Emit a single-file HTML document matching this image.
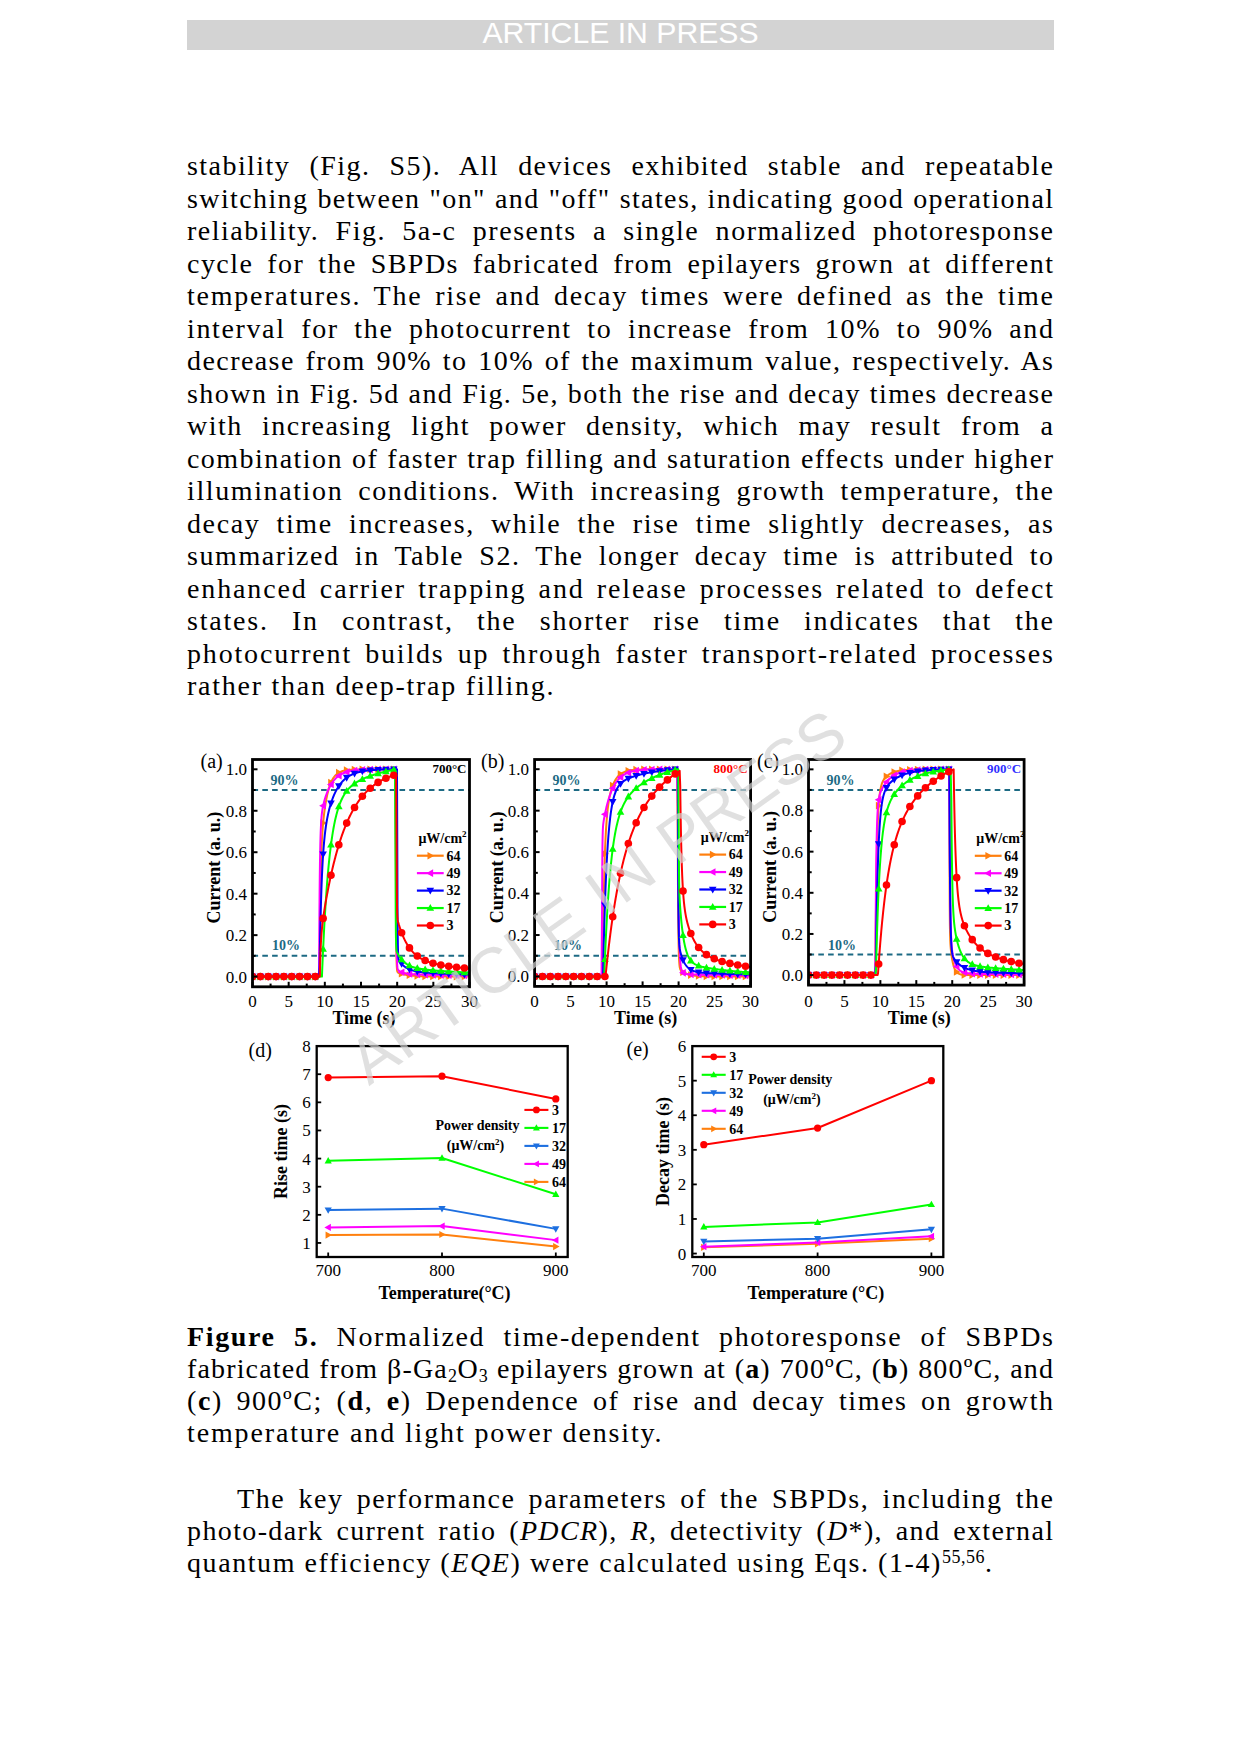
<!DOCTYPE html>
<html><head><meta charset="utf-8"><title>Figure 5</title>
<style>
html,body{margin:0;padding:0;background:#fff;}
body{width:1241px;height:1754px;position:relative;overflow:hidden;}
.hdr{position:absolute;left:187px;top:20px;width:867px;height:30px;background:#d3d3d3;}
.hdr span{position:absolute;left:0;right:0;text-align:center;top:-1.8px;line-height:30px;font-family:"Liberation Sans",sans-serif;font-size:30.2px;color:#fff;white-space:nowrap}
.ln{position:absolute;height:40px;line-height:40px;font-family:"Liberation Serif",serif;font-size:28px;letter-spacing:1.6px;color:#000;white-space:nowrap;text-align:justify;}
.ln sub,.ln sup{font-size:18px;line-height:0;letter-spacing:0.5px}
.ln sub{vertical-align:-4px}
.ln sup{vertical-align:9px}
.fig{position:absolute;left:0;top:0;}
</style></head><body>
<div class="hdr"><span>ARTICLE IN PRESS</span></div>
<div class="ln" style="top:146.15px;left:187px;width:867.45px;letter-spacing:1.446px;text-align-last:justify">stability (Fig. S5). All devices exhibited stable and repeatable</div>
<div class="ln" style="top:178.65px;left:187px;width:867.39px;letter-spacing:1.388px;text-align-last:justify">switching between &quot;on&quot; and &quot;off&quot; states, indicating good operational</div>
<div class="ln" style="top:211.15px;left:187px;width:867.52px;letter-spacing:1.516px;text-align-last:justify">reliability. Fig. 5a-c presents a single normalized photoresponse</div>
<div class="ln" style="top:243.65px;left:187px;width:867.47px;letter-spacing:1.469px;text-align-last:justify">cycle for the SBPDs fabricated from epilayers grown at different</div>
<div class="ln" style="top:276.15px;left:187px;width:867.75px;letter-spacing:1.749px;text-align-last:justify">temperatures. The rise and decay times were defined as the time</div>
<div class="ln" style="top:308.65px;left:187px;width:867.63px;letter-spacing:1.627px;text-align-last:justify">interval for the photocurrent to increase from 10% to 90% and</div>
<div class="ln" style="top:341.15px;left:187px;width:867.43px;letter-spacing:1.430px;text-align-last:justify">decrease from 90% to 10% of the maximum value, respectively. As</div>
<div class="ln" style="top:373.65px;left:187px;width:867.45px;letter-spacing:1.447px;text-align-last:justify">shown in Fig. 5d and Fig. 5e, both the rise and decay times decrease</div>
<div class="ln" style="top:406.15px;left:187px;width:867.49px;letter-spacing:1.493px;text-align-last:justify">with increasing light power density, which may result from a</div>
<div class="ln" style="top:438.65px;left:187px;width:867.45px;letter-spacing:1.447px;text-align-last:justify">combination of faster trap filling and saturation effects under higher</div>
<div class="ln" style="top:471.15px;left:187px;width:867.61px;letter-spacing:1.613px;text-align-last:justify">illumination conditions. With increasing growth temperature, the</div>
<div class="ln" style="top:503.65px;left:187px;width:867.61px;letter-spacing:1.613px;text-align-last:justify">decay time increases, while the rise time slightly decreases, as</div>
<div class="ln" style="top:536.15px;left:187px;width:867.58px;letter-spacing:1.580px;text-align-last:justify">summarized in Table S2. The longer decay time is attributed to</div>
<div class="ln" style="top:568.65px;left:187px;width:867.87px;letter-spacing:1.873px;text-align-last:justify">enhanced carrier trapping and release processes related to defect</div>
<div class="ln" style="top:601.15px;left:187px;width:867.79px;letter-spacing:1.791px;text-align-last:justify">states. In contrast, the shorter rise time indicates that the</div>
<div class="ln" style="top:633.65px;left:187px;width:867.83px;letter-spacing:1.828px;text-align-last:justify">photocurrent builds up through faster transport-related processes</div>
<div class="ln" style="top:666.15px;left:187px;width:867.75px;letter-spacing:1.755px;text-align-last:left">rather than deep-trap filling.</div>
<div class="ln" style="top:1316.75px;left:187px;width:867.65px;letter-spacing:1.648px;text-align-last:justify"><b>Figure 5.</b> Normalized time-dependent photoresponse of SBPDs</div>
<div class="ln" style="top:1348.95px;left:187px;width:867.15px;letter-spacing:1.152px;text-align-last:justify">fabricated from β-Ga<sub>2</sub>O<sub>3</sub> epilayers grown at (<b>a</b>) 700ºC, (<b>b</b>) 800ºC, and</div>
<div class="ln" style="top:1381.15px;left:187px;width:867.56px;letter-spacing:1.558px;text-align-last:justify">(<b>c</b>) 900ºC; (<b>d</b>, <b>e</b>) Dependence of rise and decay times on growth</div>
<div class="ln" style="top:1413.35px;left:187px;width:867.86px;letter-spacing:1.860px;text-align-last:left">temperature and light power density.</div>
<div class="ln" style="top:1478.55px;left:237px;width:817.58px;letter-spacing:1.579px;text-align-last:justify">The key performance parameters of the SBPDs, including the</div>
<div class="ln" style="top:1511.00px;left:187px;width:867.38px;letter-spacing:1.378px;text-align-last:justify">photo-dark current ratio (<i>PDCR</i>), <i>R</i>, detectivity (<i>D</i>*), and external</div>
<div class="ln" style="top:1543.45px;left:187px;width:867.58px;letter-spacing:1.577px;text-align-last:left">quantum efficiency (<i>EQE</i>) were calculated using Eqs. (1-4)<sup>55,56</sup>.</div>

<svg class="fig" width="1241" height="1754" viewBox="0 0 1241 1754" font-family="Liberation Serif">
<line x1="252.50" y1="790.03" x2="469.50" y2="790.03" stroke="#1c6a84" stroke-width="2" stroke-dasharray="5.6,4.2"/>
<line x1="252.50" y1="955.87" x2="469.50" y2="955.87" stroke="#1c6a84" stroke-width="2" stroke-dasharray="5.6,4.2"/>
<clipPath id="clip252"><rect x="252.50" y="759.50" width="217.00" height="227.30"/></clipPath>
<g clip-path="url(#clip252)">
<path d="M252.50,976.60 L253.22,976.60 L253.95,976.60 L254.67,976.60 L255.39,976.60 L256.12,976.60 L256.84,976.60 L257.56,976.60 L258.29,976.60 L259.01,976.60 L259.73,976.60 L260.46,976.60 L261.18,976.60 L261.90,976.60 L262.63,976.60 L263.35,976.60 L264.07,976.60 L264.80,976.60 L265.52,976.60 L266.24,976.60 L266.97,976.60 L267.69,976.60 L268.41,976.60 L269.14,976.60 L269.86,976.60 L270.58,976.60 L271.31,976.60 L272.03,976.60 L272.75,976.60 L273.48,976.60 L274.20,976.60 L274.92,976.60 L275.65,976.60 L276.37,976.60 L277.09,976.60 L277.82,976.60 L278.54,976.60 L279.26,976.60 L279.99,976.60 L280.71,976.60 L281.43,976.60 L282.16,976.60 L282.88,976.60 L283.60,976.60 L284.33,976.60 L285.05,976.60 L285.77,976.60 L286.50,976.60 L287.22,976.60 L287.94,976.60 L288.67,976.60 L289.39,976.60 L290.11,976.60 L290.84,976.60 L291.56,976.60 L292.28,976.60 L293.01,976.60 L293.73,976.60 L294.45,976.60 L295.18,976.60 L295.90,976.60 L296.62,976.60 L297.35,976.60 L298.07,976.60 L298.79,976.60 L299.52,976.60 L300.24,976.60 L300.96,976.60 L301.69,976.60 L302.41,976.60 L303.13,976.60 L303.86,976.60 L304.58,976.60 L305.30,976.60 L306.03,976.60 L306.75,976.60 L307.47,976.60 L308.20,976.60 L308.92,976.60 L309.64,976.60 L310.37,976.60 L311.09,976.60 L311.81,976.60 L312.54,976.60 L313.26,976.60 L313.98,976.60 L314.71,976.60 L315.43,976.60 L316.15,976.60 L316.88,976.60 L317.60,976.60 L318.32,976.60 L319.05,976.60 L319.77,976.60 L319.95,948.85 L320.13,926.65 L320.31,908.81 L320.49,894.37 L320.67,882.61 L320.86,872.95 L321.04,864.94 L321.22,858.23 L321.40,852.56 L321.58,847.69 L321.76,843.48 L321.94,839.79 L322.12,836.52 L322.30,833.59 L322.48,830.93 L322.66,828.50 L322.84,826.25 L323.02,824.17 L323.21,822.21 L323.39,820.37 L323.57,818.63 L323.75,816.98 L323.93,815.40 L324.11,813.89 L324.29,812.44 L324.47,811.05 L324.65,809.72 L324.83,808.43 L325.01,807.19 L325.19,805.99 L325.38,804.83 L325.56,803.71 L325.74,802.63 L325.92,801.58 L326.10,800.57 L326.28,799.59 L326.46,798.64 L326.64,797.72 L326.82,796.83 L327.00,795.97 L327.18,795.14 L327.37,794.33 L327.55,793.55 L327.73,792.79 L327.91,792.06 L328.09,791.34 L328.27,790.66 L328.45,789.99 L328.63,789.34 L328.81,788.72 L328.99,788.11 L329.17,787.52 L329.35,786.95 L329.53,786.40 L329.72,785.87 L329.90,785.35 L330.08,784.85 L330.26,784.36 L330.44,783.89 L330.62,783.44 L330.80,782.99 L330.98,782.57 L331.34,781.75 L331.70,780.99 L332.07,780.27 L332.43,779.59 L332.79,778.96 L333.15,778.37 L333.51,777.81 L333.88,777.28 L334.24,776.79 L334.60,776.33 L334.96,775.90 L335.32,775.49 L335.68,775.11 L336.05,774.76 L336.41,774.42 L336.77,774.11 L337.13,773.81 L337.49,773.53 L337.85,773.27 L338.22,773.03 L338.76,772.69 L339.30,772.38 L339.84,772.10 L340.38,771.85 L340.93,771.62 L341.47,771.41 L342.01,771.21 L342.56,771.04 L343.10,770.88 L343.64,770.74 L344.18,770.61 L344.73,770.49 L345.27,770.38 L345.81,770.28 L346.35,770.19 L346.89,770.11 L347.44,770.04 L347.98,769.97 L348.52,769.91 L349.25,769.84 L349.97,769.77 L350.69,769.72 L351.42,769.67 L352.14,769.62 L352.86,769.59 L353.59,769.55 L354.31,769.52 L355.03,769.49 L355.76,769.47 L356.48,769.45 L357.20,769.43 L357.93,769.42 L358.65,769.40 L359.37,769.39 L360.10,769.38 L360.82,769.37 L361.54,769.36 L362.27,769.35 L362.99,769.35 L363.71,769.34 L364.44,769.34 L365.16,769.33 L365.88,769.33 L366.61,769.33 L367.33,769.32 L368.05,769.32 L368.78,769.32 L369.50,769.32 L370.22,769.31 L370.95,769.31 L371.67,769.31 L372.39,769.31 L373.12,769.31 L373.84,769.31 L374.56,769.31 L375.29,769.31 L376.01,769.30 L376.73,769.30 L377.46,769.30 L378.18,769.30 L378.90,769.30 L379.63,769.30 L380.35,769.30 L381.07,769.30 L381.80,769.30 L382.52,769.30 L383.24,769.30 L383.97,769.30 L384.69,769.30 L385.41,769.30 L386.14,769.30 L386.86,769.30 L387.58,769.30 L388.31,769.30 L389.03,769.30 L389.75,769.30 L390.48,769.30 L391.20,769.30 L391.92,769.30 L392.65,769.30 L393.37,769.30 L394.09,769.30 L394.82,769.30 L395.54,769.30 L395.90,861.78 L396.08,912.07 L396.26,939.43 L396.44,954.34 L396.62,962.47 L396.81,966.93 L396.99,969.39 L397.17,970.75 L397.35,971.53 L397.53,971.99 L397.89,972.45 L398.43,972.78 L398.98,972.99 L399.52,973.18 L400.06,973.36 L400.60,973.53 L401.14,973.69 L401.69,973.84 L402.23,973.98 L402.77,974.12 L403.31,974.25 L403.86,974.37 L404.40,974.49 L404.94,974.60 L405.49,974.70 L406.03,974.80 L406.57,974.89 L407.11,974.98 L407.65,975.07 L408.20,975.15 L408.74,975.22 L409.28,975.29 L409.82,975.36 L410.37,975.43 L410.91,975.49 L411.45,975.54 L412.18,975.62 L412.90,975.69 L413.62,975.75 L414.35,975.81 L415.07,975.86 L415.79,975.91 L416.52,975.96 L417.24,976.00 L417.96,976.04 L418.69,976.08 L419.41,976.12 L420.13,976.15 L420.86,976.18 L421.58,976.21 L422.30,976.24 L423.03,976.26 L423.75,976.29 L424.47,976.31 L425.20,976.33 L425.92,976.35 L426.64,976.36 L427.37,976.38 L428.09,976.40 L428.81,976.41 L429.54,976.42 L430.26,976.43 L430.98,976.45 L431.71,976.46 L432.43,976.47 L433.15,976.48 L433.88,976.48 L434.60,976.49 L435.32,976.50 L436.05,976.51 L436.77,976.51 L437.49,976.52 L438.22,976.52 L438.94,976.53 L439.66,976.53 L440.39,976.54 L441.11,976.54 L441.83,976.55 L442.56,976.55 L443.28,976.55 L444.00,976.56 L444.73,976.56 L445.45,976.56 L446.17,976.57 L446.90,976.57 L447.62,976.57 L448.34,976.57 L449.07,976.57 L449.79,976.58 L450.51,976.58 L451.24,976.58 L451.96,976.58 L452.68,976.58 L453.41,976.58 L454.13,976.58 L454.85,976.59 L455.58,976.59 L456.30,976.59 L457.02,976.59 L457.75,976.59 L458.47,976.59 L459.19,976.59 L459.92,976.59 L460.64,976.59 L461.36,976.59 L462.09,976.59 L462.81,976.59 L463.53,976.59 L464.26,976.59 L464.98,976.59 L465.70,976.59 L466.43,976.60 L467.15,976.60 L467.87,976.60 L468.60,976.60 L469.32,976.60 L469.50,976.60" fill="none" stroke="#ff7f0e" stroke-width="2" stroke-linejoin="round"/>
<polygon points="256.50,976.60 249.70,972.80 249.70,980.40" fill="#ff7f0e"/>
<polygon points="264.35,976.60 257.55,972.80 257.55,980.40" fill="#ff7f0e"/>
<polygon points="272.20,976.60 265.40,972.80 265.40,980.40" fill="#ff7f0e"/>
<polygon points="280.04,976.60 273.24,972.80 273.24,980.40" fill="#ff7f0e"/>
<polygon points="287.89,976.60 281.09,972.80 281.09,980.40" fill="#ff7f0e"/>
<polygon points="295.74,976.60 288.94,972.80 288.94,980.40" fill="#ff7f0e"/>
<polygon points="303.59,976.60 296.79,972.80 296.79,980.40" fill="#ff7f0e"/>
<polygon points="311.44,976.60 304.64,972.80 304.64,980.40" fill="#ff7f0e"/>
<polygon points="319.29,976.60 312.49,972.80 312.49,980.40" fill="#ff7f0e"/>
<polygon points="327.13,822.98 320.33,819.18 320.33,826.78" fill="#ff7f0e"/>
<polygon points="334.98,782.57 328.18,778.77 328.18,786.37" fill="#ff7f0e"/>
<polygon points="342.83,772.65 336.03,768.85 336.03,776.45" fill="#ff7f0e"/>
<polygon points="350.68,770.14 343.88,766.34 343.88,773.94" fill="#ff7f0e"/>
<polygon points="358.53,769.51 351.73,765.71 351.73,773.31" fill="#ff7f0e"/>
<polygon points="366.37,769.35 359.57,765.55 359.57,773.15" fill="#ff7f0e"/>
<polygon points="374.22,769.31 367.42,765.51 367.42,773.11" fill="#ff7f0e"/>
<polygon points="382.07,769.30 375.27,765.50 375.27,773.10" fill="#ff7f0e"/>
<polygon points="389.92,769.30 383.12,765.50 383.12,773.10" fill="#ff7f0e"/>
<polygon points="397.77,769.30 390.97,765.50 390.97,773.10" fill="#ff7f0e"/>
<polygon points="405.62,973.82 398.82,970.02 398.82,977.62" fill="#ff7f0e"/>
<polygon points="413.46,975.32 406.66,971.52 406.66,979.12" fill="#ff7f0e"/>
<polygon points="421.31,976.01 414.51,972.21 414.51,979.81" fill="#ff7f0e"/>
<polygon points="429.16,976.33 422.36,972.53 422.36,980.13" fill="#ff7f0e"/>
<polygon points="437.01,976.47 430.21,972.67 430.21,980.27" fill="#ff7f0e"/>
<polygon points="444.86,976.54 438.06,972.74 438.06,980.34" fill="#ff7f0e"/>
<polygon points="452.70,976.57 445.90,972.77 445.90,980.37" fill="#ff7f0e"/>
<polygon points="460.55,976.59 453.75,972.79 453.75,980.39" fill="#ff7f0e"/>
<polygon points="468.40,976.59 461.60,972.79 461.60,980.39" fill="#ff7f0e"/>
<path d="M252.50,976.60 L253.22,976.60 L253.95,976.60 L254.67,976.60 L255.39,976.60 L256.12,976.60 L256.84,976.60 L257.56,976.60 L258.29,976.60 L259.01,976.60 L259.73,976.60 L260.46,976.60 L261.18,976.60 L261.90,976.60 L262.63,976.60 L263.35,976.60 L264.07,976.60 L264.80,976.60 L265.52,976.60 L266.24,976.60 L266.97,976.60 L267.69,976.60 L268.41,976.60 L269.14,976.60 L269.86,976.60 L270.58,976.60 L271.31,976.60 L272.03,976.60 L272.75,976.60 L273.48,976.60 L274.20,976.60 L274.92,976.60 L275.65,976.60 L276.37,976.60 L277.09,976.60 L277.82,976.60 L278.54,976.60 L279.26,976.60 L279.99,976.60 L280.71,976.60 L281.43,976.60 L282.16,976.60 L282.88,976.60 L283.60,976.60 L284.33,976.60 L285.05,976.60 L285.77,976.60 L286.50,976.60 L287.22,976.60 L287.94,976.60 L288.67,976.60 L289.39,976.60 L290.11,976.60 L290.84,976.60 L291.56,976.60 L292.28,976.60 L293.01,976.60 L293.73,976.60 L294.45,976.60 L295.18,976.60 L295.90,976.60 L296.62,976.60 L297.35,976.60 L298.07,976.60 L298.79,976.60 L299.52,976.60 L300.24,976.60 L300.96,976.60 L301.69,976.60 L302.41,976.60 L303.13,976.60 L303.86,976.60 L304.58,976.60 L305.30,976.60 L306.03,976.60 L306.75,976.60 L307.47,976.60 L308.20,976.60 L308.92,976.60 L309.64,976.60 L310.37,976.60 L311.09,976.60 L311.81,976.60 L312.54,976.60 L313.26,976.60 L313.98,976.60 L314.71,976.60 L315.43,976.60 L316.15,976.60 L316.88,976.60 L317.60,976.60 L318.32,976.60 L319.05,976.60 L319.23,942.22 L319.41,915.19 L319.59,893.90 L319.77,877.08 L319.95,863.76 L320.13,853.17 L320.31,844.71 L320.49,837.92 L320.67,832.43 L320.86,827.96 L321.04,824.29 L321.22,821.25 L321.40,818.70 L321.58,816.53 L321.76,814.68 L321.94,813.06 L322.12,811.64 L322.30,810.36 L322.48,809.22 L322.66,808.16 L322.84,807.19 L323.02,806.29 L323.21,805.44 L323.39,804.63 L323.57,803.86 L323.75,803.12 L323.93,802.41 L324.11,801.73 L324.29,801.06 L324.47,800.42 L324.65,799.79 L324.83,799.18 L325.01,798.58 L325.19,798.00 L325.38,797.43 L325.56,796.88 L325.74,796.33 L325.92,795.80 L326.10,795.28 L326.28,794.77 L326.46,794.27 L326.64,793.78 L326.82,793.29 L327.00,792.82 L327.18,792.36 L327.37,791.91 L327.55,791.47 L327.73,791.03 L327.91,790.61 L328.27,789.78 L328.63,788.98 L328.99,788.22 L329.35,787.49 L329.72,786.78 L330.08,786.10 L330.44,785.45 L330.80,784.82 L331.16,784.22 L331.52,783.64 L331.89,783.08 L332.25,782.55 L332.61,782.03 L332.97,781.54 L333.33,781.06 L333.69,780.61 L334.06,780.17 L334.42,779.75 L334.78,779.34 L335.14,778.95 L335.50,778.58 L335.86,778.22 L336.23,777.87 L336.59,777.54 L336.95,777.22 L337.31,776.91 L337.67,776.61 L338.03,776.33 L338.40,776.06 L338.76,775.79 L339.12,775.54 L339.48,775.30 L340.02,774.95 L340.57,774.63 L341.11,774.32 L341.65,774.03 L342.19,773.76 L342.74,773.50 L343.28,773.26 L343.82,773.03 L344.36,772.81 L344.91,772.61 L345.45,772.42 L345.99,772.24 L346.53,772.07 L347.08,771.91 L347.62,771.76 L348.16,771.61 L348.70,771.48 L349.25,771.35 L349.79,771.23 L350.33,771.12 L350.87,771.02 L351.42,770.92 L351.96,770.82 L352.50,770.73 L353.04,770.65 L353.59,770.57 L354.13,770.50 L354.67,770.43 L355.21,770.36 L355.76,770.30 L356.30,770.24 L357.02,770.17 L357.75,770.10 L358.47,770.04 L359.19,769.98 L359.91,769.93 L360.64,769.88 L361.36,769.84 L362.09,769.79 L362.81,769.76 L363.53,769.72 L364.25,769.69 L364.98,769.66 L365.70,769.63 L366.43,769.60 L367.15,769.58 L367.87,769.56 L368.60,769.54 L369.32,769.52 L370.04,769.50 L370.76,769.48 L371.49,769.47 L372.21,769.45 L372.94,769.44 L373.66,769.43 L374.38,769.42 L375.11,769.41 L375.83,769.40 L376.55,769.39 L377.27,769.38 L378.00,769.38 L378.72,769.37 L379.44,769.36 L380.17,769.36 L380.89,769.35 L381.62,769.35 L382.34,769.34 L383.06,769.34 L383.78,769.33 L384.51,769.33 L385.23,769.33 L385.95,769.32 L386.68,769.32 L387.40,769.32 L388.12,769.32 L388.85,769.31 L389.57,769.31 L390.30,769.31 L391.02,769.31 L391.74,769.31 L392.47,769.31 L393.19,769.30 L393.91,769.30 L394.63,769.30 L395.36,769.30 L395.90,843.06 L396.08,889.59 L396.26,918.97 L396.44,937.54 L396.62,949.31 L396.81,956.78 L396.99,961.54 L397.17,964.60 L397.35,966.58 L397.53,967.88 L397.71,968.75 L397.89,969.34 L398.07,969.77 L398.43,970.32 L398.79,970.68 L399.16,970.96 L399.70,971.29 L400.24,971.58 L400.78,971.84 L401.33,972.08 L401.87,972.29 L402.41,972.49 L402.95,972.67 L403.50,972.83 L404.04,972.97 L404.58,973.11 L405.12,973.23 L405.67,973.34 L406.21,973.45 L406.75,973.54 L407.29,973.63 L407.84,973.71 L408.38,973.78 L408.92,973.85 L409.46,973.91 L410.01,973.97 L410.73,974.04 L411.45,974.10 L412.18,974.16 L412.90,974.21 L413.62,974.26 L414.35,974.31 L415.07,974.35 L415.79,974.39 L416.52,974.42 L417.24,974.46 L417.96,974.49 L418.69,974.52 L419.41,974.55 L420.13,974.57 L420.86,974.60 L421.58,974.62 L422.30,974.65 L423.03,974.67 L423.75,974.69 L424.47,974.71 L425.20,974.73 L425.92,974.75 L426.64,974.77 L427.37,974.79 L428.09,974.81 L428.81,974.83 L429.54,974.84 L430.26,974.86 L430.98,974.88 L431.71,974.90 L432.43,974.91 L433.15,974.93 L433.88,974.94 L434.60,974.96 L435.32,974.98 L436.05,974.99 L436.77,975.01 L437.49,975.02 L438.22,975.04 L438.94,975.05 L439.66,975.06 L440.39,975.08 L441.11,975.09 L441.83,975.11 L442.56,975.12 L443.28,975.13 L444.00,975.15 L444.73,975.16 L445.45,975.18 L446.17,975.19 L446.90,975.20 L447.62,975.21 L448.34,975.23 L449.07,975.24 L449.79,975.25 L450.51,975.27 L451.24,975.28 L451.96,975.29 L452.68,975.30 L453.41,975.31 L454.13,975.33 L454.85,975.34 L455.58,975.35 L456.30,975.36 L457.02,975.37 L457.75,975.38 L458.47,975.39 L459.19,975.41 L459.92,975.42 L460.64,975.43 L461.36,975.44 L462.09,975.45 L462.81,975.46 L463.53,975.47 L464.26,975.48 L464.98,975.49 L465.70,975.50 L466.43,975.51 L467.15,975.52 L467.87,975.53 L468.60,975.54 L469.32,975.55 L469.50,975.55" fill="none" stroke="#ff00ff" stroke-width="2" stroke-linejoin="round"/>
<polygon points="248.50,976.60 255.30,972.80 255.30,980.40" fill="#ff00ff"/>
<polygon points="256.35,976.60 263.15,972.80 263.15,980.40" fill="#ff00ff"/>
<polygon points="264.20,976.60 271.00,972.80 271.00,980.40" fill="#ff00ff"/>
<polygon points="272.04,976.60 278.84,972.80 278.84,980.40" fill="#ff00ff"/>
<polygon points="279.89,976.60 286.69,972.80 286.69,980.40" fill="#ff00ff"/>
<polygon points="287.74,976.60 294.54,972.80 294.54,980.40" fill="#ff00ff"/>
<polygon points="295.59,976.60 302.39,972.80 302.39,980.40" fill="#ff00ff"/>
<polygon points="303.44,976.60 310.24,972.80 310.24,980.40" fill="#ff00ff"/>
<polygon points="311.29,976.60 318.09,972.80 318.09,980.40" fill="#ff00ff"/>
<polygon points="319.13,805.77 325.93,801.97 325.93,809.57" fill="#ff00ff"/>
<polygon points="326.98,784.52 333.78,780.72 333.78,788.32" fill="#ff00ff"/>
<polygon points="334.83,775.74 341.63,771.94 341.63,779.54" fill="#ff00ff"/>
<polygon points="342.68,772.02 349.48,768.22 349.48,775.82" fill="#ff00ff"/>
<polygon points="350.53,770.45 357.33,766.65 357.33,774.25" fill="#ff00ff"/>
<polygon points="358.37,769.78 365.17,765.98 365.17,773.58" fill="#ff00ff"/>
<polygon points="366.22,769.50 373.02,765.70 373.02,773.30" fill="#ff00ff"/>
<polygon points="374.07,769.38 380.87,765.58 380.87,773.18" fill="#ff00ff"/>
<polygon points="381.92,769.32 388.72,765.52 388.72,773.12" fill="#ff00ff"/>
<polygon points="389.77,769.30 396.57,765.50 396.57,773.10" fill="#ff00ff"/>
<polygon points="397.62,972.20 404.42,968.40 404.42,976.00" fill="#ff00ff"/>
<polygon points="405.46,973.91 412.26,970.11 412.26,977.71" fill="#ff00ff"/>
<polygon points="413.31,974.46 420.11,970.66 420.11,978.26" fill="#ff00ff"/>
<polygon points="421.16,974.73 427.96,970.93 427.96,978.53" fill="#ff00ff"/>
<polygon points="429.01,974.92 435.81,971.12 435.81,978.72" fill="#ff00ff"/>
<polygon points="436.86,975.09 443.66,971.29 443.66,978.89" fill="#ff00ff"/>
<polygon points="444.70,975.23 451.50,971.43 451.50,979.03" fill="#ff00ff"/>
<polygon points="452.55,975.36 459.35,971.56 459.35,979.16" fill="#ff00ff"/>
<polygon points="460.40,975.48 467.20,971.68 467.20,979.28" fill="#ff00ff"/>
<path d="M252.50,976.60 L253.22,976.60 L253.95,976.60 L254.67,976.60 L255.39,976.60 L256.12,976.60 L256.84,976.60 L257.56,976.60 L258.29,976.60 L259.01,976.60 L259.73,976.60 L260.46,976.60 L261.18,976.60 L261.90,976.60 L262.63,976.60 L263.35,976.60 L264.07,976.60 L264.80,976.60 L265.52,976.60 L266.24,976.60 L266.97,976.60 L267.69,976.60 L268.41,976.60 L269.14,976.60 L269.86,976.60 L270.58,976.60 L271.31,976.60 L272.03,976.60 L272.75,976.60 L273.48,976.60 L274.20,976.60 L274.92,976.60 L275.65,976.60 L276.37,976.60 L277.09,976.60 L277.82,976.60 L278.54,976.60 L279.26,976.60 L279.99,976.60 L280.71,976.60 L281.43,976.60 L282.16,976.60 L282.88,976.60 L283.60,976.60 L284.33,976.60 L285.05,976.60 L285.77,976.60 L286.50,976.60 L287.22,976.60 L287.94,976.60 L288.67,976.60 L289.39,976.60 L290.11,976.60 L290.84,976.60 L291.56,976.60 L292.28,976.60 L293.01,976.60 L293.73,976.60 L294.45,976.60 L295.18,976.60 L295.90,976.60 L296.62,976.60 L297.35,976.60 L298.07,976.60 L298.79,976.60 L299.52,976.60 L300.24,976.60 L300.96,976.60 L301.69,976.60 L302.41,976.60 L303.13,976.60 L303.86,976.60 L304.58,976.60 L305.30,976.60 L306.03,976.60 L306.75,976.60 L307.47,976.60 L308.20,976.60 L308.92,976.60 L309.64,976.60 L310.37,976.60 L311.09,976.60 L311.81,976.60 L312.54,976.60 L313.26,976.60 L313.98,976.60 L314.71,976.60 L315.43,976.60 L316.15,976.60 L316.88,976.60 L317.60,976.60 L318.32,976.60 L319.05,976.60 L319.59,965.30 L319.77,954.87 L319.95,945.23 L320.13,936.32 L320.31,928.09 L320.49,920.46 L320.67,913.39 L320.86,906.84 L321.04,900.76 L321.22,895.12 L321.40,889.86 L321.58,884.98 L321.76,880.42 L321.94,876.18 L322.12,872.21 L322.30,868.51 L322.48,865.04 L322.66,861.79 L322.84,858.74 L323.02,855.87 L323.21,853.18 L323.39,850.64 L323.57,848.24 L323.75,845.98 L323.93,843.85 L324.11,841.82 L324.29,839.90 L324.47,838.08 L324.65,836.35 L324.83,834.70 L325.01,833.12 L325.19,831.62 L325.38,830.19 L325.56,828.81 L325.74,827.50 L325.92,826.23 L326.10,825.02 L326.28,823.85 L326.46,822.72 L326.64,821.64 L326.82,820.59 L327.00,819.58 L327.18,818.60 L327.37,817.66 L327.55,816.74 L327.73,815.85 L327.91,814.98 L328.09,814.14 L328.27,813.33 L328.45,812.53 L328.63,811.76 L328.81,811.01 L328.99,810.27 L329.17,809.56 L329.35,808.86 L329.53,808.17 L329.72,807.51 L329.90,806.86 L330.08,806.22 L330.26,805.59 L330.44,804.98 L330.62,804.39 L330.80,803.80 L330.98,803.23 L331.16,802.66 L331.34,802.11 L331.52,801.57 L331.70,801.04 L331.89,800.52 L332.07,800.01 L332.25,799.51 L332.43,799.02 L332.61,798.53 L332.79,798.06 L332.97,797.59 L333.15,797.14 L333.33,796.69 L333.51,796.25 L333.69,795.81 L333.88,795.39 L334.06,794.97 L334.42,794.15 L334.78,793.36 L335.14,792.59 L335.50,791.86 L335.86,791.14 L336.23,790.45 L336.59,789.78 L336.95,789.13 L337.31,788.51 L337.67,787.90 L338.03,787.31 L338.40,786.74 L338.76,786.19 L339.12,785.66 L339.48,785.14 L339.84,784.64 L340.20,784.16 L340.57,783.69 L340.93,783.24 L341.29,782.80 L341.65,782.37 L342.01,781.96 L342.37,781.56 L342.74,781.17 L343.10,780.80 L343.46,780.43 L343.82,780.08 L344.18,779.74 L344.54,779.41 L344.91,779.09 L345.27,778.78 L345.63,778.48 L345.99,778.19 L346.35,777.91 L346.71,777.64 L347.08,777.37 L347.44,777.11 L347.80,776.87 L348.16,776.63 L348.70,776.28 L349.25,775.95 L349.79,775.64 L350.33,775.34 L350.87,775.05 L351.42,774.78 L351.96,774.52 L352.50,774.27 L353.04,774.03 L353.59,773.81 L354.13,773.59 L354.67,773.39 L355.21,773.19 L355.76,773.01 L356.30,772.83 L356.84,772.66 L357.38,772.50 L357.93,772.35 L358.47,772.20 L359.01,772.06 L359.55,771.93 L360.10,771.80 L360.64,771.68 L361.18,771.56 L361.72,771.45 L362.27,771.35 L362.81,771.25 L363.35,771.15 L363.89,771.06 L364.44,770.97 L364.98,770.89 L365.52,770.81 L366.06,770.74 L366.61,770.67 L367.15,770.60 L367.69,770.53 L368.23,770.47 L368.78,770.41 L369.50,770.34 L370.22,770.27 L370.95,770.20 L371.67,770.14 L372.39,770.08 L373.12,770.03 L373.84,769.98 L374.56,769.93 L375.29,769.88 L376.01,769.84 L376.73,769.80 L377.46,769.76 L378.18,769.73 L378.90,769.70 L379.63,769.67 L380.35,769.64 L381.07,769.61 L381.80,769.59 L382.52,769.56 L383.24,769.54 L383.97,769.52 L384.69,769.50 L385.41,769.48 L386.14,769.46 L386.86,769.45 L387.58,769.43 L388.31,769.42 L389.03,769.40 L389.75,769.39 L390.48,769.38 L391.20,769.37 L391.92,769.36 L392.65,769.35 L393.37,769.34 L394.09,769.33 L394.82,769.32 L395.54,769.32 L396.26,769.31 L396.99,769.30 L397.35,861.54 L397.53,908.85 L397.71,933.20 L397.89,945.80 L398.07,952.39 L398.25,955.91 L398.43,957.85 L398.61,958.98 L398.79,959.70 L398.98,960.20 L399.34,960.91 L399.70,961.48 L400.06,961.98 L400.42,962.46 L400.78,962.91 L401.14,963.34 L401.51,963.75 L401.87,964.14 L402.23,964.51 L402.59,964.87 L402.95,965.21 L403.31,965.53 L403.68,965.84 L404.04,966.14 L404.40,966.42 L404.76,966.70 L405.12,966.95 L405.49,967.20 L406.03,967.55 L406.57,967.88 L407.11,968.19 L407.65,968.48 L408.20,968.75 L408.74,969.00 L409.28,969.23 L409.82,969.46 L410.37,969.67 L410.91,969.86 L411.45,970.05 L412.00,970.22 L412.54,970.38 L413.08,970.54 L413.62,970.68 L414.17,970.82 L414.71,970.95 L415.25,971.07 L415.79,971.19 L416.33,971.30 L416.88,971.40 L417.42,971.50 L417.96,971.59 L418.50,971.68 L419.05,971.77 L419.59,971.85 L420.13,971.93 L420.68,972.00 L421.22,972.07 L421.76,972.14 L422.30,972.20 L422.85,972.27 L423.39,972.33 L424.11,972.40 L424.83,972.47 L425.56,972.54 L426.28,972.61 L427.00,972.67 L427.73,972.73 L428.45,972.79 L429.17,972.85 L429.90,972.90 L430.62,972.95 L431.34,973.00 L432.07,973.05 L432.79,973.10 L433.51,973.14 L434.24,973.19 L434.96,973.23 L435.68,973.27 L436.41,973.31 L437.13,973.35 L437.85,973.39 L438.58,973.43 L439.30,973.47 L440.02,973.50 L440.75,973.54 L441.47,973.57 L442.19,973.61 L442.92,973.64 L443.64,973.67 L444.36,973.71 L445.09,973.74 L445.81,973.77 L446.53,973.80 L447.26,973.83 L447.98,973.86 L448.70,973.89 L449.43,973.92 L450.15,973.95 L450.87,973.98 L451.60,974.01 L452.32,974.04 L453.04,974.07 L453.77,974.09 L454.49,974.12 L455.21,974.15 L455.94,974.17 L456.66,974.20 L457.38,974.22 L458.11,974.25 L458.83,974.27 L459.55,974.30 L460.28,974.32 L461.00,974.35 L461.72,974.37 L462.45,974.40 L463.17,974.42 L463.89,974.44 L464.62,974.47 L465.34,974.49 L466.06,974.51 L466.79,974.53 L467.51,974.55 L468.23,974.58 L468.96,974.60 L469.50,974.61" fill="none" stroke="#0000ff" stroke-width="2" stroke-linejoin="round"/>
<polygon points="252.50,980.60 248.70,973.80 256.30,973.80" fill="#0000ff"/>
<polygon points="260.35,980.60 256.55,973.80 264.15,973.80" fill="#0000ff"/>
<polygon points="268.20,980.60 264.40,973.80 272.00,973.80" fill="#0000ff"/>
<polygon points="276.04,980.60 272.24,973.80 279.84,973.80" fill="#0000ff"/>
<polygon points="283.89,980.60 280.09,973.80 287.69,973.80" fill="#0000ff"/>
<polygon points="291.74,980.60 287.94,973.80 295.54,973.80" fill="#0000ff"/>
<polygon points="299.59,980.60 295.79,973.80 303.39,973.80" fill="#0000ff"/>
<polygon points="307.44,980.60 303.64,973.80 311.24,973.80" fill="#0000ff"/>
<polygon points="315.29,980.60 311.49,973.80 319.09,973.80" fill="#0000ff"/>
<polygon points="323.13,858.23 319.33,851.43 326.93,851.43" fill="#0000ff"/>
<polygon points="330.98,807.23 327.18,800.43 334.78,800.43" fill="#0000ff"/>
<polygon points="338.83,790.09 335.03,783.29 342.63,783.29" fill="#0000ff"/>
<polygon points="346.68,781.66 342.88,774.86 350.48,774.86" fill="#0000ff"/>
<polygon points="354.53,777.44 350.73,770.64 358.33,770.64" fill="#0000ff"/>
<polygon points="362.37,775.33 358.57,768.53 366.17,768.53" fill="#0000ff"/>
<polygon points="370.22,774.27 366.42,767.47 374.02,767.47" fill="#0000ff"/>
<polygon points="378.07,773.73 374.27,766.93 381.87,766.93" fill="#0000ff"/>
<polygon points="385.92,773.47 382.12,766.67 389.72,766.67" fill="#0000ff"/>
<polygon points="393.77,773.33 389.97,766.53 397.57,766.53" fill="#0000ff"/>
<polygon points="401.62,967.87 397.82,961.07 405.42,961.07" fill="#0000ff"/>
<polygon points="409.46,973.31 405.66,966.51 413.26,966.51" fill="#0000ff"/>
<polygon points="417.31,975.48 413.51,968.68 421.11,968.68" fill="#0000ff"/>
<polygon points="425.16,976.51 421.36,969.71 428.96,969.71" fill="#0000ff"/>
<polygon points="433.01,977.11 429.21,970.31 436.81,970.31" fill="#0000ff"/>
<polygon points="440.86,977.54 437.06,970.74 444.66,970.74" fill="#0000ff"/>
<polygon points="448.70,977.89 444.90,971.09 452.50,971.09" fill="#0000ff"/>
<polygon points="456.55,978.19 452.75,971.39 460.35,971.39" fill="#0000ff"/>
<polygon points="464.40,978.46 460.60,971.66 468.20,971.66" fill="#0000ff"/>
<path d="M252.50,976.60 L253.22,976.60 L253.95,976.60 L254.67,976.60 L255.39,976.60 L256.12,976.60 L256.84,976.60 L257.56,976.60 L258.29,976.60 L259.01,976.60 L259.73,976.60 L260.46,976.60 L261.18,976.60 L261.90,976.60 L262.63,976.60 L263.35,976.60 L264.07,976.60 L264.80,976.60 L265.52,976.60 L266.24,976.60 L266.97,976.60 L267.69,976.60 L268.41,976.60 L269.14,976.60 L269.86,976.60 L270.58,976.60 L271.31,976.60 L272.03,976.60 L272.75,976.60 L273.48,976.60 L274.20,976.60 L274.92,976.60 L275.65,976.60 L276.37,976.60 L277.09,976.60 L277.82,976.60 L278.54,976.60 L279.26,976.60 L279.99,976.60 L280.71,976.60 L281.43,976.60 L282.16,976.60 L282.88,976.60 L283.60,976.60 L284.33,976.60 L285.05,976.60 L285.77,976.60 L286.50,976.60 L287.22,976.60 L287.94,976.60 L288.67,976.60 L289.39,976.60 L290.11,976.60 L290.84,976.60 L291.56,976.60 L292.28,976.60 L293.01,976.60 L293.73,976.60 L294.45,976.60 L295.18,976.60 L295.90,976.60 L296.62,976.60 L297.35,976.60 L298.07,976.60 L298.79,976.60 L299.52,976.60 L300.24,976.60 L300.96,976.60 L301.69,976.60 L302.41,976.60 L303.13,976.60 L303.86,976.60 L304.58,976.60 L305.30,976.60 L306.03,976.60 L306.75,976.60 L307.47,976.60 L308.20,976.60 L308.92,976.60 L309.64,976.60 L310.37,976.60 L311.09,976.60 L311.81,976.60 L312.54,976.60 L313.26,976.60 L313.98,976.60 L314.71,976.60 L315.43,976.60 L316.15,976.60 L316.88,976.60 L317.60,976.60 L318.32,976.60 L319.05,976.60 L319.77,976.60 L320.49,976.60 L321.22,976.60 L321.94,976.60 L322.12,972.12 L322.30,967.75 L322.48,963.49 L322.66,959.33 L322.84,955.26 L323.02,951.30 L323.21,947.43 L323.39,943.65 L323.57,939.96 L323.75,936.36 L323.93,932.85 L324.11,929.42 L324.29,926.07 L324.47,922.80 L324.65,919.61 L324.83,916.50 L325.01,913.46 L325.19,910.49 L325.38,907.59 L325.56,904.76 L325.74,902.00 L325.92,899.30 L326.10,896.67 L326.28,894.10 L326.46,891.59 L326.64,889.14 L326.82,886.74 L327.00,884.41 L327.18,882.12 L327.37,879.89 L327.55,877.72 L327.73,875.59 L327.91,873.52 L328.09,871.49 L328.27,869.51 L328.45,867.58 L328.63,865.69 L328.81,863.84 L328.99,862.04 L329.17,860.28 L329.35,858.56 L329.53,856.88 L329.72,855.24 L329.90,853.64 L330.08,852.07 L330.26,850.54 L330.44,849.04 L330.62,847.58 L330.80,846.16 L330.98,844.76 L331.16,843.40 L331.34,842.07 L331.52,840.77 L331.70,839.49 L331.89,838.25 L332.07,837.04 L332.25,835.85 L332.43,834.69 L332.61,833.55 L332.79,832.44 L332.97,831.36 L333.15,830.30 L333.33,829.26 L333.51,828.25 L333.69,827.26 L333.88,826.29 L334.06,825.34 L334.24,824.42 L334.42,823.51 L334.60,822.63 L334.78,821.76 L334.96,820.91 L335.14,820.08 L335.32,819.27 L335.50,818.48 L335.68,817.70 L335.86,816.94 L336.05,816.20 L336.23,815.47 L336.41,814.76 L336.59,814.07 L336.77,813.39 L336.95,812.72 L337.13,812.07 L337.31,811.43 L337.49,810.80 L337.67,810.19 L337.85,809.59 L338.03,809.00 L338.22,808.43 L338.40,807.87 L338.58,807.31 L338.76,806.77 L338.94,806.25 L339.12,805.73 L339.30,805.22 L339.48,804.72 L339.66,804.24 L339.84,803.76 L340.02,803.29 L340.20,802.83 L340.38,802.38 L340.57,801.94 L340.75,801.51 L340.93,801.09 L341.29,800.27 L341.65,799.48 L342.01,798.72 L342.37,797.99 L342.74,797.28 L343.10,796.61 L343.46,795.95 L343.82,795.32 L344.18,794.72 L344.54,794.13 L344.91,793.57 L345.27,793.02 L345.63,792.50 L345.99,791.99 L346.35,791.50 L346.71,791.02 L347.08,790.57 L347.44,790.12 L347.80,789.69 L348.16,789.27 L348.52,788.87 L348.88,788.48 L349.25,788.10 L349.61,787.73 L349.97,787.37 L350.33,787.02 L350.69,786.68 L351.05,786.36 L351.42,786.04 L351.78,785.73 L352.14,785.42 L352.50,785.13 L352.86,784.84 L353.22,784.56 L353.59,784.29 L353.95,784.02 L354.31,783.76 L354.67,783.51 L355.03,783.26 L355.39,783.01 L355.94,782.66 L356.48,782.32 L357.02,781.98 L357.56,781.66 L358.11,781.35 L358.65,781.04 L359.19,780.75 L359.73,780.46 L360.28,780.18 L360.82,779.91 L361.36,779.64 L361.90,779.38 L362.45,779.12 L362.99,778.88 L363.53,778.63 L364.07,778.39 L364.62,778.16 L365.16,777.93 L365.70,777.71 L366.24,777.49 L366.79,777.27 L367.33,777.06 L367.87,776.85 L368.41,776.65 L368.96,776.45 L369.50,776.25 L370.04,776.06 L370.58,775.87 L371.13,775.68 L371.67,775.49 L372.21,775.31 L372.75,775.13 L373.30,774.95 L373.84,774.78 L374.38,774.60 L374.92,774.43 L375.47,774.26 L376.01,774.10 L376.55,773.93 L377.09,773.77 L377.64,773.61 L378.18,773.46 L378.72,773.30 L379.26,773.15 L379.81,773.00 L380.35,772.85 L380.89,772.70 L381.43,772.55 L381.98,772.41 L382.52,772.26 L383.06,772.12 L383.60,771.98 L384.15,771.84 L384.69,771.71 L385.23,771.57 L385.77,771.44 L386.32,771.31 L386.86,771.17 L387.40,771.05 L387.94,770.92 L388.49,770.79 L389.03,770.67 L389.57,770.54 L390.11,770.42 L390.66,770.30 L391.20,770.18 L391.74,770.06 L392.28,769.94 L392.83,769.83 L393.37,769.71 L393.91,769.60 L394.45,769.48 L395.00,769.37 L395.54,870.21 L395.72,914.80 L395.90,934.64 L396.08,943.59 L396.26,947.75 L396.44,949.80 L396.62,950.92 L396.81,951.62 L396.99,952.14 L397.17,952.57 L397.53,953.32 L397.89,954.01 L398.25,954.67 L398.61,955.29 L398.98,955.89 L399.34,956.46 L399.70,957.00 L400.06,957.53 L400.42,958.03 L400.78,958.51 L401.14,958.97 L401.51,959.40 L401.87,959.82 L402.23,960.23 L402.59,960.61 L402.95,960.98 L403.31,961.34 L403.68,961.68 L404.04,962.00 L404.40,962.31 L404.76,962.61 L405.12,962.90 L405.49,963.17 L405.85,963.44 L406.21,963.69 L406.57,963.93 L407.11,964.28 L407.65,964.61 L408.20,964.91 L408.74,965.20 L409.28,965.48 L409.82,965.73 L410.37,965.98 L410.91,966.21 L411.45,966.42 L412.00,966.63 L412.54,966.82 L413.08,967.01 L413.62,967.18 L414.17,967.35 L414.71,967.50 L415.25,967.65 L415.79,967.80 L416.33,967.93 L416.88,968.06 L417.42,968.19 L417.96,968.30 L418.50,968.42 L419.05,968.52 L419.59,968.63 L420.13,968.73 L420.68,968.82 L421.22,968.91 L421.76,969.00 L422.30,969.09 L422.85,969.17 L423.39,969.25 L423.93,969.32 L424.47,969.40 L425.01,969.47 L425.56,969.54 L426.10,969.60 L426.64,969.67 L427.19,969.73 L427.73,969.79 L428.27,969.85 L428.81,969.91 L429.54,969.99 L430.26,970.06 L430.98,970.13 L431.71,970.20 L432.43,970.27 L433.15,970.33 L433.88,970.39 L434.60,970.46 L435.32,970.52 L436.05,970.58 L436.77,970.63 L437.49,970.69 L438.22,970.75 L438.94,970.80 L439.66,970.85 L440.39,970.91 L441.11,970.96 L441.83,971.01 L442.56,971.06 L443.28,971.11 L444.00,971.16 L444.73,971.21 L445.45,971.26 L446.17,971.30 L446.90,971.35 L447.62,971.39 L448.34,971.44 L449.07,971.48 L449.79,971.53 L450.51,971.57 L451.24,971.62 L451.96,971.66 L452.68,971.70 L453.41,971.74 L454.13,971.78 L454.85,971.82 L455.58,971.87 L456.30,971.91 L457.02,971.95 L457.75,971.98 L458.47,972.02 L459.19,972.06 L459.92,972.10 L460.64,972.14 L461.36,972.18 L462.09,972.21 L462.81,972.25 L463.53,972.29 L464.26,972.32 L464.98,972.36 L465.70,972.40 L466.43,972.43 L467.15,972.47 L467.87,972.50 L468.60,972.53 L469.32,972.57 L469.50,972.58" fill="none" stroke="#00ff00" stroke-width="2" stroke-linejoin="round"/>
<polygon points="252.50,972.60 248.70,979.40 256.30,979.40" fill="#00ff00"/>
<polygon points="260.35,972.60 256.55,979.40 264.15,979.40" fill="#00ff00"/>
<polygon points="268.20,972.60 264.40,979.40 272.00,979.40" fill="#00ff00"/>
<polygon points="276.04,972.60 272.24,979.40 279.84,979.40" fill="#00ff00"/>
<polygon points="283.89,972.60 280.09,979.40 287.69,979.40" fill="#00ff00"/>
<polygon points="291.74,972.60 287.94,979.40 295.54,979.40" fill="#00ff00"/>
<polygon points="299.59,972.60 295.79,979.40 303.39,979.40" fill="#00ff00"/>
<polygon points="307.44,972.60 303.64,979.40 311.24,979.40" fill="#00ff00"/>
<polygon points="315.29,972.60 311.49,979.40 319.09,979.40" fill="#00ff00"/>
<polygon points="323.13,944.97 319.33,951.77 326.93,951.77" fill="#00ff00"/>
<polygon points="330.98,840.76 327.18,847.56 334.78,847.56" fill="#00ff00"/>
<polygon points="338.83,802.56 335.03,809.36 342.63,809.36" fill="#00ff00"/>
<polygon points="346.68,787.07 342.88,793.87 350.48,793.87" fill="#00ff00"/>
<polygon points="354.53,779.61 350.73,786.41 358.33,786.41" fill="#00ff00"/>
<polygon points="362.37,775.16 358.57,781.96 366.17,781.96" fill="#00ff00"/>
<polygon points="370.22,771.99 366.42,778.79 374.02,778.79" fill="#00ff00"/>
<polygon points="378.07,769.49 374.27,776.29 381.87,776.29" fill="#00ff00"/>
<polygon points="385.92,767.40 382.12,774.20 389.72,774.20" fill="#00ff00"/>
<polygon points="393.77,765.63 389.97,772.43 397.57,772.43" fill="#00ff00"/>
<polygon points="401.62,955.53 397.82,962.33 405.42,962.33" fill="#00ff00"/>
<polygon points="409.46,961.56 405.66,968.36 413.26,968.36" fill="#00ff00"/>
<polygon points="417.31,964.16 413.51,970.96 421.11,970.96" fill="#00ff00"/>
<polygon points="425.16,965.49 421.36,972.29 428.96,972.29" fill="#00ff00"/>
<polygon points="433.01,966.32 429.21,973.12 436.81,973.12" fill="#00ff00"/>
<polygon points="440.86,966.94 437.06,973.74 444.66,973.74" fill="#00ff00"/>
<polygon points="448.70,967.46 444.90,974.26 452.50,974.26" fill="#00ff00"/>
<polygon points="456.55,967.92 452.75,974.72 460.35,974.72" fill="#00ff00"/>
<polygon points="464.40,968.33 460.60,975.13 468.20,975.13" fill="#00ff00"/>
<path d="M252.50,976.60 L253.22,976.60 L253.95,976.60 L254.67,976.60 L255.39,976.60 L256.12,976.60 L256.84,976.60 L257.56,976.60 L258.29,976.60 L259.01,976.60 L259.73,976.60 L260.46,976.60 L261.18,976.60 L261.90,976.60 L262.63,976.60 L263.35,976.60 L264.07,976.60 L264.80,976.60 L265.52,976.60 L266.24,976.60 L266.97,976.60 L267.69,976.60 L268.41,976.60 L269.14,976.60 L269.86,976.60 L270.58,976.60 L271.31,976.60 L272.03,976.60 L272.75,976.60 L273.48,976.60 L274.20,976.60 L274.92,976.60 L275.65,976.60 L276.37,976.60 L277.09,976.60 L277.82,976.60 L278.54,976.60 L279.26,976.60 L279.99,976.60 L280.71,976.60 L281.43,976.60 L282.16,976.60 L282.88,976.60 L283.60,976.60 L284.33,976.60 L285.05,976.60 L285.77,976.60 L286.50,976.60 L287.22,976.60 L287.94,976.60 L288.67,976.60 L289.39,976.60 L290.11,976.60 L290.84,976.60 L291.56,976.60 L292.28,976.60 L293.01,976.60 L293.73,976.60 L294.45,976.60 L295.18,976.60 L295.90,976.60 L296.62,976.60 L297.35,976.60 L298.07,976.60 L298.79,976.60 L299.52,976.60 L300.24,976.60 L300.96,976.60 L301.69,976.60 L302.41,976.60 L303.13,976.60 L303.86,976.60 L304.58,976.60 L305.30,976.60 L306.03,976.60 L306.75,976.60 L307.47,976.60 L308.20,976.60 L308.92,976.60 L309.64,976.60 L310.37,976.60 L311.09,976.60 L311.81,976.60 L312.54,976.60 L313.26,976.60 L313.98,976.60 L314.71,976.60 L315.43,976.60 L316.15,976.60 L316.88,976.60 L317.60,976.60 L318.32,976.60 L319.05,976.60 L319.77,976.60 L319.95,968.80 L320.13,962.18 L320.31,956.51 L320.49,951.63 L320.67,947.41 L320.86,943.72 L321.04,940.48 L321.22,937.60 L321.40,935.02 L321.58,932.69 L321.76,930.57 L321.94,928.62 L322.12,926.81 L322.30,925.12 L322.48,923.52 L322.66,922.01 L322.84,920.57 L323.02,919.19 L323.21,917.86 L323.39,916.57 L323.57,915.31 L323.75,914.09 L323.93,912.90 L324.11,911.72 L324.29,910.57 L324.47,909.44 L324.65,908.33 L324.83,907.22 L325.01,906.14 L325.19,905.06 L325.38,904.00 L325.56,902.95 L325.74,901.91 L325.92,900.88 L326.10,899.86 L326.28,898.85 L326.46,897.84 L326.64,896.85 L326.82,895.86 L327.00,894.89 L327.18,893.91 L327.37,892.95 L327.55,892.00 L327.73,891.05 L327.91,890.11 L328.09,889.18 L328.27,888.25 L328.45,887.34 L328.63,886.43 L328.81,885.52 L328.99,884.62 L329.17,883.73 L329.35,882.85 L329.53,881.98 L329.72,881.11 L329.90,880.24 L330.08,879.39 L330.26,878.54 L330.44,877.69 L330.62,876.86 L330.80,876.03 L330.98,875.20 L331.16,874.38 L331.34,873.57 L331.52,872.77 L331.70,871.97 L331.89,871.17 L332.07,870.39 L332.25,869.60 L332.43,868.83 L332.61,868.06 L332.79,867.30 L332.97,866.54 L333.15,865.79 L333.33,865.04 L333.51,864.30 L333.69,863.56 L333.88,862.84 L334.06,862.11 L334.24,861.39 L334.42,860.68 L334.60,859.97 L334.78,859.27 L334.96,858.57 L335.14,857.88 L335.32,857.20 L335.50,856.52 L335.68,855.84 L335.86,855.17 L336.05,854.50 L336.23,853.84 L336.41,853.19 L336.59,852.54 L336.77,851.89 L336.95,851.25 L337.13,850.62 L337.31,849.99 L337.49,849.36 L337.67,848.74 L337.85,848.12 L338.03,847.51 L338.22,846.90 L338.40,846.30 L338.58,845.70 L338.76,845.11 L338.94,844.52 L339.12,843.93 L339.30,843.35 L339.48,842.78 L339.66,842.21 L339.84,841.64 L340.02,841.08 L340.20,840.52 L340.38,839.97 L340.57,839.42 L340.75,838.87 L340.93,838.33 L341.11,837.79 L341.29,837.26 L341.47,836.73 L341.65,836.20 L341.83,835.68 L342.01,835.17 L342.19,834.65 L342.37,834.14 L342.56,833.64 L342.74,833.14 L342.92,832.64 L343.10,832.14 L343.28,831.65 L343.46,831.17 L343.64,830.68 L343.82,830.21 L344.00,829.73 L344.18,829.26 L344.36,828.79 L344.54,828.32 L344.73,827.86 L344.91,827.41 L345.09,826.95 L345.27,826.50 L345.45,826.05 L345.63,825.61 L345.81,825.17 L345.99,824.73 L346.17,824.30 L346.35,823.87 L346.53,823.44 L346.71,823.02 L346.89,822.60 L347.26,821.76 L347.62,820.94 L347.98,820.14 L348.34,819.34 L348.70,818.56 L349.06,817.79 L349.43,817.03 L349.79,816.28 L350.15,815.55 L350.51,814.82 L350.87,814.11 L351.24,813.40 L351.60,812.71 L351.96,812.03 L352.32,811.36 L352.68,810.69 L353.04,810.04 L353.40,809.40 L353.77,808.77 L354.13,808.15 L354.49,807.53 L354.85,806.93 L355.21,806.34 L355.57,805.75 L355.94,805.17 L356.30,804.60 L356.66,804.05 L357.02,803.49 L357.38,802.95 L357.75,802.42 L358.11,801.89 L358.47,801.37 L358.83,800.86 L359.19,800.36 L359.55,799.87 L359.91,799.38 L360.28,798.90 L360.64,798.43 L361.00,797.96 L361.36,797.50 L361.72,797.05 L362.09,796.61 L362.45,796.17 L362.81,795.74 L363.17,795.31 L363.53,794.89 L363.89,794.48 L364.25,794.07 L364.62,793.67 L364.98,793.28 L365.34,792.89 L365.70,792.51 L366.06,792.14 L366.43,791.77 L366.79,791.40 L367.15,791.04 L367.51,790.69 L367.87,790.34 L368.23,790.00 L368.60,789.66 L368.96,789.33 L369.32,789.00 L369.68,788.68 L370.04,788.36 L370.40,788.05 L370.76,787.74 L371.13,787.43 L371.49,787.13 L371.85,786.84 L372.21,786.55 L372.57,786.26 L372.94,785.98 L373.30,785.71 L373.66,785.43 L374.02,785.17 L374.38,784.90 L374.74,784.64 L375.11,784.38 L375.47,784.13 L375.83,783.88 L376.19,783.64 L376.55,783.40 L377.09,783.04 L377.64,782.69 L378.18,782.35 L378.72,782.02 L379.26,781.70 L379.81,781.38 L380.35,781.07 L380.89,780.77 L381.43,780.47 L381.98,780.18 L382.52,779.90 L383.06,779.63 L383.60,779.36 L384.15,779.09 L384.69,778.83 L385.23,778.58 L385.77,778.34 L386.32,778.10 L386.86,777.86 L387.40,777.63 L387.94,777.41 L388.49,777.19 L389.03,776.97 L389.57,776.76 L390.11,776.56 L390.66,776.36 L391.20,776.16 L391.74,775.97 L392.28,775.78 L392.83,775.60 L393.37,775.42 L393.91,775.25 L394.45,775.08 L395.00,774.91 L395.54,774.75 L396.08,774.59 L396.62,851.91 L396.81,887.64 L396.99,904.34 L397.17,912.34 L397.35,916.36 L397.53,918.56 L397.71,919.92 L397.89,920.89 L398.07,921.69 L398.25,922.39 L398.43,923.05 L398.61,923.68 L398.79,924.30 L398.98,924.90 L399.16,925.49 L399.34,926.07 L399.52,926.65 L399.70,927.21 L399.88,927.77 L400.06,928.31 L400.24,928.85 L400.42,929.38 L400.60,929.91 L400.78,930.42 L400.96,930.93 L401.14,931.43 L401.33,931.92 L401.51,932.40 L401.69,932.88 L401.87,933.35 L402.05,933.82 L402.23,934.27 L402.41,934.72 L402.59,935.16 L402.77,935.60 L402.95,936.03 L403.13,936.45 L403.50,937.28 L403.86,938.08 L404.22,938.86 L404.58,939.62 L404.94,940.35 L405.30,941.06 L405.67,941.75 L406.03,942.43 L406.39,943.08 L406.75,943.71 L407.11,944.32 L407.47,944.92 L407.84,945.50 L408.20,946.06 L408.56,946.61 L408.92,947.14 L409.28,947.66 L409.64,948.16 L410.01,948.64 L410.37,949.11 L410.73,949.57 L411.09,950.02 L411.45,950.45 L411.81,950.88 L412.18,951.29 L412.54,951.68 L412.90,952.07 L413.26,952.45 L413.62,952.81 L413.98,953.17 L414.35,953.51 L414.71,953.85 L415.07,954.18 L415.43,954.50 L415.79,954.81 L416.15,955.11 L416.52,955.40 L416.88,955.69 L417.24,955.97 L417.60,956.24 L417.96,956.50 L418.32,956.76 L418.69,957.01 L419.05,957.25 L419.59,957.60 L420.13,957.94 L420.68,958.27 L421.22,958.58 L421.76,958.89 L422.30,959.18 L422.85,959.46 L423.39,959.73 L423.93,959.99 L424.47,960.24 L425.01,960.49 L425.56,960.72 L426.10,960.95 L426.64,961.16 L427.19,961.38 L427.73,961.58 L428.27,961.78 L428.81,961.97 L429.36,962.15 L429.90,962.33 L430.44,962.50 L430.98,962.67 L431.52,962.83 L432.07,962.99 L432.61,963.14 L433.15,963.29 L433.69,963.43 L434.24,963.57 L434.78,963.71 L435.32,963.84 L435.87,963.97 L436.41,964.10 L436.95,964.22 L437.49,964.34 L438.03,964.45 L438.58,964.56 L439.12,964.67 L439.66,964.78 L440.20,964.89 L440.75,964.99 L441.29,965.09 L441.83,965.19 L442.38,965.28 L442.92,965.38 L443.46,965.47 L444.00,965.56 L444.55,965.64 L445.09,965.73 L445.63,965.81 L446.17,965.90 L446.72,965.98 L447.26,966.06 L447.80,966.14 L448.34,966.21 L448.88,966.29 L449.43,966.36 L449.97,966.44 L450.51,966.51 L451.06,966.58 L451.60,966.65 L452.14,966.72 L452.68,966.78 L453.23,966.85 L453.77,966.91 L454.31,966.98 L454.85,967.04 L455.39,967.11 L455.94,967.17 L456.48,967.23 L457.02,967.29 L457.57,967.35 L458.11,967.41 L458.65,967.47 L459.19,967.52 L459.92,967.60 L460.64,967.67 L461.36,967.75 L462.09,967.82 L462.81,967.89 L463.53,967.96 L464.26,968.03 L464.98,968.10 L465.70,968.17 L466.43,968.23 L467.15,968.30 L467.87,968.37 L468.60,968.43 L469.32,968.49 L469.50,968.51" fill="none" stroke="#ff0000" stroke-width="2" stroke-linejoin="round"/>
<circle cx="252.50" cy="976.60" r="3.80" fill="#ff0000"/>
<circle cx="260.35" cy="976.60" r="3.80" fill="#ff0000"/>
<circle cx="268.20" cy="976.60" r="3.80" fill="#ff0000"/>
<circle cx="276.04" cy="976.60" r="3.80" fill="#ff0000"/>
<circle cx="283.89" cy="976.60" r="3.80" fill="#ff0000"/>
<circle cx="291.74" cy="976.60" r="3.80" fill="#ff0000"/>
<circle cx="299.59" cy="976.60" r="3.80" fill="#ff0000"/>
<circle cx="307.44" cy="976.60" r="3.80" fill="#ff0000"/>
<circle cx="315.29" cy="976.60" r="3.80" fill="#ff0000"/>
<circle cx="323.13" cy="918.39" r="3.80" fill="#ff0000"/>
<circle cx="330.98" cy="875.20" r="3.80" fill="#ff0000"/>
<circle cx="338.83" cy="844.87" r="3.80" fill="#ff0000"/>
<circle cx="346.68" cy="823.10" r="3.80" fill="#ff0000"/>
<circle cx="354.53" cy="807.47" r="3.80" fill="#ff0000"/>
<circle cx="362.37" cy="796.25" r="3.80" fill="#ff0000"/>
<circle cx="370.22" cy="788.20" r="3.80" fill="#ff0000"/>
<circle cx="378.07" cy="782.42" r="3.80" fill="#ff0000"/>
<circle cx="385.92" cy="778.27" r="3.80" fill="#ff0000"/>
<circle cx="393.77" cy="775.29" r="3.80" fill="#ff0000"/>
<circle cx="401.62" cy="932.69" r="3.80" fill="#ff0000"/>
<circle cx="409.46" cy="947.91" r="3.80" fill="#ff0000"/>
<circle cx="417.31" cy="956.02" r="3.80" fill="#ff0000"/>
<circle cx="425.16" cy="960.55" r="3.80" fill="#ff0000"/>
<circle cx="433.01" cy="963.25" r="3.80" fill="#ff0000"/>
<circle cx="440.86" cy="965.01" r="3.80" fill="#ff0000"/>
<circle cx="448.70" cy="966.26" r="3.80" fill="#ff0000"/>
<circle cx="456.55" cy="967.24" r="3.80" fill="#ff0000"/>
<circle cx="464.40" cy="968.04" r="3.80" fill="#ff0000"/>
</g>
<rect x="252.50" y="759.50" width="217.00" height="227.30" fill="none" stroke="#000" stroke-width="2.8"/>
<line x1="252.50" y1="986.80" x2="252.50" y2="981.80" stroke="#000" stroke-width="2"/>
<line x1="270.58" y1="986.80" x2="270.58" y2="983.60" stroke="#000" stroke-width="2"/>
<line x1="288.67" y1="986.80" x2="288.67" y2="981.80" stroke="#000" stroke-width="2"/>
<line x1="306.75" y1="986.80" x2="306.75" y2="983.60" stroke="#000" stroke-width="2"/>
<line x1="324.83" y1="986.80" x2="324.83" y2="981.80" stroke="#000" stroke-width="2"/>
<line x1="342.92" y1="986.80" x2="342.92" y2="983.60" stroke="#000" stroke-width="2"/>
<line x1="361.00" y1="986.80" x2="361.00" y2="981.80" stroke="#000" stroke-width="2"/>
<line x1="379.08" y1="986.80" x2="379.08" y2="983.60" stroke="#000" stroke-width="2"/>
<line x1="397.17" y1="986.80" x2="397.17" y2="981.80" stroke="#000" stroke-width="2"/>
<line x1="415.25" y1="986.80" x2="415.25" y2="983.60" stroke="#000" stroke-width="2"/>
<line x1="433.33" y1="986.80" x2="433.33" y2="981.80" stroke="#000" stroke-width="2"/>
<line x1="451.42" y1="986.80" x2="451.42" y2="983.60" stroke="#000" stroke-width="2"/>
<line x1="469.50" y1="986.80" x2="469.50" y2="981.80" stroke="#000" stroke-width="2"/>
<line x1="252.50" y1="976.60" x2="257.50" y2="976.60" stroke="#000" stroke-width="2"/>
<line x1="252.50" y1="955.87" x2="255.70" y2="955.87" stroke="#000" stroke-width="2"/>
<line x1="252.50" y1="935.14" x2="257.50" y2="935.14" stroke="#000" stroke-width="2"/>
<line x1="252.50" y1="914.41" x2="255.70" y2="914.41" stroke="#000" stroke-width="2"/>
<line x1="252.50" y1="893.68" x2="257.50" y2="893.68" stroke="#000" stroke-width="2"/>
<line x1="252.50" y1="872.95" x2="255.70" y2="872.95" stroke="#000" stroke-width="2"/>
<line x1="252.50" y1="852.22" x2="257.50" y2="852.22" stroke="#000" stroke-width="2"/>
<line x1="252.50" y1="831.49" x2="255.70" y2="831.49" stroke="#000" stroke-width="2"/>
<line x1="252.50" y1="810.76" x2="257.50" y2="810.76" stroke="#000" stroke-width="2"/>
<line x1="252.50" y1="790.03" x2="255.70" y2="790.03" stroke="#000" stroke-width="2"/>
<line x1="252.50" y1="769.30" x2="257.50" y2="769.30" stroke="#000" stroke-width="2"/>
<text x="247.00" y="982.50" font-size="17" text-anchor="end" font-weight="normal" fill="#000" >0.0</text>
<text x="247.00" y="941.04" font-size="17" text-anchor="end" font-weight="normal" fill="#000" >0.2</text>
<text x="247.00" y="899.58" font-size="17" text-anchor="end" font-weight="normal" fill="#000" >0.4</text>
<text x="247.00" y="858.12" font-size="17" text-anchor="end" font-weight="normal" fill="#000" >0.6</text>
<text x="247.00" y="816.66" font-size="17" text-anchor="end" font-weight="normal" fill="#000" >0.8</text>
<text x="247.00" y="775.20" font-size="17" text-anchor="end" font-weight="normal" fill="#000" >1.0</text>
<text x="252.50" y="1006.60" font-size="17" text-anchor="middle" font-weight="normal" fill="#000" >0</text>
<text x="288.67" y="1006.60" font-size="17" text-anchor="middle" font-weight="normal" fill="#000" >5</text>
<text x="324.83" y="1006.60" font-size="17" text-anchor="middle" font-weight="normal" fill="#000" >10</text>
<text x="361.00" y="1006.60" font-size="17" text-anchor="middle" font-weight="normal" fill="#000" >15</text>
<text x="397.17" y="1006.60" font-size="17" text-anchor="middle" font-weight="normal" fill="#000" >20</text>
<text x="433.33" y="1006.60" font-size="17" text-anchor="middle" font-weight="normal" fill="#000" >25</text>
<text x="469.50" y="1006.60" font-size="17" text-anchor="middle" font-weight="normal" fill="#000" >30</text>
<text x="364.00" y="1023.80" font-size="18" text-anchor="middle" font-weight="bold" fill="#000" >Time (s)</text>
<text x="220.50" y="867.65" font-size="18" text-anchor="middle" font-weight="bold" fill="#000" transform="rotate(-90 220.50 867.65)">Current (a. u.)</text>
<text x="200.50" y="767.50" font-size="20" text-anchor="start" font-weight="normal" fill="#000" >(a)</text>
<text x="466.50" y="772.70" font-size="13" text-anchor="end" font-weight="bold" fill="#000" >700°C</text>
<text x="270.50" y="784.70" font-size="14" text-anchor="start" font-weight="bold" fill="#1c6a84" >90%</text>
<text x="272.00" y="950.00" font-size="14" text-anchor="start" font-weight="bold" fill="#1c6a84" >10%</text>
<text x="418.40" y="842.60" font-size="14" text-anchor="start" font-weight="bold" fill="#000" >μW/cm<tspan dy="-6" font-size="9">2</tspan></text>
<line x1="416.90" y1="855.70" x2="443.70" y2="855.70" stroke="#ff7f0e" stroke-width="2.2"/>
<polygon points="434.30,855.70 427.50,851.90 427.50,859.50" fill="#ff7f0e"/>
<text x="446.40" y="860.50" font-size="14" text-anchor="start" font-weight="bold" fill="#000" >64</text>
<line x1="416.90" y1="873.15" x2="443.70" y2="873.15" stroke="#ff00ff" stroke-width="2.2"/>
<polygon points="426.30,873.15 433.10,869.35 433.10,876.95" fill="#ff00ff"/>
<text x="446.40" y="877.95" font-size="14" text-anchor="start" font-weight="bold" fill="#000" >49</text>
<line x1="416.90" y1="890.60" x2="443.70" y2="890.60" stroke="#0000ff" stroke-width="2.2"/>
<polygon points="430.30,894.60 426.50,887.80 434.10,887.80" fill="#0000ff"/>
<text x="446.40" y="895.40" font-size="14" text-anchor="start" font-weight="bold" fill="#000" >32</text>
<line x1="416.90" y1="908.05" x2="443.70" y2="908.05" stroke="#00ff00" stroke-width="2.2"/>
<polygon points="430.30,904.05 426.50,910.85 434.10,910.85" fill="#00ff00"/>
<text x="446.40" y="912.85" font-size="14" text-anchor="start" font-weight="bold" fill="#000" >17</text>
<line x1="416.90" y1="925.50" x2="443.70" y2="925.50" stroke="#ff0000" stroke-width="2.2"/>
<circle cx="430.30" cy="925.50" r="3.80" fill="#ff0000"/>
<text x="446.40" y="930.30" font-size="14" text-anchor="start" font-weight="bold" fill="#000" >3</text>
<line x1="534.60" y1="789.93" x2="750.60" y2="789.93" stroke="#1c6a84" stroke-width="2" stroke-dasharray="5.6,4.2"/>
<line x1="534.60" y1="955.77" x2="750.60" y2="955.77" stroke="#1c6a84" stroke-width="2" stroke-dasharray="5.6,4.2"/>
<clipPath id="clip534"><rect x="534.60" y="759.50" width="216.00" height="226.90"/></clipPath>
<g clip-path="url(#clip534)">
<path d="M534.60,976.50 L535.32,976.50 L536.04,976.50 L536.76,976.50 L537.48,976.50 L538.20,976.50 L538.92,976.50 L539.64,976.50 L540.36,976.50 L541.08,976.50 L541.80,976.50 L542.52,976.50 L543.24,976.50 L543.96,976.50 L544.68,976.50 L545.40,976.50 L546.12,976.50 L546.84,976.50 L547.56,976.50 L548.28,976.50 L549.00,976.50 L549.72,976.50 L550.44,976.50 L551.16,976.50 L551.88,976.50 L552.60,976.50 L553.32,976.50 L554.04,976.50 L554.76,976.50 L555.48,976.50 L556.20,976.50 L556.92,976.50 L557.64,976.50 L558.36,976.50 L559.08,976.50 L559.80,976.50 L560.52,976.50 L561.24,976.50 L561.96,976.50 L562.68,976.50 L563.40,976.50 L564.12,976.50 L564.84,976.50 L565.56,976.50 L566.28,976.50 L567.00,976.50 L567.72,976.50 L568.44,976.50 L569.16,976.50 L569.88,976.50 L570.60,976.50 L571.32,976.50 L572.04,976.50 L572.76,976.50 L573.48,976.50 L574.20,976.50 L574.92,976.50 L575.64,976.50 L576.36,976.50 L577.08,976.50 L577.80,976.50 L578.52,976.50 L579.24,976.50 L579.96,976.50 L580.68,976.50 L581.40,976.50 L582.12,976.50 L582.84,976.50 L583.56,976.50 L584.28,976.50 L585.00,976.50 L585.72,976.50 L586.44,976.50 L587.16,976.50 L587.88,976.50 L588.60,976.50 L589.32,976.50 L590.04,976.50 L590.76,976.50 L591.48,976.50 L592.20,976.50 L592.92,976.50 L593.64,976.50 L594.36,976.50 L595.08,976.50 L595.80,976.50 L596.52,976.50 L597.24,976.50 L597.96,976.50 L598.68,976.50 L599.40,976.50 L600.12,976.50 L600.84,976.50 L601.56,976.50 L602.28,976.50 L602.82,960.19 L603.00,945.48 L603.18,932.20 L603.36,920.20 L603.54,909.35 L603.72,899.52 L603.90,890.61 L604.08,882.52 L604.26,875.17 L604.44,868.48 L604.62,862.39 L604.80,856.83 L604.98,851.75 L605.16,847.09 L605.34,842.83 L605.52,838.91 L605.70,835.31 L605.88,831.99 L606.06,828.93 L606.24,826.09 L606.42,823.47 L606.60,821.03 L606.78,818.76 L606.96,816.65 L607.14,814.68 L607.32,812.83 L607.50,811.10 L607.68,809.48 L607.86,807.95 L608.04,806.51 L608.22,805.16 L608.40,803.87 L608.58,802.66 L608.76,801.50 L608.94,800.41 L609.12,799.37 L609.30,798.38 L609.48,797.43 L609.66,796.52 L609.84,795.66 L610.02,794.83 L610.20,794.04 L610.38,793.28 L610.56,792.54 L610.74,791.84 L610.92,791.16 L611.10,790.51 L611.28,789.88 L611.46,789.28 L611.64,788.69 L611.82,788.13 L612.00,787.58 L612.18,787.06 L612.36,786.55 L612.54,786.05 L612.72,785.58 L612.90,785.11 L613.08,784.67 L613.26,784.23 L613.44,783.81 L613.80,783.01 L614.16,782.25 L614.52,781.54 L614.88,780.87 L615.24,780.23 L615.60,779.63 L615.96,779.07 L616.32,778.54 L616.68,778.03 L617.04,777.56 L617.40,777.11 L617.76,776.68 L618.12,776.28 L618.48,775.90 L618.84,775.54 L619.20,775.20 L619.56,774.88 L619.92,774.57 L620.28,774.28 L620.64,774.01 L621.00,773.75 L621.36,773.51 L621.90,773.17 L622.44,772.85 L622.98,772.56 L623.52,772.30 L624.06,772.05 L624.60,771.82 L625.14,771.62 L625.68,771.42 L626.22,771.25 L626.76,771.08 L627.30,770.94 L627.84,770.80 L628.38,770.67 L628.92,770.55 L629.46,770.45 L630.00,770.35 L630.54,770.26 L631.08,770.17 L631.62,770.10 L632.16,770.02 L632.70,769.96 L633.24,769.90 L633.96,769.83 L634.68,769.76 L635.40,769.70 L636.12,769.65 L636.84,769.60 L637.56,769.56 L638.28,769.52 L639.00,769.49 L639.72,769.46 L640.44,769.43 L641.16,769.41 L641.88,769.39 L642.60,769.37 L643.32,769.35 L644.04,769.33 L644.76,769.32 L645.48,769.31 L646.20,769.30 L646.92,769.29 L647.64,769.28 L648.36,769.27 L649.08,769.26 L649.80,769.25 L650.52,769.25 L651.24,769.24 L651.96,769.24 L652.68,769.23 L653.40,769.23 L654.12,769.23 L654.84,769.22 L655.56,769.22 L656.28,769.22 L657.00,769.22 L657.72,769.22 L658.44,769.21 L659.16,769.21 L659.88,769.21 L660.60,769.21 L661.32,769.21 L662.04,769.21 L662.76,769.21 L663.48,769.21 L664.20,769.21 L664.92,769.20 L665.64,769.20 L666.36,769.20 L667.08,769.20 L667.80,769.20 L668.52,769.20 L669.24,769.20 L669.96,769.20 L670.68,769.20 L671.40,769.20 L672.12,769.20 L672.84,769.20 L673.56,769.20 L674.28,769.20 L675.00,769.20 L675.72,769.20 L676.44,769.20 L677.16,769.20 L677.70,828.35 L677.88,869.97 L678.06,899.26 L678.24,919.90 L678.42,934.45 L678.60,944.73 L678.78,952.01 L678.96,957.18 L679.14,960.86 L679.32,963.50 L679.50,965.41 L679.68,966.79 L679.86,967.82 L680.04,968.58 L680.22,969.17 L680.40,969.62 L680.76,970.28 L681.12,970.75 L681.48,971.11 L681.84,971.42 L682.20,971.69 L682.56,971.94 L683.10,972.28 L683.64,972.59 L684.18,972.88 L684.72,973.15 L685.26,973.40 L685.80,973.62 L686.34,973.84 L686.88,974.03 L687.42,974.21 L687.96,974.38 L688.50,974.54 L689.04,974.68 L689.58,974.82 L690.12,974.94 L690.66,975.06 L691.20,975.16 L691.74,975.26 L692.28,975.35 L692.82,975.44 L693.36,975.52 L693.90,975.59 L694.44,975.65 L694.98,975.72 L695.70,975.79 L696.42,975.86 L697.14,975.92 L697.86,975.98 L698.58,976.03 L699.30,976.08 L700.02,976.12 L700.74,976.15 L701.46,976.19 L702.18,976.22 L702.90,976.25 L703.62,976.27 L704.34,976.29 L705.06,976.31 L705.78,976.33 L706.50,976.35 L707.22,976.36 L707.94,976.38 L708.66,976.39 L709.38,976.40 L710.10,976.41 L710.82,976.42 L711.54,976.42 L712.26,976.43 L712.98,976.44 L713.70,976.44 L714.42,976.45 L715.14,976.45 L715.86,976.46 L716.58,976.46 L717.30,976.47 L718.02,976.47 L718.74,976.47 L719.46,976.48 L720.18,976.48 L720.90,976.48 L721.62,976.48 L722.34,976.48 L723.06,976.49 L723.78,976.49 L724.50,976.49 L725.22,976.49 L725.94,976.49 L726.66,976.49 L727.38,976.49 L728.10,976.49 L728.82,976.49 L729.54,976.49 L730.26,976.49 L730.98,976.50 L731.70,976.50 L732.42,976.50 L733.14,976.50 L733.86,976.50 L734.58,976.50 L735.30,976.50 L736.02,976.50 L736.74,976.50 L737.46,976.50 L738.18,976.50 L738.90,976.50 L739.62,976.50 L740.34,976.50 L741.06,976.50 L741.78,976.50 L742.50,976.50 L743.22,976.50 L743.94,976.50 L744.66,976.50 L745.38,976.50 L746.10,976.50 L746.82,976.50 L747.54,976.50 L748.26,976.50 L748.98,976.50 L749.70,976.50 L750.42,976.50 L750.60,976.50" fill="none" stroke="#ff7f0e" stroke-width="2" stroke-linejoin="round"/>
<polygon points="538.60,976.50 531.80,972.70 531.80,980.30" fill="#ff7f0e"/>
<polygon points="546.41,976.50 539.61,972.70 539.61,980.30" fill="#ff7f0e"/>
<polygon points="554.22,976.50 547.42,972.70 547.42,980.30" fill="#ff7f0e"/>
<polygon points="562.04,976.50 555.24,972.70 555.24,980.30" fill="#ff7f0e"/>
<polygon points="569.85,976.50 563.05,972.70 563.05,980.30" fill="#ff7f0e"/>
<polygon points="577.66,976.50 570.86,972.70 570.86,980.30" fill="#ff7f0e"/>
<polygon points="585.47,976.50 578.67,972.70 578.67,980.30" fill="#ff7f0e"/>
<polygon points="593.28,976.50 586.48,972.70 586.48,980.30" fill="#ff7f0e"/>
<polygon points="601.10,976.50 594.30,972.70 594.30,980.30" fill="#ff7f0e"/>
<polygon points="608.91,853.73 602.11,849.93 602.11,857.53" fill="#ff7f0e"/>
<polygon points="616.72,785.58 609.92,781.78 609.92,789.38" fill="#ff7f0e"/>
<polygon points="624.53,774.09 617.73,770.29 617.73,777.89" fill="#ff7f0e"/>
<polygon points="632.34,770.68 625.54,766.88 625.54,774.48" fill="#ff7f0e"/>
<polygon points="640.16,769.65 633.36,765.85 633.36,773.45" fill="#ff7f0e"/>
<polygon points="647.97,769.33 641.17,765.53 641.17,773.13" fill="#ff7f0e"/>
<polygon points="655.78,769.24 648.98,765.44 648.98,773.04" fill="#ff7f0e"/>
<polygon points="663.59,769.21 656.79,765.41 656.79,773.01" fill="#ff7f0e"/>
<polygon points="671.40,769.20 664.60,765.40 664.60,773.00" fill="#ff7f0e"/>
<polygon points="679.22,769.20 672.42,765.40 672.42,773.00" fill="#ff7f0e"/>
<polygon points="687.03,972.24 680.23,968.44 680.23,976.04" fill="#ff7f0e"/>
<polygon points="694.84,975.09 688.04,971.29 688.04,978.89" fill="#ff7f0e"/>
<polygon points="702.65,976.03 695.85,972.23 695.85,979.83" fill="#ff7f0e"/>
<polygon points="710.46,976.35 703.66,972.55 703.66,980.15" fill="#ff7f0e"/>
<polygon points="718.28,976.45 711.48,972.65 711.48,980.25" fill="#ff7f0e"/>
<polygon points="726.09,976.48 719.29,972.68 719.29,980.28" fill="#ff7f0e"/>
<polygon points="733.90,976.49 727.10,972.69 727.10,980.29" fill="#ff7f0e"/>
<polygon points="741.71,976.50 734.91,972.70 734.91,980.30" fill="#ff7f0e"/>
<polygon points="749.52,976.50 742.72,972.70 742.72,980.30" fill="#ff7f0e"/>
<path d="M534.60,976.50 L535.32,976.50 L536.04,976.50 L536.76,976.50 L537.48,976.50 L538.20,976.50 L538.92,976.50 L539.64,976.50 L540.36,976.50 L541.08,976.50 L541.80,976.50 L542.52,976.50 L543.24,976.50 L543.96,976.50 L544.68,976.50 L545.40,976.50 L546.12,976.50 L546.84,976.50 L547.56,976.50 L548.28,976.50 L549.00,976.50 L549.72,976.50 L550.44,976.50 L551.16,976.50 L551.88,976.50 L552.60,976.50 L553.32,976.50 L554.04,976.50 L554.76,976.50 L555.48,976.50 L556.20,976.50 L556.92,976.50 L557.64,976.50 L558.36,976.50 L559.08,976.50 L559.80,976.50 L560.52,976.50 L561.24,976.50 L561.96,976.50 L562.68,976.50 L563.40,976.50 L564.12,976.50 L564.84,976.50 L565.56,976.50 L566.28,976.50 L567.00,976.50 L567.72,976.50 L568.44,976.50 L569.16,976.50 L569.88,976.50 L570.60,976.50 L571.32,976.50 L572.04,976.50 L572.76,976.50 L573.48,976.50 L574.20,976.50 L574.92,976.50 L575.64,976.50 L576.36,976.50 L577.08,976.50 L577.80,976.50 L578.52,976.50 L579.24,976.50 L579.96,976.50 L580.68,976.50 L581.40,976.50 L582.12,976.50 L582.84,976.50 L583.56,976.50 L584.28,976.50 L585.00,976.50 L585.72,976.50 L586.44,976.50 L587.16,976.50 L587.88,976.50 L588.60,976.50 L589.32,976.50 L590.04,976.50 L590.76,976.50 L591.48,976.50 L592.20,976.50 L592.92,976.50 L593.64,976.50 L594.36,976.50 L595.08,976.50 L595.80,976.50 L596.52,976.50 L597.24,976.50 L597.96,976.50 L598.68,976.50 L599.40,976.50 L600.12,976.50 L600.84,976.50 L601.56,976.50 L602.10,902.18 L602.28,864.79 L602.46,845.69 L602.64,835.66 L602.82,830.13 L603.00,826.85 L603.18,824.69 L603.36,823.09 L603.54,821.78 L603.72,820.62 L603.90,819.56 L604.08,818.54 L604.26,817.56 L604.44,816.61 L604.62,815.68 L604.80,814.76 L604.98,813.87 L605.16,813.00 L605.34,812.14 L605.52,811.30 L605.70,810.48 L605.88,809.67 L606.06,808.88 L606.24,808.10 L606.42,807.34 L606.60,806.59 L606.78,805.86 L606.96,805.15 L607.14,804.44 L607.32,803.75 L607.50,803.08 L607.68,802.41 L607.86,801.76 L608.04,801.13 L608.22,800.50 L608.40,799.89 L608.58,799.29 L608.76,798.70 L608.94,798.12 L609.12,797.56 L609.30,797.00 L609.48,796.46 L609.66,795.93 L609.84,795.40 L610.02,794.89 L610.20,794.39 L610.38,793.89 L610.56,793.41 L610.74,792.94 L610.92,792.47 L611.10,792.02 L611.28,791.57 L611.46,791.13 L611.64,790.70 L611.82,790.28 L612.18,789.47 L612.54,788.68 L612.90,787.93 L613.26,787.20 L613.62,786.50 L613.98,785.83 L614.34,785.19 L614.70,784.57 L615.06,783.97 L615.42,783.40 L615.78,782.85 L616.14,782.32 L616.50,781.81 L616.86,781.32 L617.22,780.85 L617.58,780.40 L617.94,779.96 L618.30,779.55 L618.66,779.15 L619.02,778.76 L619.38,778.39 L619.74,778.03 L620.10,777.69 L620.46,777.36 L620.82,777.04 L621.18,776.74 L621.54,776.45 L621.90,776.17 L622.26,775.90 L622.62,775.64 L622.98,775.39 L623.34,775.15 L623.88,774.80 L624.42,774.48 L624.96,774.17 L625.50,773.89 L626.04,773.62 L626.58,773.36 L627.12,773.12 L627.66,772.90 L628.20,772.68 L628.74,772.48 L629.28,772.29 L629.82,772.11 L630.36,771.94 L630.90,771.79 L631.44,771.64 L631.98,771.49 L632.52,771.36 L633.06,771.24 L633.60,771.12 L634.14,771.01 L634.68,770.90 L635.22,770.80 L635.76,770.71 L636.30,770.62 L636.84,770.54 L637.38,770.46 L637.92,770.39 L638.46,770.32 L639.00,770.25 L639.54,770.19 L640.26,770.12 L640.98,770.04 L641.70,769.98 L642.42,769.92 L643.14,769.86 L643.86,769.81 L644.58,769.76 L645.30,769.72 L646.02,769.68 L646.74,769.64 L647.46,769.61 L648.18,769.57 L648.90,769.55 L649.62,769.52 L650.34,769.49 L651.06,769.47 L651.78,769.45 L652.50,769.43 L653.22,769.41 L653.94,769.39 L654.66,769.38 L655.38,769.36 L656.10,769.35 L656.82,769.34 L657.54,769.32 L658.26,769.31 L658.98,769.30 L659.70,769.29 L660.42,769.29 L661.14,769.28 L661.86,769.27 L662.58,769.26 L663.30,769.26 L664.02,769.25 L664.74,769.25 L665.46,769.24 L666.18,769.24 L666.90,769.23 L667.62,769.23 L668.34,769.23 L669.06,769.22 L669.78,769.22 L670.50,769.22 L671.22,769.22 L671.94,769.21 L672.66,769.21 L673.38,769.21 L674.10,769.21 L674.82,769.21 L675.54,769.20 L676.26,769.20 L676.98,769.20 L677.70,804.51 L677.88,833.65 L678.06,857.72 L678.24,877.61 L678.42,894.03 L678.60,907.60 L678.78,918.83 L678.96,928.11 L679.14,935.79 L679.32,942.14 L679.50,947.41 L679.68,951.77 L679.86,955.39 L680.04,958.40 L680.22,960.89 L680.40,962.97 L680.58,964.69 L680.76,966.14 L680.94,967.34 L681.12,968.34 L681.30,969.18 L681.48,969.89 L681.66,970.49 L681.84,970.99 L682.02,971.41 L682.38,972.07 L682.74,972.56 L683.10,972.91 L683.46,973.18 L684.00,973.47 L684.54,973.67 L685.08,973.81 L685.62,973.92 L686.16,974.00 L686.70,974.07 L687.42,974.14 L688.14,974.20 L688.86,974.25 L689.58,974.29 L690.30,974.33 L691.02,974.36 L691.74,974.38 L692.46,974.41 L693.18,974.43 L693.90,974.45 L694.62,974.48 L695.34,974.49 L696.06,974.51 L696.78,974.53 L697.50,974.55 L698.22,974.57 L698.94,974.58 L699.66,974.60 L700.38,974.62 L701.10,974.63 L701.82,974.65 L702.54,974.67 L703.26,974.68 L703.98,974.70 L704.70,974.71 L705.42,974.73 L706.14,974.74 L706.86,974.76 L707.58,974.77 L708.30,974.79 L709.02,974.80 L709.74,974.82 L710.46,974.83 L711.18,974.85 L711.90,974.86 L712.62,974.87 L713.34,974.89 L714.06,974.90 L714.78,974.91 L715.50,974.93 L716.22,974.94 L716.94,974.95 L717.66,974.97 L718.38,974.98 L719.10,974.99 L719.82,975.01 L720.54,975.02 L721.26,975.03 L721.98,975.04 L722.70,975.06 L723.42,975.07 L724.14,975.08 L724.86,975.09 L725.58,975.11 L726.30,975.12 L727.02,975.13 L727.74,975.14 L728.46,975.15 L729.18,975.16 L729.90,975.17 L730.62,975.19 L731.34,975.20 L732.06,975.21 L732.78,975.22 L733.50,975.23 L734.22,975.24 L734.94,975.25 L735.66,975.26 L736.38,975.27 L737.10,975.28 L737.82,975.29 L738.54,975.30 L739.26,975.31 L739.98,975.32 L740.70,975.33 L741.42,975.34 L742.14,975.35 L742.86,975.36 L743.58,975.37 L744.30,975.38 L745.02,975.39 L745.74,975.40 L746.46,975.41 L747.18,975.42 L747.90,975.43 L748.62,975.44 L749.34,975.45 L750.06,975.46 L750.60,975.46" fill="none" stroke="#ff00ff" stroke-width="2" stroke-linejoin="round"/>
<polygon points="530.60,976.50 537.40,972.70 537.40,980.30" fill="#ff00ff"/>
<polygon points="538.41,976.50 545.21,972.70 545.21,980.30" fill="#ff00ff"/>
<polygon points="546.22,976.50 553.02,972.70 553.02,980.30" fill="#ff00ff"/>
<polygon points="554.04,976.50 560.84,972.70 560.84,980.30" fill="#ff00ff"/>
<polygon points="561.85,976.50 568.65,972.70 568.65,980.30" fill="#ff00ff"/>
<polygon points="569.66,976.50 576.46,972.70 576.46,980.30" fill="#ff00ff"/>
<polygon points="577.47,976.50 584.27,972.70 584.27,980.30" fill="#ff00ff"/>
<polygon points="585.28,976.50 592.08,972.70 592.08,980.30" fill="#ff00ff"/>
<polygon points="593.10,976.50 599.90,972.70 599.90,980.30" fill="#ff00ff"/>
<polygon points="600.91,814.23 607.71,810.43 607.71,818.03" fill="#ff00ff"/>
<polygon points="608.72,788.30 615.52,784.50 615.52,792.10" fill="#ff00ff"/>
<polygon points="616.53,777.30 623.33,773.50 623.33,781.10" fill="#ff00ff"/>
<polygon points="624.34,772.63 631.14,768.83 631.14,776.43" fill="#ff00ff"/>
<polygon points="632.16,770.65 638.96,766.85 638.96,774.45" fill="#ff00ff"/>
<polygon points="639.97,769.80 646.77,766.00 646.77,773.60" fill="#ff00ff"/>
<polygon points="647.78,769.45 654.58,765.65 654.58,773.25" fill="#ff00ff"/>
<polygon points="655.59,769.30 662.39,765.50 662.39,773.10" fill="#ff00ff"/>
<polygon points="663.40,769.23 670.20,765.43 670.20,773.03" fill="#ff00ff"/>
<polygon points="671.22,769.20 678.02,765.40 678.02,773.00" fill="#ff00ff"/>
<polygon points="679.03,972.85 685.83,969.05 685.83,976.65" fill="#ff00ff"/>
<polygon points="686.84,974.35 693.64,970.55 693.64,978.15" fill="#ff00ff"/>
<polygon points="694.65,974.58 701.45,970.78 701.45,978.38" fill="#ff00ff"/>
<polygon points="702.46,974.75 709.26,970.95 709.26,978.55" fill="#ff00ff"/>
<polygon points="710.28,974.91 717.08,971.11 717.08,978.71" fill="#ff00ff"/>
<polygon points="718.09,975.05 724.89,971.25 724.89,978.85" fill="#ff00ff"/>
<polygon points="725.90,975.17 732.70,971.37 732.70,978.97" fill="#ff00ff"/>
<polygon points="733.71,975.29 740.51,971.49 740.51,979.09" fill="#ff00ff"/>
<polygon points="741.52,975.40 748.32,971.60 748.32,979.20" fill="#ff00ff"/>
<path d="M534.60,976.50 L535.32,976.50 L536.04,976.50 L536.76,976.50 L537.48,976.50 L538.20,976.50 L538.92,976.50 L539.64,976.50 L540.36,976.50 L541.08,976.50 L541.80,976.50 L542.52,976.50 L543.24,976.50 L543.96,976.50 L544.68,976.50 L545.40,976.50 L546.12,976.50 L546.84,976.50 L547.56,976.50 L548.28,976.50 L549.00,976.50 L549.72,976.50 L550.44,976.50 L551.16,976.50 L551.88,976.50 L552.60,976.50 L553.32,976.50 L554.04,976.50 L554.76,976.50 L555.48,976.50 L556.20,976.50 L556.92,976.50 L557.64,976.50 L558.36,976.50 L559.08,976.50 L559.80,976.50 L560.52,976.50 L561.24,976.50 L561.96,976.50 L562.68,976.50 L563.40,976.50 L564.12,976.50 L564.84,976.50 L565.56,976.50 L566.28,976.50 L567.00,976.50 L567.72,976.50 L568.44,976.50 L569.16,976.50 L569.88,976.50 L570.60,976.50 L571.32,976.50 L572.04,976.50 L572.76,976.50 L573.48,976.50 L574.20,976.50 L574.92,976.50 L575.64,976.50 L576.36,976.50 L577.08,976.50 L577.80,976.50 L578.52,976.50 L579.24,976.50 L579.96,976.50 L580.68,976.50 L581.40,976.50 L582.12,976.50 L582.84,976.50 L583.56,976.50 L584.28,976.50 L585.00,976.50 L585.72,976.50 L586.44,976.50 L587.16,976.50 L587.88,976.50 L588.60,976.50 L589.32,976.50 L590.04,976.50 L590.76,976.50 L591.48,976.50 L592.20,976.50 L592.92,976.50 L593.64,976.50 L594.36,976.50 L595.08,976.50 L595.80,976.50 L596.52,976.50 L597.24,976.50 L597.96,976.50 L598.68,976.50 L599.40,976.50 L600.12,976.50 L600.84,976.50 L601.56,976.50 L602.28,976.50 L603.00,976.50 L603.18,968.27 L603.36,960.39 L603.54,952.85 L603.72,945.64 L603.90,938.74 L604.08,932.13 L604.26,925.81 L604.44,919.77 L604.62,913.98 L604.80,908.45 L604.98,903.15 L605.16,898.08 L605.34,893.22 L605.52,888.58 L605.70,884.13 L605.88,879.87 L606.06,875.80 L606.24,871.90 L606.42,868.16 L606.60,864.59 L606.78,861.17 L606.96,857.89 L607.14,854.75 L607.32,851.74 L607.50,848.86 L607.68,846.11 L607.86,843.47 L608.04,840.94 L608.22,838.51 L608.40,836.19 L608.58,833.97 L608.76,831.84 L608.94,829.79 L609.12,827.84 L609.30,825.96 L609.48,824.16 L609.66,822.44 L609.84,820.79 L610.02,819.20 L610.20,817.68 L610.38,816.22 L610.56,814.83 L610.74,813.49 L610.92,812.20 L611.10,810.96 L611.28,809.78 L611.46,808.64 L611.64,807.55 L611.82,806.51 L612.00,805.50 L612.18,804.53 L612.36,803.61 L612.54,802.72 L612.72,801.86 L612.90,801.04 L613.08,800.25 L613.26,799.49 L613.44,798.76 L613.62,798.05 L613.80,797.38 L613.98,796.73 L614.16,796.10 L614.34,795.50 L614.52,794.92 L614.70,794.36 L614.88,793.83 L615.06,793.31 L615.24,792.81 L615.42,792.33 L615.60,791.87 L615.78,791.42 L615.96,790.99 L616.32,790.17 L616.68,789.41 L617.04,788.70 L617.40,788.04 L617.76,787.42 L618.12,786.84 L618.48,786.29 L618.84,785.78 L619.20,785.30 L619.56,784.85 L619.92,784.42 L620.28,784.02 L620.64,783.64 L621.00,783.27 L621.36,782.93 L621.72,782.61 L622.08,782.30 L622.44,782.00 L622.80,781.72 L623.16,781.45 L623.52,781.19 L623.88,780.95 L624.42,780.60 L624.96,780.26 L625.50,779.95 L626.04,779.65 L626.58,779.37 L627.12,779.09 L627.66,778.84 L628.20,778.59 L628.74,778.35 L629.28,778.12 L629.82,777.89 L630.36,777.68 L630.90,777.47 L631.44,777.27 L631.98,777.07 L632.52,776.88 L633.06,776.70 L633.60,776.52 L634.14,776.34 L634.68,776.17 L635.22,776.00 L635.76,775.84 L636.30,775.68 L636.84,775.52 L637.38,775.37 L637.92,775.22 L638.46,775.07 L639.00,774.93 L639.54,774.79 L640.08,774.65 L640.62,774.51 L641.16,774.38 L641.70,774.25 L642.24,774.12 L642.78,774.00 L643.32,773.87 L643.86,773.75 L644.40,773.63 L644.94,773.51 L645.48,773.40 L646.02,773.29 L646.56,773.18 L647.10,773.07 L647.64,772.96 L648.18,772.86 L648.72,772.75 L649.26,772.65 L649.80,772.55 L650.34,772.46 L650.88,772.36 L651.42,772.27 L651.96,772.17 L652.50,772.08 L653.04,771.99 L653.58,771.91 L654.12,771.82 L654.66,771.73 L655.20,771.65 L655.74,771.57 L656.28,771.49 L656.82,771.41 L657.36,771.33 L657.90,771.26 L658.44,771.18 L658.98,771.11 L659.52,771.04 L660.06,770.96 L660.60,770.89 L661.14,770.83 L661.68,770.76 L662.22,770.69 L662.76,770.63 L663.30,770.56 L663.84,770.50 L664.38,770.44 L664.92,770.38 L665.64,770.30 L666.36,770.22 L667.08,770.15 L667.80,770.07 L668.52,770.00 L669.24,769.93 L669.96,769.86 L670.68,769.79 L671.40,769.73 L672.12,769.66 L672.84,769.60 L673.56,769.54 L674.28,769.48 L675.00,769.42 L675.72,769.36 L676.44,769.31 L677.16,769.25 L677.88,769.20 L678.06,839.54 L678.24,881.74 L678.42,907.20 L678.60,922.70 L678.78,932.27 L678.96,938.31 L679.14,942.23 L679.32,944.89 L679.50,946.79 L679.68,948.22 L679.86,949.36 L680.04,950.33 L680.22,951.18 L680.40,951.96 L680.58,952.67 L680.76,953.35 L680.94,954.00 L681.12,954.61 L681.30,955.21 L681.48,955.78 L681.66,956.33 L681.84,956.86 L682.02,957.38 L682.20,957.87 L682.38,958.36 L682.56,958.82 L682.74,959.27 L682.92,959.71 L683.10,960.13 L683.46,960.93 L683.82,961.68 L684.18,962.39 L684.54,963.05 L684.90,963.66 L685.26,964.24 L685.62,964.78 L685.98,965.29 L686.34,965.77 L686.70,966.21 L687.06,966.63 L687.42,967.02 L687.78,967.39 L688.14,967.73 L688.50,968.05 L688.86,968.35 L689.22,968.64 L689.58,968.90 L689.94,969.15 L690.48,969.50 L691.02,969.82 L691.56,970.10 L692.10,970.37 L692.64,970.60 L693.18,970.82 L693.72,971.02 L694.26,971.20 L694.80,971.37 L695.34,971.52 L695.88,971.66 L696.42,971.79 L696.96,971.91 L697.50,972.02 L698.04,972.12 L698.58,972.21 L699.12,972.30 L699.66,972.38 L700.20,972.45 L700.74,972.52 L701.28,972.59 L701.82,972.65 L702.54,972.72 L703.26,972.79 L703.98,972.85 L704.70,972.91 L705.42,972.96 L706.14,973.02 L706.86,973.06 L707.58,973.11 L708.30,973.15 L709.02,973.19 L709.74,973.23 L710.46,973.26 L711.18,973.30 L711.90,973.33 L712.62,973.36 L713.34,973.40 L714.06,973.43 L714.78,973.46 L715.50,973.48 L716.22,973.51 L716.94,973.54 L717.66,973.57 L718.38,973.59 L719.10,973.62 L719.82,973.64 L720.54,973.67 L721.26,973.69 L721.98,973.72 L722.70,973.74 L723.42,973.76 L724.14,973.79 L724.86,973.81 L725.58,973.83 L726.30,973.85 L727.02,973.88 L727.74,973.90 L728.46,973.92 L729.18,973.94 L729.90,973.96 L730.62,973.98 L731.34,974.00 L732.06,974.02 L732.78,974.04 L733.50,974.06 L734.22,974.08 L734.94,974.10 L735.66,974.12 L736.38,974.14 L737.10,974.16 L737.82,974.18 L738.54,974.20 L739.26,974.22 L739.98,974.24 L740.70,974.25 L741.42,974.27 L742.14,974.29 L742.86,974.31 L743.58,974.33 L744.30,974.34 L745.02,974.36 L745.74,974.38 L746.46,974.40 L747.18,974.41 L747.90,974.43 L748.62,974.45 L749.34,974.46 L750.06,974.48 L750.60,974.49" fill="none" stroke="#0000ff" stroke-width="2" stroke-linejoin="round"/>
<polygon points="534.60,980.50 530.80,973.70 538.40,973.70" fill="#0000ff"/>
<polygon points="542.41,980.50 538.61,973.70 546.21,973.70" fill="#0000ff"/>
<polygon points="550.22,980.50 546.42,973.70 554.02,973.70" fill="#0000ff"/>
<polygon points="558.04,980.50 554.24,973.70 561.84,973.70" fill="#0000ff"/>
<polygon points="565.85,980.50 562.05,973.70 569.65,973.70" fill="#0000ff"/>
<polygon points="573.66,980.50 569.86,973.70 577.46,973.70" fill="#0000ff"/>
<polygon points="581.47,980.50 577.67,973.70 585.27,973.70" fill="#0000ff"/>
<polygon points="589.28,980.50 585.48,973.70 593.08,973.70" fill="#0000ff"/>
<polygon points="597.10,980.50 593.30,973.70 600.90,973.70" fill="#0000ff"/>
<polygon points="604.91,909.24 601.11,902.44 608.71,902.44" fill="#0000ff"/>
<polygon points="612.72,805.86 608.92,799.06 616.52,799.06" fill="#0000ff"/>
<polygon points="620.53,787.75 616.73,780.95 624.33,780.95" fill="#0000ff"/>
<polygon points="628.34,782.52 624.54,775.72 632.14,775.72" fill="#0000ff"/>
<polygon points="636.16,779.72 632.36,772.92 639.96,772.92" fill="#0000ff"/>
<polygon points="643.97,777.73 640.17,770.93 647.77,770.93" fill="#0000ff"/>
<polygon points="651.78,776.20 647.98,769.40 655.58,769.40" fill="#0000ff"/>
<polygon points="659.59,775.03 655.79,768.23 663.39,768.23" fill="#0000ff"/>
<polygon points="667.40,774.11 663.60,767.31 671.20,767.31" fill="#0000ff"/>
<polygon points="675.22,773.40 671.42,766.60 679.02,766.60" fill="#0000ff"/>
<polygon points="683.03,963.96 679.23,957.16 686.83,957.16" fill="#0000ff"/>
<polygon points="690.84,973.71 687.04,966.91 694.64,966.91" fill="#0000ff"/>
<polygon points="698.65,976.23 694.85,969.43 702.45,969.43" fill="#0000ff"/>
<polygon points="706.46,977.04 702.66,970.24 710.26,970.24" fill="#0000ff"/>
<polygon points="714.28,977.44 710.48,970.64 718.08,970.64" fill="#0000ff"/>
<polygon points="722.09,977.72 718.29,970.92 725.89,970.92" fill="#0000ff"/>
<polygon points="729.90,977.96 726.10,971.16 733.70,971.16" fill="#0000ff"/>
<polygon points="737.71,978.18 733.91,971.38 741.51,971.38" fill="#0000ff"/>
<polygon points="745.52,978.37 741.72,971.57 749.32,971.57" fill="#0000ff"/>
<path d="M534.60,976.50 L535.32,976.50 L536.04,976.50 L536.76,976.50 L537.48,976.50 L538.20,976.50 L538.92,976.50 L539.64,976.50 L540.36,976.50 L541.08,976.50 L541.80,976.50 L542.52,976.50 L543.24,976.50 L543.96,976.50 L544.68,976.50 L545.40,976.50 L546.12,976.50 L546.84,976.50 L547.56,976.50 L548.28,976.50 L549.00,976.50 L549.72,976.50 L550.44,976.50 L551.16,976.50 L551.88,976.50 L552.60,976.50 L553.32,976.50 L554.04,976.50 L554.76,976.50 L555.48,976.50 L556.20,976.50 L556.92,976.50 L557.64,976.50 L558.36,976.50 L559.08,976.50 L559.80,976.50 L560.52,976.50 L561.24,976.50 L561.96,976.50 L562.68,976.50 L563.40,976.50 L564.12,976.50 L564.84,976.50 L565.56,976.50 L566.28,976.50 L567.00,976.50 L567.72,976.50 L568.44,976.50 L569.16,976.50 L569.88,976.50 L570.60,976.50 L571.32,976.50 L572.04,976.50 L572.76,976.50 L573.48,976.50 L574.20,976.50 L574.92,976.50 L575.64,976.50 L576.36,976.50 L577.08,976.50 L577.80,976.50 L578.52,976.50 L579.24,976.50 L579.96,976.50 L580.68,976.50 L581.40,976.50 L582.12,976.50 L582.84,976.50 L583.56,976.50 L584.28,976.50 L585.00,976.50 L585.72,976.50 L586.44,976.50 L587.16,976.50 L587.88,976.50 L588.60,976.50 L589.32,976.50 L590.04,976.50 L590.76,976.50 L591.48,976.50 L592.20,976.50 L592.92,976.50 L593.64,976.50 L594.36,976.50 L595.08,976.50 L595.80,976.50 L596.52,976.50 L597.24,976.50 L597.96,976.50 L598.68,976.50 L599.40,976.50 L600.12,976.50 L600.84,976.50 L601.56,976.50 L602.28,976.50 L603.00,976.50 L603.72,976.50 L604.26,975.54 L604.44,970.82 L604.62,966.24 L604.80,961.78 L604.98,957.44 L605.16,953.22 L605.34,949.11 L605.52,945.12 L605.70,941.24 L605.88,937.46 L606.06,933.79 L606.24,930.22 L606.42,926.74 L606.60,923.36 L606.78,920.06 L606.96,916.86 L607.14,913.75 L607.32,910.71 L607.50,907.76 L607.68,904.89 L607.86,902.09 L608.04,899.37 L608.22,896.73 L608.40,894.15 L608.58,891.64 L608.76,889.20 L608.94,886.82 L609.12,884.50 L609.30,882.25 L609.48,880.05 L609.66,877.91 L609.84,875.83 L610.02,873.80 L610.20,871.82 L610.38,869.90 L610.56,868.02 L610.74,866.20 L610.92,864.42 L611.10,862.68 L611.28,860.99 L611.46,859.35 L611.64,857.74 L611.82,856.18 L612.00,854.65 L612.18,853.16 L612.36,851.71 L612.54,850.30 L612.72,848.92 L612.90,847.58 L613.08,846.26 L613.26,844.99 L613.44,843.74 L613.62,842.52 L613.80,841.33 L613.98,840.17 L614.16,839.04 L614.34,837.94 L614.52,836.86 L614.70,835.81 L614.88,834.78 L615.06,833.78 L615.24,832.80 L615.42,831.84 L615.60,830.91 L615.78,830.00 L615.96,829.11 L616.14,828.24 L616.32,827.39 L616.50,826.55 L616.68,825.74 L616.86,824.95 L617.04,824.17 L617.22,823.41 L617.40,822.67 L617.58,821.94 L617.76,821.23 L617.94,820.54 L618.12,819.86 L618.30,819.19 L618.48,818.54 L618.66,817.90 L618.84,817.28 L619.02,816.67 L619.20,816.07 L619.38,815.48 L619.56,814.91 L619.74,814.35 L619.92,813.80 L620.10,813.26 L620.28,812.73 L620.46,812.21 L620.64,811.70 L620.82,811.20 L621.00,810.71 L621.18,810.24 L621.36,809.77 L621.54,809.30 L621.72,808.85 L621.90,808.41 L622.08,807.97 L622.26,807.55 L622.62,806.71 L622.98,805.91 L623.34,805.14 L623.70,804.39 L624.06,803.67 L624.42,802.97 L624.78,802.29 L625.14,801.64 L625.50,801.01 L625.86,800.39 L626.22,799.80 L626.58,799.22 L626.94,798.66 L627.30,798.12 L627.66,797.59 L628.02,797.07 L628.38,796.57 L628.74,796.09 L629.10,795.61 L629.46,795.15 L629.82,794.70 L630.18,794.26 L630.54,793.83 L630.90,793.41 L631.26,793.00 L631.62,792.60 L631.98,792.21 L632.34,791.82 L632.70,791.45 L633.06,791.08 L633.42,790.72 L633.78,790.37 L634.14,790.02 L634.50,789.68 L634.86,789.35 L635.22,789.02 L635.58,788.70 L635.94,788.39 L636.30,788.08 L636.66,787.77 L637.02,787.48 L637.38,787.18 L637.74,786.89 L638.10,786.61 L638.46,786.33 L638.82,786.05 L639.18,785.78 L639.54,785.51 L639.90,785.25 L640.26,784.99 L640.62,784.73 L640.98,784.48 L641.34,784.23 L641.70,783.99 L642.06,783.74 L642.60,783.39 L643.14,783.04 L643.68,782.69 L644.22,782.36 L644.76,782.03 L645.30,781.70 L645.84,781.38 L646.38,781.07 L646.92,780.76 L647.46,780.46 L648.00,780.17 L648.54,779.88 L649.08,779.59 L649.62,779.31 L650.16,779.03 L650.70,778.76 L651.24,778.49 L651.78,778.23 L652.32,777.97 L652.86,777.72 L653.40,777.47 L653.94,777.22 L654.48,776.98 L655.02,776.74 L655.56,776.50 L656.10,776.27 L656.64,776.04 L657.18,775.82 L657.72,775.60 L658.26,775.38 L658.80,775.17 L659.34,774.96 L659.88,774.75 L660.42,774.55 L660.96,774.35 L661.50,774.15 L662.04,773.95 L662.58,773.76 L663.12,773.57 L663.66,773.38 L664.20,773.20 L664.74,773.02 L665.28,772.84 L665.82,772.67 L666.36,772.49 L666.90,772.32 L667.44,772.16 L667.98,771.99 L668.52,771.83 L669.06,771.67 L669.60,771.51 L670.14,771.36 L670.68,771.20 L671.22,771.05 L671.76,770.90 L672.30,770.76 L672.84,770.61 L673.38,770.47 L673.92,770.33 L674.46,770.19 L675.00,770.06 L675.54,769.92 L676.08,769.79 L676.62,769.66 L677.16,769.53 L677.70,769.41 L678.24,769.28 L678.78,836.56 L678.96,867.61 L679.14,882.81 L679.32,891.04 L679.50,896.17 L679.68,899.90 L679.86,902.95 L680.04,905.66 L680.22,908.15 L680.40,910.49 L680.58,912.73 L680.76,914.86 L680.94,916.90 L681.12,918.86 L681.30,920.73 L681.48,922.53 L681.66,924.26 L681.84,925.92 L682.02,927.50 L682.20,929.03 L682.38,930.49 L682.56,931.89 L682.74,933.24 L682.92,934.53 L683.10,935.77 L683.28,936.96 L683.46,938.10 L683.64,939.20 L683.82,940.25 L684.00,941.26 L684.18,942.23 L684.36,943.16 L684.54,944.05 L684.72,944.91 L684.90,945.73 L685.08,946.52 L685.26,947.28 L685.44,948.01 L685.62,948.71 L685.80,949.38 L685.98,950.03 L686.16,950.65 L686.34,951.24 L686.52,951.82 L686.70,952.37 L686.88,952.90 L687.06,953.41 L687.24,953.89 L687.42,954.36 L687.60,954.82 L687.78,955.25 L688.14,956.07 L688.50,956.83 L688.86,957.53 L689.22,958.19 L689.58,958.79 L689.94,959.35 L690.30,959.87 L690.66,960.35 L691.02,960.80 L691.38,961.22 L691.74,961.61 L692.10,961.98 L692.46,962.32 L692.82,962.63 L693.18,962.93 L693.54,963.21 L693.90,963.47 L694.26,963.71 L694.80,964.05 L695.34,964.36 L695.88,964.65 L696.42,964.91 L696.96,965.15 L697.50,965.37 L698.04,965.58 L698.58,965.77 L699.12,965.96 L699.66,966.13 L700.20,966.29 L700.74,966.44 L701.28,966.58 L701.82,966.72 L702.36,966.85 L702.90,966.97 L703.44,967.09 L703.98,967.21 L704.52,967.32 L705.06,967.42 L705.60,967.53 L706.14,967.63 L706.68,967.73 L707.22,967.82 L707.76,967.92 L708.30,968.01 L708.84,968.10 L709.38,968.19 L709.92,968.27 L710.46,968.36 L711.00,968.44 L711.54,968.52 L712.08,968.60 L712.62,968.68 L713.16,968.76 L713.70,968.84 L714.24,968.91 L714.78,968.99 L715.32,969.06 L715.86,969.13 L716.40,969.20 L716.94,969.28 L717.48,969.35 L718.02,969.42 L718.56,969.48 L719.10,969.55 L719.64,969.62 L720.18,969.69 L720.72,969.75 L721.26,969.82 L721.80,969.88 L722.34,969.95 L722.88,970.01 L723.42,970.07 L723.96,970.13 L724.50,970.20 L725.04,970.26 L725.58,970.32 L726.30,970.40 L727.02,970.47 L727.74,970.55 L728.46,970.63 L729.18,970.70 L729.90,970.78 L730.62,970.85 L731.34,970.92 L732.06,970.99 L732.78,971.06 L733.50,971.13 L734.22,971.20 L734.94,971.27 L735.66,971.34 L736.38,971.40 L737.10,971.47 L737.82,971.53 L738.54,971.60 L739.26,971.66 L739.98,971.72 L740.70,971.78 L741.42,971.84 L742.14,971.90 L742.86,971.96 L743.58,972.02 L744.30,972.08 L745.02,972.13 L745.74,972.19 L746.46,972.24 L747.18,972.30 L747.90,972.35 L748.62,972.41 L749.34,972.46 L750.06,972.51 L750.60,972.55" fill="none" stroke="#00ff00" stroke-width="2" stroke-linejoin="round"/>
<polygon points="534.60,972.50 530.80,979.30 538.40,979.30" fill="#00ff00"/>
<polygon points="542.41,972.50 538.61,979.30 546.21,979.30" fill="#00ff00"/>
<polygon points="550.22,972.50 546.42,979.30 554.02,979.30" fill="#00ff00"/>
<polygon points="558.04,972.50 554.24,979.30 561.84,979.30" fill="#00ff00"/>
<polygon points="565.85,972.50 562.05,979.30 569.65,979.30" fill="#00ff00"/>
<polygon points="573.66,972.50 569.86,979.30 577.46,979.30" fill="#00ff00"/>
<polygon points="581.47,972.50 577.67,979.30 585.27,979.30" fill="#00ff00"/>
<polygon points="589.28,972.50 585.48,979.30 593.08,979.30" fill="#00ff00"/>
<polygon points="597.10,972.50 593.30,979.30 600.90,979.30" fill="#00ff00"/>
<polygon points="604.91,955.16 601.11,961.96 608.71,961.96" fill="#00ff00"/>
<polygon points="612.72,844.92 608.92,851.72 616.52,851.72" fill="#00ff00"/>
<polygon points="620.53,808.00 616.73,814.80 624.33,814.80" fill="#00ff00"/>
<polygon points="628.34,792.62 624.54,799.42 632.14,799.42" fill="#00ff00"/>
<polygon points="636.16,784.20 632.36,791.00 639.96,791.00" fill="#00ff00"/>
<polygon points="643.97,778.51 640.17,785.31 647.77,785.31" fill="#00ff00"/>
<polygon points="651.78,774.23 647.98,781.03 655.58,781.03" fill="#00ff00"/>
<polygon points="659.59,770.86 655.79,777.66 663.39,777.66" fill="#00ff00"/>
<polygon points="667.40,768.17 663.60,774.97 671.20,774.97" fill="#00ff00"/>
<polygon points="675.22,766.00 671.42,772.80 679.02,772.80" fill="#00ff00"/>
<polygon points="683.03,931.28 679.23,938.08 686.83,938.08" fill="#00ff00"/>
<polygon points="690.84,956.58 687.04,963.38 694.64,963.38" fill="#00ff00"/>
<polygon points="698.65,961.80 694.85,968.60 702.45,968.60" fill="#00ff00"/>
<polygon points="706.46,963.69 702.66,970.49 710.26,970.49" fill="#00ff00"/>
<polygon points="714.28,964.92 710.48,971.72 718.08,971.72" fill="#00ff00"/>
<polygon points="722.09,965.92 718.29,972.72 725.89,972.72" fill="#00ff00"/>
<polygon points="729.90,966.78 726.10,973.58 733.70,973.58" fill="#00ff00"/>
<polygon points="737.71,967.52 733.91,974.32 741.51,974.32" fill="#00ff00"/>
<polygon points="745.52,968.17 741.72,974.97 749.32,974.97" fill="#00ff00"/>
<path d="M534.60,976.50 L535.32,976.50 L536.04,976.50 L536.76,976.50 L537.48,976.50 L538.20,976.50 L538.92,976.50 L539.64,976.50 L540.36,976.50 L541.08,976.50 L541.80,976.50 L542.52,976.50 L543.24,976.50 L543.96,976.50 L544.68,976.50 L545.40,976.50 L546.12,976.50 L546.84,976.50 L547.56,976.50 L548.28,976.50 L549.00,976.50 L549.72,976.50 L550.44,976.50 L551.16,976.50 L551.88,976.50 L552.60,976.50 L553.32,976.50 L554.04,976.50 L554.76,976.50 L555.48,976.50 L556.20,976.50 L556.92,976.50 L557.64,976.50 L558.36,976.50 L559.08,976.50 L559.80,976.50 L560.52,976.50 L561.24,976.50 L561.96,976.50 L562.68,976.50 L563.40,976.50 L564.12,976.50 L564.84,976.50 L565.56,976.50 L566.28,976.50 L567.00,976.50 L567.72,976.50 L568.44,976.50 L569.16,976.50 L569.88,976.50 L570.60,976.50 L571.32,976.50 L572.04,976.50 L572.76,976.50 L573.48,976.50 L574.20,976.50 L574.92,976.50 L575.64,976.50 L576.36,976.50 L577.08,976.50 L577.80,976.50 L578.52,976.50 L579.24,976.50 L579.96,976.50 L580.68,976.50 L581.40,976.50 L582.12,976.50 L582.84,976.50 L583.56,976.50 L584.28,976.50 L585.00,976.50 L585.72,976.50 L586.44,976.50 L587.16,976.50 L587.88,976.50 L588.60,976.50 L589.32,976.50 L590.04,976.50 L590.76,976.50 L591.48,976.50 L592.20,976.50 L592.92,976.50 L593.64,976.50 L594.36,976.50 L595.08,976.50 L595.80,976.50 L596.52,976.50 L597.24,976.50 L597.96,976.50 L598.68,976.50 L599.40,976.50 L600.12,976.50 L600.84,976.50 L601.56,976.50 L602.28,976.50 L603.00,976.50 L603.72,976.50 L604.44,976.50 L605.16,976.50 L605.70,974.70 L605.88,972.93 L606.06,971.16 L606.24,969.42 L606.42,967.69 L606.60,965.99 L606.78,964.29 L606.96,962.62 L607.14,960.96 L607.32,959.32 L607.50,957.69 L607.68,956.08 L607.86,954.48 L608.04,952.90 L608.22,951.34 L608.40,949.79 L608.58,948.26 L608.76,946.74 L608.94,945.24 L609.12,943.75 L609.30,942.27 L609.48,940.81 L609.66,939.37 L609.84,937.93 L610.02,936.52 L610.20,935.11 L610.38,933.72 L610.56,932.34 L610.74,930.98 L610.92,929.63 L611.10,928.29 L611.28,926.96 L611.46,925.65 L611.64,924.35 L611.82,923.06 L612.00,921.79 L612.18,920.52 L612.36,919.27 L612.54,918.03 L612.72,916.80 L612.90,915.59 L613.08,914.38 L613.26,913.19 L613.44,912.01 L613.62,910.84 L613.80,909.68 L613.98,908.53 L614.16,907.39 L614.34,906.26 L614.52,905.15 L614.70,904.04 L614.88,902.94 L615.06,901.86 L615.24,900.78 L615.42,899.71 L615.60,898.66 L615.78,897.61 L615.96,896.57 L616.14,895.55 L616.32,894.53 L616.50,893.52 L616.68,892.52 L616.86,891.53 L617.04,890.55 L617.22,889.58 L617.40,888.62 L617.58,887.66 L617.76,886.72 L617.94,885.78 L618.12,884.85 L618.30,883.93 L618.48,883.02 L618.66,882.11 L618.84,881.22 L619.02,880.33 L619.20,879.45 L619.38,878.58 L619.56,877.72 L619.74,876.86 L619.92,876.01 L620.10,875.17 L620.28,874.34 L620.46,873.51 L620.64,872.69 L620.82,871.88 L621.00,871.08 L621.18,870.28 L621.36,869.49 L621.54,868.70 L621.72,867.93 L621.90,867.16 L622.08,866.40 L622.26,865.64 L622.44,864.89 L622.62,864.15 L622.80,863.41 L622.98,862.68 L623.16,861.95 L623.34,861.24 L623.52,860.52 L623.70,859.82 L623.88,859.12 L624.06,858.42 L624.24,857.74 L624.42,857.05 L624.60,856.38 L624.78,855.71 L624.96,855.04 L625.14,854.38 L625.32,853.73 L625.50,853.08 L625.68,852.44 L625.86,851.80 L626.04,851.17 L626.22,850.54 L626.40,849.92 L626.58,849.30 L626.76,848.69 L626.94,848.09 L627.12,847.48 L627.30,846.89 L627.48,846.30 L627.66,845.71 L627.84,845.13 L628.02,844.55 L628.20,843.98 L628.38,843.41 L628.56,842.85 L628.74,842.29 L628.92,841.73 L629.10,841.18 L629.28,840.64 L629.46,840.10 L629.64,839.56 L629.82,839.03 L630.00,838.50 L630.18,837.98 L630.36,837.46 L630.54,836.94 L630.72,836.43 L630.90,835.92 L631.08,835.42 L631.26,834.92 L631.44,834.42 L631.62,833.93 L631.80,833.44 L631.98,832.96 L632.16,832.48 L632.34,832.00 L632.52,831.53 L632.70,831.06 L632.88,830.59 L633.06,830.13 L633.24,829.67 L633.42,829.21 L633.60,828.76 L633.78,828.31 L633.96,827.87 L634.14,827.43 L634.32,826.99 L634.50,826.55 L634.68,826.12 L634.86,825.69 L635.04,825.27 L635.22,824.84 L635.58,824.01 L635.94,823.18 L636.30,822.37 L636.66,821.57 L637.02,820.78 L637.38,820.01 L637.74,819.24 L638.10,818.48 L638.46,817.74 L638.82,817.01 L639.18,816.28 L639.54,815.57 L639.90,814.86 L640.26,814.17 L640.62,813.48 L640.98,812.81 L641.34,812.14 L641.70,811.48 L642.06,810.84 L642.42,810.20 L642.78,809.56 L643.14,808.94 L643.50,808.32 L643.86,807.72 L644.22,807.12 L644.58,806.52 L644.94,805.94 L645.30,805.36 L645.66,804.79 L646.02,804.23 L646.38,803.67 L646.74,803.12 L647.10,802.58 L647.46,802.05 L647.82,801.52 L648.18,800.99 L648.54,800.48 L648.90,799.96 L649.26,799.46 L649.62,798.96 L649.98,798.47 L650.34,797.98 L650.70,797.50 L651.06,797.02 L651.42,796.55 L651.78,796.09 L652.14,795.63 L652.50,795.17 L652.86,794.72 L653.22,794.28 L653.58,793.84 L653.94,793.40 L654.30,792.97 L654.66,792.54 L655.02,792.12 L655.38,791.70 L655.74,791.29 L656.10,790.88 L656.46,790.48 L656.82,790.08 L657.18,789.68 L657.54,789.29 L657.90,788.90 L658.26,788.52 L658.62,788.14 L658.98,787.76 L659.34,787.39 L659.70,787.02 L660.06,786.65 L660.42,786.29 L660.78,785.93 L661.14,785.58 L661.50,785.22 L661.86,784.88 L662.22,784.53 L662.58,784.19 L662.94,783.85 L663.30,783.51 L663.66,783.18 L664.02,782.85 L664.38,782.52 L664.74,782.20 L665.10,781.88 L665.46,781.56 L665.82,781.25 L666.18,780.93 L666.54,780.62 L666.90,780.32 L667.26,780.01 L667.62,779.71 L667.98,779.41 L668.34,779.11 L668.70,778.82 L669.06,778.53 L669.42,778.24 L669.78,777.95 L670.14,777.67 L670.50,777.38 L670.86,777.10 L671.22,776.83 L671.58,776.55 L671.94,776.28 L672.30,776.01 L672.66,775.74 L673.02,775.47 L673.38,775.21 L673.74,774.94 L674.10,774.68 L674.46,774.42 L674.82,774.17 L675.18,773.91 L675.54,773.66 L675.90,773.41 L676.26,773.16 L676.62,772.91 L676.98,772.67 L677.34,772.42 L677.70,772.18 L678.06,771.94 L678.60,771.58 L679.14,771.23 L679.68,770.88 L680.22,785.88 L680.40,799.41 L680.58,811.43 L680.76,822.12 L680.94,831.65 L681.12,840.15 L681.30,847.75 L681.48,854.54 L681.66,860.63 L681.84,866.10 L682.02,871.02 L682.20,875.45 L682.38,879.46 L682.56,883.09 L682.74,886.38 L682.92,889.38 L683.10,892.11 L683.28,894.62 L683.46,896.91 L683.64,899.03 L683.82,900.98 L684.00,902.79 L684.18,904.47 L684.36,906.03 L684.54,907.49 L684.72,908.87 L684.90,910.16 L685.08,911.37 L685.26,912.52 L685.44,913.61 L685.62,914.65 L685.80,915.64 L685.98,916.58 L686.16,917.48 L686.34,918.35 L686.52,919.19 L686.70,919.99 L686.88,920.77 L687.06,921.52 L687.24,922.24 L687.42,922.95 L687.60,923.63 L687.78,924.30 L687.96,924.94 L688.14,925.57 L688.32,926.19 L688.50,926.79 L688.68,927.37 L688.86,927.95 L689.04,928.50 L689.22,929.05 L689.40,929.59 L689.58,930.11 L689.76,930.63 L689.94,931.13 L690.12,931.62 L690.30,932.11 L690.48,932.58 L690.66,933.05 L690.84,933.51 L691.02,933.96 L691.20,934.40 L691.38,934.83 L691.56,935.26 L691.92,936.08 L692.28,936.88 L692.64,937.66 L693.00,938.41 L693.36,939.13 L693.72,939.83 L694.08,940.50 L694.44,941.16 L694.80,941.79 L695.16,942.41 L695.52,943.00 L695.88,943.58 L696.24,944.13 L696.60,944.67 L696.96,945.20 L697.32,945.70 L697.68,946.20 L698.04,946.67 L698.40,947.14 L698.76,947.58 L699.12,948.02 L699.48,948.44 L699.84,948.85 L700.20,949.25 L700.56,949.64 L700.92,950.01 L701.28,950.38 L701.64,950.73 L702.00,951.08 L702.36,951.41 L702.72,951.74 L703.08,952.06 L703.44,952.36 L703.80,952.66 L704.16,952.96 L704.52,953.24 L704.88,953.52 L705.24,953.79 L705.60,954.05 L705.96,954.30 L706.32,954.55 L706.68,954.80 L707.22,955.15 L707.76,955.49 L708.30,955.82 L708.84,956.13 L709.38,956.44 L709.92,956.73 L710.46,957.02 L711.00,957.29 L711.54,957.56 L712.08,957.82 L712.62,958.07 L713.16,958.31 L713.70,958.54 L714.24,958.77 L714.78,958.99 L715.32,959.21 L715.86,959.42 L716.40,959.62 L716.94,959.82 L717.48,960.01 L718.02,960.20 L718.56,960.38 L719.10,960.56 L719.64,960.73 L720.18,960.90 L720.72,961.07 L721.26,961.23 L721.80,961.39 L722.34,961.54 L722.88,961.69 L723.42,961.84 L723.96,961.99 L724.50,962.13 L725.04,962.27 L725.58,962.41 L726.12,962.54 L726.66,962.68 L727.20,962.81 L727.74,962.93 L728.28,963.06 L728.82,963.18 L729.36,963.30 L729.90,963.42 L730.44,963.54 L730.98,963.66 L731.52,963.77 L732.06,963.88 L732.60,963.99 L733.14,964.10 L733.68,964.21 L734.22,964.32 L734.76,964.42 L735.30,964.52 L735.84,964.63 L736.38,964.73 L736.92,964.83 L737.46,964.92 L738.00,965.02 L738.54,965.12 L739.08,965.21 L739.62,965.31 L740.16,965.40 L740.70,965.49 L741.24,965.58 L741.78,965.67 L742.32,965.76 L742.86,965.85 L743.40,965.93 L743.94,966.02 L744.48,966.10 L745.02,966.19 L745.56,966.27 L746.10,966.35 L746.64,966.44 L747.18,966.52 L747.72,966.60 L748.26,966.68 L748.80,966.75 L749.34,966.83 L749.88,966.91 L750.42,966.99 L750.60,967.01" fill="none" stroke="#ff0000" stroke-width="2" stroke-linejoin="round"/>
<circle cx="534.60" cy="976.50" r="3.80" fill="#ff0000"/>
<circle cx="542.41" cy="976.50" r="3.80" fill="#ff0000"/>
<circle cx="550.22" cy="976.50" r="3.80" fill="#ff0000"/>
<circle cx="558.04" cy="976.50" r="3.80" fill="#ff0000"/>
<circle cx="565.85" cy="976.50" r="3.80" fill="#ff0000"/>
<circle cx="573.66" cy="976.50" r="3.80" fill="#ff0000"/>
<circle cx="581.47" cy="976.50" r="3.80" fill="#ff0000"/>
<circle cx="589.28" cy="976.50" r="3.80" fill="#ff0000"/>
<circle cx="597.10" cy="976.50" r="3.80" fill="#ff0000"/>
<circle cx="604.91" cy="976.50" r="3.80" fill="#ff0000"/>
<circle cx="612.72" cy="916.80" r="3.80" fill="#ff0000"/>
<circle cx="620.53" cy="873.18" r="3.80" fill="#ff0000"/>
<circle cx="628.34" cy="843.52" r="3.80" fill="#ff0000"/>
<circle cx="636.16" cy="822.69" r="3.80" fill="#ff0000"/>
<circle cx="643.97" cy="807.54" r="3.80" fill="#ff0000"/>
<circle cx="651.78" cy="796.09" r="3.80" fill="#ff0000"/>
<circle cx="659.59" cy="787.13" r="3.80" fill="#ff0000"/>
<circle cx="667.40" cy="779.89" r="3.80" fill="#ff0000"/>
<circle cx="675.22" cy="773.89" r="3.80" fill="#ff0000"/>
<circle cx="683.03" cy="891.05" r="3.80" fill="#ff0000"/>
<circle cx="690.84" cy="933.51" r="3.80" fill="#ff0000"/>
<circle cx="698.65" cy="947.45" r="3.80" fill="#ff0000"/>
<circle cx="706.46" cy="954.65" r="3.80" fill="#ff0000"/>
<circle cx="714.28" cy="958.79" r="3.80" fill="#ff0000"/>
<circle cx="722.09" cy="961.47" r="3.80" fill="#ff0000"/>
<circle cx="729.90" cy="963.42" r="3.80" fill="#ff0000"/>
<circle cx="737.71" cy="964.97" r="3.80" fill="#ff0000"/>
<circle cx="745.52" cy="966.27" r="3.80" fill="#ff0000"/>
</g>
<rect x="534.60" y="759.50" width="216.00" height="226.90" fill="none" stroke="#000" stroke-width="2.8"/>
<line x1="534.60" y1="986.40" x2="534.60" y2="981.40" stroke="#000" stroke-width="2"/>
<line x1="552.60" y1="986.40" x2="552.60" y2="983.20" stroke="#000" stroke-width="2"/>
<line x1="570.60" y1="986.40" x2="570.60" y2="981.40" stroke="#000" stroke-width="2"/>
<line x1="588.60" y1="986.40" x2="588.60" y2="983.20" stroke="#000" stroke-width="2"/>
<line x1="606.60" y1="986.40" x2="606.60" y2="981.40" stroke="#000" stroke-width="2"/>
<line x1="624.60" y1="986.40" x2="624.60" y2="983.20" stroke="#000" stroke-width="2"/>
<line x1="642.60" y1="986.40" x2="642.60" y2="981.40" stroke="#000" stroke-width="2"/>
<line x1="660.60" y1="986.40" x2="660.60" y2="983.20" stroke="#000" stroke-width="2"/>
<line x1="678.60" y1="986.40" x2="678.60" y2="981.40" stroke="#000" stroke-width="2"/>
<line x1="696.60" y1="986.40" x2="696.60" y2="983.20" stroke="#000" stroke-width="2"/>
<line x1="714.60" y1="986.40" x2="714.60" y2="981.40" stroke="#000" stroke-width="2"/>
<line x1="732.60" y1="986.40" x2="732.60" y2="983.20" stroke="#000" stroke-width="2"/>
<line x1="750.60" y1="986.40" x2="750.60" y2="981.40" stroke="#000" stroke-width="2"/>
<line x1="534.60" y1="976.50" x2="539.60" y2="976.50" stroke="#000" stroke-width="2"/>
<line x1="534.60" y1="955.77" x2="537.80" y2="955.77" stroke="#000" stroke-width="2"/>
<line x1="534.60" y1="935.04" x2="539.60" y2="935.04" stroke="#000" stroke-width="2"/>
<line x1="534.60" y1="914.31" x2="537.80" y2="914.31" stroke="#000" stroke-width="2"/>
<line x1="534.60" y1="893.58" x2="539.60" y2="893.58" stroke="#000" stroke-width="2"/>
<line x1="534.60" y1="872.85" x2="537.80" y2="872.85" stroke="#000" stroke-width="2"/>
<line x1="534.60" y1="852.12" x2="539.60" y2="852.12" stroke="#000" stroke-width="2"/>
<line x1="534.60" y1="831.39" x2="537.80" y2="831.39" stroke="#000" stroke-width="2"/>
<line x1="534.60" y1="810.66" x2="539.60" y2="810.66" stroke="#000" stroke-width="2"/>
<line x1="534.60" y1="789.93" x2="537.80" y2="789.93" stroke="#000" stroke-width="2"/>
<line x1="534.60" y1="769.20" x2="539.60" y2="769.20" stroke="#000" stroke-width="2"/>
<text x="529.10" y="982.40" font-size="17" text-anchor="end" font-weight="normal" fill="#000" >0.0</text>
<text x="529.10" y="940.94" font-size="17" text-anchor="end" font-weight="normal" fill="#000" >0.2</text>
<text x="529.10" y="899.48" font-size="17" text-anchor="end" font-weight="normal" fill="#000" >0.4</text>
<text x="529.10" y="858.02" font-size="17" text-anchor="end" font-weight="normal" fill="#000" >0.6</text>
<text x="529.10" y="816.56" font-size="17" text-anchor="end" font-weight="normal" fill="#000" >0.8</text>
<text x="529.10" y="775.10" font-size="17" text-anchor="end" font-weight="normal" fill="#000" >1.0</text>
<text x="534.60" y="1006.60" font-size="17" text-anchor="middle" font-weight="normal" fill="#000" >0</text>
<text x="570.60" y="1006.60" font-size="17" text-anchor="middle" font-weight="normal" fill="#000" >5</text>
<text x="606.60" y="1006.60" font-size="17" text-anchor="middle" font-weight="normal" fill="#000" >10</text>
<text x="642.60" y="1006.60" font-size="17" text-anchor="middle" font-weight="normal" fill="#000" >15</text>
<text x="678.60" y="1006.60" font-size="17" text-anchor="middle" font-weight="normal" fill="#000" >20</text>
<text x="714.60" y="1006.60" font-size="17" text-anchor="middle" font-weight="normal" fill="#000" >25</text>
<text x="750.60" y="1006.60" font-size="17" text-anchor="middle" font-weight="normal" fill="#000" >30</text>
<text x="645.60" y="1023.80" font-size="18" text-anchor="middle" font-weight="bold" fill="#000" >Time (s)</text>
<text x="502.60" y="867.45" font-size="18" text-anchor="middle" font-weight="bold" fill="#000" transform="rotate(-90 502.60 867.45)">Current (a. u.)</text>
<text x="481.00" y="767.50" font-size="20" text-anchor="start" font-weight="normal" fill="#000" >(b)</text>
<text x="747.60" y="772.70" font-size="13" text-anchor="end" font-weight="bold" fill="#ff0000" >800°C</text>
<text x="552.60" y="784.70" font-size="14" text-anchor="start" font-weight="bold" fill="#1c6a84" >90%</text>
<text x="554.10" y="950.00" font-size="14" text-anchor="start" font-weight="bold" fill="#1c6a84" >10%</text>
<text x="700.80" y="841.50" font-size="14" text-anchor="start" font-weight="bold" fill="#000" >μW/cm<tspan dy="-6" font-size="9">2</tspan></text>
<line x1="699.30" y1="854.60" x2="726.10" y2="854.60" stroke="#ff7f0e" stroke-width="2.2"/>
<polygon points="716.70,854.60 709.90,850.80 709.90,858.40" fill="#ff7f0e"/>
<text x="728.80" y="859.40" font-size="14" text-anchor="start" font-weight="bold" fill="#000" >64</text>
<line x1="699.30" y1="872.05" x2="726.10" y2="872.05" stroke="#ff00ff" stroke-width="2.2"/>
<polygon points="708.70,872.05 715.50,868.25 715.50,875.85" fill="#ff00ff"/>
<text x="728.80" y="876.85" font-size="14" text-anchor="start" font-weight="bold" fill="#000" >49</text>
<line x1="699.30" y1="889.50" x2="726.10" y2="889.50" stroke="#0000ff" stroke-width="2.2"/>
<polygon points="712.70,893.50 708.90,886.70 716.50,886.70" fill="#0000ff"/>
<text x="728.80" y="894.30" font-size="14" text-anchor="start" font-weight="bold" fill="#000" >32</text>
<line x1="699.30" y1="906.95" x2="726.10" y2="906.95" stroke="#00ff00" stroke-width="2.2"/>
<polygon points="712.70,902.95 708.90,909.75 716.50,909.75" fill="#00ff00"/>
<text x="728.80" y="911.75" font-size="14" text-anchor="start" font-weight="bold" fill="#000" >17</text>
<line x1="699.30" y1="924.40" x2="726.10" y2="924.40" stroke="#ff0000" stroke-width="2.2"/>
<circle cx="712.70" cy="924.40" r="3.80" fill="#ff0000"/>
<text x="728.80" y="929.20" font-size="14" text-anchor="start" font-weight="bold" fill="#000" >3</text>
<line x1="808.50" y1="789.92" x2="1024.10" y2="789.92" stroke="#1c6a84" stroke-width="2" stroke-dasharray="5.6,4.2"/>
<line x1="808.50" y1="954.52" x2="1024.10" y2="954.52" stroke="#1c6a84" stroke-width="2" stroke-dasharray="5.6,4.2"/>
<clipPath id="clip808"><rect x="808.50" y="759.50" width="215.60" height="225.60"/></clipPath>
<g clip-path="url(#clip808)">
<path d="M808.50,975.10 L809.22,975.10 L809.94,975.10 L810.66,975.10 L811.37,975.10 L812.09,975.10 L812.81,975.10 L813.53,975.10 L814.25,975.10 L814.97,975.10 L815.69,975.10 L816.41,975.10 L817.12,975.10 L817.84,975.10 L818.56,975.10 L819.28,975.10 L820.00,975.10 L820.72,975.10 L821.44,975.10 L822.15,975.10 L822.87,975.10 L823.59,975.10 L824.31,975.10 L825.03,975.10 L825.75,975.10 L826.47,975.10 L827.19,975.10 L827.90,975.10 L828.62,975.10 L829.34,975.10 L830.06,975.10 L830.78,975.10 L831.50,975.10 L832.22,975.10 L832.93,975.10 L833.65,975.10 L834.37,975.10 L835.09,975.10 L835.81,975.10 L836.53,975.10 L837.25,975.10 L837.97,975.10 L838.68,975.10 L839.40,975.10 L840.12,975.10 L840.84,975.10 L841.56,975.10 L842.28,975.10 L843.00,975.10 L843.71,975.10 L844.43,975.10 L845.15,975.10 L845.87,975.10 L846.59,975.10 L847.31,975.10 L848.03,975.10 L848.75,975.10 L849.46,975.10 L850.18,975.10 L850.90,975.10 L851.62,975.10 L852.34,975.10 L853.06,975.10 L853.78,975.10 L854.49,975.10 L855.21,975.10 L855.93,975.10 L856.65,975.10 L857.37,975.10 L858.09,975.10 L858.81,975.10 L859.53,975.10 L860.24,975.10 L860.96,975.10 L861.68,975.10 L862.40,975.10 L863.12,975.10 L863.84,975.10 L864.56,975.10 L865.27,975.10 L865.99,975.10 L866.71,975.10 L867.43,975.10 L868.15,975.10 L868.87,975.10 L869.59,975.10 L870.31,975.10 L871.02,975.10 L871.74,975.10 L872.46,975.10 L873.18,975.10 L873.90,975.10 L874.62,975.10 L875.34,975.10 L875.52,953.81 L875.70,934.94 L875.88,918.20 L876.05,903.36 L876.23,890.18 L876.41,878.49 L876.59,868.10 L876.77,858.87 L876.95,850.66 L877.13,843.36 L877.31,836.86 L877.49,831.07 L877.67,825.91 L877.85,821.30 L878.03,817.18 L878.21,813.50 L878.39,810.21 L878.57,807.26 L878.75,804.61 L878.93,802.23 L879.11,800.09 L879.29,798.17 L879.47,796.43 L879.65,794.85 L879.83,793.43 L880.01,792.13 L880.19,790.95 L880.37,789.88 L880.55,788.90 L880.73,788.01 L880.91,787.18 L881.09,786.43 L881.26,785.73 L881.44,785.08 L881.62,784.48 L881.80,783.93 L881.98,783.41 L882.16,782.93 L882.34,782.47 L882.52,782.05 L882.88,781.27 L883.24,780.57 L883.60,779.95 L883.96,779.38 L884.32,778.86 L884.68,778.38 L885.04,777.93 L885.40,777.52 L885.76,777.13 L886.12,776.76 L886.48,776.42 L886.83,776.10 L887.19,775.79 L887.55,775.50 L887.91,775.22 L888.27,774.96 L888.63,774.71 L889.17,774.36 L889.71,774.03 L890.25,773.72 L890.79,773.44 L891.33,773.17 L891.87,772.92 L892.40,772.69 L892.94,772.47 L893.48,772.27 L894.02,772.08 L894.56,771.90 L895.10,771.74 L895.64,771.58 L896.18,771.44 L896.72,771.30 L897.26,771.17 L897.79,771.06 L898.33,770.94 L898.87,770.84 L899.41,770.74 L899.95,770.65 L900.49,770.57 L901.03,770.49 L901.57,770.42 L902.11,770.35 L902.65,770.28 L903.36,770.20 L904.08,770.13 L904.80,770.06 L905.52,770.00 L906.24,769.94 L906.96,769.89 L907.68,769.85 L908.39,769.80 L909.11,769.76 L909.83,769.73 L910.55,769.70 L911.27,769.67 L911.99,769.64 L912.71,769.61 L913.43,769.59 L914.14,769.57 L914.86,769.55 L915.58,769.53 L916.30,769.52 L917.02,769.50 L917.74,769.49 L918.46,769.48 L919.17,769.47 L919.89,769.46 L920.61,769.45 L921.33,769.44 L922.05,769.43 L922.77,769.42 L923.49,769.42 L924.21,769.41 L924.92,769.41 L925.64,769.40 L926.36,769.40 L927.08,769.39 L927.80,769.39 L928.52,769.38 L929.24,769.38 L929.95,769.38 L930.67,769.38 L931.39,769.37 L932.11,769.37 L932.83,769.37 L933.55,769.37 L934.27,769.37 L934.99,769.36 L935.70,769.36 L936.42,769.36 L937.14,769.36 L937.86,769.36 L938.58,769.36 L939.30,769.36 L940.02,769.36 L940.73,769.36 L941.45,769.35 L942.17,769.35 L942.89,769.35 L943.61,769.35 L944.33,769.35 L945.05,769.35 L945.77,769.35 L946.48,769.35 L947.20,769.35 L947.92,769.35 L948.64,769.35 L949.36,769.35 L949.54,863.49 L949.72,905.82 L949.90,925.55 L950.08,935.36 L950.26,940.79 L950.44,944.24 L950.62,946.75 L950.80,948.80 L950.98,950.58 L951.16,952.20 L951.33,953.68 L951.51,955.05 L951.69,956.34 L951.87,957.54 L952.05,958.66 L952.23,959.71 L952.41,960.69 L952.59,961.61 L952.77,962.48 L952.95,963.28 L953.13,964.04 L953.31,964.74 L953.49,965.41 L953.67,966.02 L953.85,966.60 L954.03,967.15 L954.21,967.65 L954.39,968.13 L954.57,968.58 L954.93,969.38 L955.29,970.09 L955.65,970.71 L956.01,971.25 L956.37,971.73 L956.72,972.14 L957.08,972.51 L957.44,972.83 L957.80,973.11 L958.16,973.36 L958.70,973.67 L959.24,973.93 L959.78,974.14 L960.32,974.31 L960.86,974.45 L961.40,974.57 L961.94,974.66 L962.47,974.74 L963.01,974.81 L963.73,974.87 L964.45,974.93 L965.17,974.97 L965.89,975.00 L966.61,975.02 L967.33,975.04 L968.04,975.05 L968.76,975.06 L969.48,975.07 L970.20,975.08 L970.92,975.08 L971.64,975.09 L972.36,975.09 L973.07,975.09 L973.79,975.09 L974.51,975.10 L975.23,975.10 L975.95,975.10 L976.67,975.10 L977.39,975.10 L978.11,975.10 L978.82,975.10 L979.54,975.10 L980.26,975.10 L980.98,975.10 L981.70,975.10 L982.42,975.10 L983.14,975.10 L983.85,975.10 L984.57,975.10 L985.29,975.10 L986.01,975.10 L986.73,975.10 L987.45,975.10 L988.17,975.10 L988.89,975.10 L989.60,975.10 L990.32,975.10 L991.04,975.10 L991.76,975.10 L992.48,975.10 L993.20,975.10 L993.92,975.10 L994.63,975.10 L995.35,975.10 L996.07,975.10 L996.79,975.10 L997.51,975.10 L998.23,975.10 L998.95,975.10 L999.67,975.10 L1000.38,975.10 L1001.10,975.10 L1001.82,975.10 L1002.54,975.10 L1003.26,975.10 L1003.98,975.10 L1004.70,975.10 L1005.41,975.10 L1006.13,975.10 L1006.85,975.10 L1007.57,975.10 L1008.29,975.10 L1009.01,975.10 L1009.73,975.10 L1010.45,975.10 L1011.16,975.10 L1011.88,975.10 L1012.60,975.10 L1013.32,975.10 L1014.04,975.10 L1014.76,975.10 L1015.48,975.10 L1016.19,975.10 L1016.91,975.10 L1017.63,975.10 L1018.35,975.10 L1019.07,975.10 L1019.79,975.10 L1020.51,975.10 L1021.23,975.10 L1021.94,975.10 L1022.66,975.10 L1023.38,975.10 L1024.10,975.10" fill="none" stroke="#ff7f0e" stroke-width="2" stroke-linejoin="round"/>
<polygon points="812.50,975.10 805.70,971.30 805.70,978.90" fill="#ff7f0e"/>
<polygon points="820.30,975.10 813.50,971.30 813.50,978.90" fill="#ff7f0e"/>
<polygon points="828.10,975.10 821.30,971.30 821.30,978.90" fill="#ff7f0e"/>
<polygon points="835.89,975.10 829.09,971.30 829.09,978.90" fill="#ff7f0e"/>
<polygon points="843.69,975.10 836.89,971.30 836.89,978.90" fill="#ff7f0e"/>
<polygon points="851.49,975.10 844.69,971.30 844.69,978.90" fill="#ff7f0e"/>
<polygon points="859.29,975.10 852.49,971.30 852.49,978.90" fill="#ff7f0e"/>
<polygon points="867.08,975.10 860.28,971.30 860.28,978.90" fill="#ff7f0e"/>
<polygon points="874.88,975.10 868.08,971.30 868.08,978.90" fill="#ff7f0e"/>
<polygon points="882.68,805.64 875.88,801.84 875.88,809.44" fill="#ff7f0e"/>
<polygon points="890.48,776.42 883.68,772.62 883.68,780.22" fill="#ff7f0e"/>
<polygon points="898.27,772.00 891.47,768.20 891.47,775.80" fill="#ff7f0e"/>
<polygon points="906.07,770.35 899.27,766.55 899.27,774.15" fill="#ff7f0e"/>
<polygon points="913.87,769.73 907.07,765.93 907.07,773.53" fill="#ff7f0e"/>
<polygon points="921.67,769.49 914.87,765.69 914.87,773.29" fill="#ff7f0e"/>
<polygon points="929.46,769.40 922.66,765.60 922.66,773.20" fill="#ff7f0e"/>
<polygon points="937.26,769.37 930.46,765.57 930.46,773.17" fill="#ff7f0e"/>
<polygon points="945.06,769.36 938.26,765.56 938.26,773.16" fill="#ff7f0e"/>
<polygon points="952.86,769.35 946.06,765.55 946.06,773.15" fill="#ff7f0e"/>
<polygon points="960.65,972.07 953.85,968.27 953.85,975.87" fill="#ff7f0e"/>
<polygon points="968.45,974.93 961.65,971.13 961.65,978.73" fill="#ff7f0e"/>
<polygon points="976.25,975.09 969.45,971.29 969.45,978.89" fill="#ff7f0e"/>
<polygon points="984.05,975.10 977.25,971.30 977.25,978.90" fill="#ff7f0e"/>
<polygon points="991.84,975.10 985.04,971.30 985.04,978.90" fill="#ff7f0e"/>
<polygon points="999.64,975.10 992.84,971.30 992.84,978.90" fill="#ff7f0e"/>
<polygon points="1007.44,975.10 1000.64,971.30 1000.64,978.90" fill="#ff7f0e"/>
<polygon points="1015.24,975.10 1008.44,971.30 1008.44,978.90" fill="#ff7f0e"/>
<polygon points="1023.03,975.10 1016.23,971.30 1016.23,978.90" fill="#ff7f0e"/>
<path d="M808.50,975.10 L809.22,975.10 L809.94,975.10 L810.66,975.10 L811.37,975.10 L812.09,975.10 L812.81,975.10 L813.53,975.10 L814.25,975.10 L814.97,975.10 L815.69,975.10 L816.41,975.10 L817.12,975.10 L817.84,975.10 L818.56,975.10 L819.28,975.10 L820.00,975.10 L820.72,975.10 L821.44,975.10 L822.15,975.10 L822.87,975.10 L823.59,975.10 L824.31,975.10 L825.03,975.10 L825.75,975.10 L826.47,975.10 L827.19,975.10 L827.90,975.10 L828.62,975.10 L829.34,975.10 L830.06,975.10 L830.78,975.10 L831.50,975.10 L832.22,975.10 L832.93,975.10 L833.65,975.10 L834.37,975.10 L835.09,975.10 L835.81,975.10 L836.53,975.10 L837.25,975.10 L837.97,975.10 L838.68,975.10 L839.40,975.10 L840.12,975.10 L840.84,975.10 L841.56,975.10 L842.28,975.10 L843.00,975.10 L843.71,975.10 L844.43,975.10 L845.15,975.10 L845.87,975.10 L846.59,975.10 L847.31,975.10 L848.03,975.10 L848.75,975.10 L849.46,975.10 L850.18,975.10 L850.90,975.10 L851.62,975.10 L852.34,975.10 L853.06,975.10 L853.78,975.10 L854.49,975.10 L855.21,975.10 L855.93,975.10 L856.65,975.10 L857.37,975.10 L858.09,975.10 L858.81,975.10 L859.53,975.10 L860.24,975.10 L860.96,975.10 L861.68,975.10 L862.40,975.10 L863.12,975.10 L863.84,975.10 L864.56,975.10 L865.27,975.10 L865.99,975.10 L866.71,975.10 L867.43,975.10 L868.15,975.10 L868.87,975.10 L869.59,975.10 L870.31,975.10 L871.02,975.10 L871.74,975.10 L872.46,975.10 L873.18,975.10 L873.90,975.10 L874.62,975.10 L875.34,975.10 L875.52,943.16 L875.70,917.04 L875.88,895.65 L876.05,878.13 L876.23,863.75 L876.41,851.94 L876.59,842.22 L876.77,834.20 L876.95,827.58 L877.13,822.10 L877.31,817.53 L877.49,813.73 L877.67,810.54 L877.85,807.86 L878.03,805.59 L878.21,803.65 L878.39,802.00 L878.57,800.57 L878.75,799.32 L878.93,798.23 L879.11,797.26 L879.29,796.40 L879.47,795.63 L879.65,794.92 L879.83,794.27 L880.01,793.68 L880.19,793.12 L880.37,792.60 L880.55,792.11 L880.73,791.65 L880.91,791.20 L881.09,790.78 L881.44,789.98 L881.80,789.23 L882.16,788.52 L882.52,787.85 L882.88,787.20 L883.24,786.59 L883.60,785.99 L883.96,785.42 L884.32,784.87 L884.68,784.34 L885.04,783.83 L885.40,783.34 L885.76,782.86 L886.12,782.40 L886.48,781.95 L886.83,781.52 L887.19,781.11 L887.55,780.71 L887.91,780.32 L888.27,779.95 L888.63,779.59 L888.99,779.24 L889.35,778.90 L889.71,778.58 L890.07,778.26 L890.43,777.96 L890.79,777.66 L891.15,777.38 L891.51,777.11 L891.87,776.84 L892.22,776.59 L892.58,776.34 L893.12,775.98 L893.66,775.65 L894.20,775.33 L894.74,775.02 L895.28,774.74 L895.82,774.46 L896.36,774.20 L896.90,773.96 L897.43,773.72 L897.97,773.50 L898.51,773.29 L899.05,773.09 L899.59,772.90 L900.13,772.72 L900.67,772.54 L901.21,772.38 L901.75,772.23 L902.29,772.08 L902.82,771.94 L903.36,771.81 L903.90,771.68 L904.44,771.56 L904.98,771.45 L905.52,771.34 L906.06,771.24 L906.60,771.14 L907.14,771.05 L907.68,770.96 L908.21,770.88 L908.75,770.80 L909.29,770.73 L909.83,770.66 L910.37,770.59 L910.91,770.52 L911.63,770.44 L912.35,770.37 L913.07,770.30 L913.78,770.23 L914.50,770.17 L915.22,770.11 L915.94,770.06 L916.66,770.01 L917.38,769.97 L918.10,769.92 L918.82,769.88 L919.53,769.85 L920.25,769.81 L920.97,769.78 L921.69,769.75 L922.41,769.72 L923.13,769.69 L923.85,769.67 L924.56,769.64 L925.28,769.62 L926.00,769.60 L926.72,769.58 L927.44,769.57 L928.16,769.55 L928.88,769.53 L929.60,769.52 L930.31,769.51 L931.03,769.49 L931.75,769.48 L932.47,769.47 L933.19,769.46 L933.91,769.45 L934.63,769.44 L935.34,769.43 L936.06,769.43 L936.78,769.42 L937.50,769.41 L938.22,769.41 L938.94,769.40 L939.66,769.40 L940.38,769.39 L941.09,769.39 L941.81,769.38 L942.53,769.38 L943.25,769.37 L943.97,769.37 L944.69,769.37 L945.41,769.36 L946.12,769.36 L946.84,769.36 L947.56,769.36 L948.28,769.35 L949.00,769.35 L949.54,812.34 L949.72,844.81 L949.90,869.41 L950.08,888.11 L950.26,902.40 L950.44,913.38 L950.62,921.87 L950.80,928.50 L950.98,933.72 L951.16,937.88 L951.33,941.24 L951.51,943.99 L951.69,946.27 L951.87,948.19 L952.05,949.84 L952.23,951.27 L952.41,952.54 L952.59,953.66 L952.77,954.68 L952.95,955.62 L953.13,956.48 L953.31,957.27 L953.49,958.02 L953.67,958.72 L953.85,959.38 L954.03,960.00 L954.21,960.59 L954.39,961.15 L954.57,961.69 L954.75,962.20 L954.93,962.68 L955.11,963.15 L955.29,963.59 L955.47,964.02 L955.83,964.81 L956.19,965.54 L956.55,966.21 L956.90,966.82 L957.26,967.38 L957.62,967.90 L957.98,968.37 L958.34,968.81 L958.70,969.20 L959.06,969.57 L959.42,969.91 L959.78,970.22 L960.14,970.50 L960.50,970.76 L961.04,971.11 L961.58,971.42 L962.12,971.70 L962.65,971.94 L963.19,972.15 L963.73,972.34 L964.27,972.51 L964.81,972.66 L965.35,972.79 L965.89,972.91 L966.43,973.01 L966.97,973.10 L967.50,973.19 L968.04,973.26 L968.58,973.32 L969.30,973.40 L970.02,973.47 L970.74,973.53 L971.46,973.58 L972.18,973.62 L972.89,973.66 L973.61,973.70 L974.33,973.73 L975.05,973.76 L975.77,973.79 L976.49,973.81 L977.21,973.83 L977.93,973.85 L978.64,973.87 L979.36,973.89 L980.08,973.91 L980.80,973.92 L981.52,973.94 L982.24,973.95 L982.96,973.97 L983.67,973.98 L984.39,973.99 L985.11,974.01 L985.83,974.02 L986.55,974.03 L987.27,974.04 L987.99,974.05 L988.71,974.07 L989.42,974.08 L990.14,974.09 L990.86,974.10 L991.58,974.11 L992.30,974.12 L993.02,974.13 L993.74,974.14 L994.45,974.15 L995.17,974.16 L995.89,974.17 L996.61,974.18 L997.33,974.19 L998.05,974.20 L998.77,974.21 L999.49,974.22 L1000.20,974.23 L1000.92,974.24 L1001.64,974.24 L1002.36,974.25 L1003.08,974.26 L1003.80,974.27 L1004.52,974.28 L1005.23,974.29 L1005.95,974.30 L1006.67,974.31 L1007.39,974.31 L1008.11,974.32 L1008.83,974.33 L1009.55,974.34 L1010.27,974.35 L1010.98,974.35 L1011.70,974.36 L1012.42,974.37 L1013.14,974.38 L1013.86,974.38 L1014.58,974.39 L1015.30,974.40 L1016.01,974.41 L1016.73,974.41 L1017.45,974.42 L1018.17,974.43 L1018.89,974.43 L1019.61,974.44 L1020.33,974.45 L1021.05,974.45 L1021.76,974.46 L1022.48,974.47 L1023.20,974.47 L1023.92,974.48 L1024.10,974.48" fill="none" stroke="#ff00ff" stroke-width="2" stroke-linejoin="round"/>
<polygon points="804.50,975.10 811.30,971.30 811.30,978.90" fill="#ff00ff"/>
<polygon points="812.30,975.10 819.10,971.30 819.10,978.90" fill="#ff00ff"/>
<polygon points="820.10,975.10 826.90,971.30 826.90,978.90" fill="#ff00ff"/>
<polygon points="827.89,975.10 834.69,971.30 834.69,978.90" fill="#ff00ff"/>
<polygon points="835.69,975.10 842.49,971.30 842.49,978.90" fill="#ff00ff"/>
<polygon points="843.49,975.10 850.29,971.30 850.29,978.90" fill="#ff00ff"/>
<polygon points="851.29,975.10 858.09,971.30 858.09,978.90" fill="#ff00ff"/>
<polygon points="859.08,975.10 865.88,971.30 865.88,978.90" fill="#ff00ff"/>
<polygon points="866.88,975.10 873.68,971.30 873.68,978.90" fill="#ff00ff"/>
<polygon points="874.68,799.80 881.48,796.00 881.48,803.60" fill="#ff00ff"/>
<polygon points="882.48,781.95 889.28,778.15 889.28,785.75" fill="#ff00ff"/>
<polygon points="890.27,775.29 897.07,771.49 897.07,779.09" fill="#ff00ff"/>
<polygon points="898.07,772.14 904.87,768.34 904.87,775.94" fill="#ff00ff"/>
<polygon points="905.87,770.65 912.67,766.85 912.67,774.45" fill="#ff00ff"/>
<polygon points="913.67,769.95 920.47,766.15 920.47,773.75" fill="#ff00ff"/>
<polygon points="921.46,769.62 928.26,765.82 928.26,773.42" fill="#ff00ff"/>
<polygon points="929.26,769.46 936.06,765.66 936.06,773.26" fill="#ff00ff"/>
<polygon points="937.06,769.39 943.86,765.59 943.86,773.19" fill="#ff00ff"/>
<polygon points="944.86,769.35 951.66,765.55 951.66,773.15" fill="#ff00ff"/>
<polygon points="952.65,966.40 959.45,962.60 959.45,970.20" fill="#ff00ff"/>
<polygon points="960.45,972.56 967.25,968.76 967.25,976.36" fill="#ff00ff"/>
<polygon points="968.25,973.63 975.05,969.83 975.05,977.43" fill="#ff00ff"/>
<polygon points="976.05,973.91 982.85,970.11 982.85,977.71" fill="#ff00ff"/>
<polygon points="983.84,974.05 990.64,970.25 990.64,977.85" fill="#ff00ff"/>
<polygon points="991.64,974.17 998.44,970.37 998.44,977.97" fill="#ff00ff"/>
<polygon points="999.44,974.27 1006.24,970.47 1006.24,978.07" fill="#ff00ff"/>
<polygon points="1007.24,974.36 1014.04,970.56 1014.04,978.16" fill="#ff00ff"/>
<polygon points="1015.03,974.44 1021.83,970.64 1021.83,978.24" fill="#ff00ff"/>
<path d="M808.50,975.10 L809.22,975.10 L809.94,975.10 L810.66,975.10 L811.37,975.10 L812.09,975.10 L812.81,975.10 L813.53,975.10 L814.25,975.10 L814.97,975.10 L815.69,975.10 L816.41,975.10 L817.12,975.10 L817.84,975.10 L818.56,975.10 L819.28,975.10 L820.00,975.10 L820.72,975.10 L821.44,975.10 L822.15,975.10 L822.87,975.10 L823.59,975.10 L824.31,975.10 L825.03,975.10 L825.75,975.10 L826.47,975.10 L827.19,975.10 L827.90,975.10 L828.62,975.10 L829.34,975.10 L830.06,975.10 L830.78,975.10 L831.50,975.10 L832.22,975.10 L832.93,975.10 L833.65,975.10 L834.37,975.10 L835.09,975.10 L835.81,975.10 L836.53,975.10 L837.25,975.10 L837.97,975.10 L838.68,975.10 L839.40,975.10 L840.12,975.10 L840.84,975.10 L841.56,975.10 L842.28,975.10 L843.00,975.10 L843.71,975.10 L844.43,975.10 L845.15,975.10 L845.87,975.10 L846.59,975.10 L847.31,975.10 L848.03,975.10 L848.75,975.10 L849.46,975.10 L850.18,975.10 L850.90,975.10 L851.62,975.10 L852.34,975.10 L853.06,975.10 L853.78,975.10 L854.49,975.10 L855.21,975.10 L855.93,975.10 L856.65,975.10 L857.37,975.10 L858.09,975.10 L858.81,975.10 L859.53,975.10 L860.24,975.10 L860.96,975.10 L861.68,975.10 L862.40,975.10 L863.12,975.10 L863.84,975.10 L864.56,975.10 L865.27,975.10 L865.99,975.10 L866.71,975.10 L867.43,975.10 L868.15,975.10 L868.87,975.10 L869.59,975.10 L870.31,975.10 L871.02,975.10 L871.74,975.10 L872.46,975.10 L873.18,975.10 L873.90,975.10 L874.62,975.10 L875.34,975.10 L875.88,961.71 L876.05,949.30 L876.23,937.82 L876.41,927.18 L876.59,917.32 L876.77,908.18 L876.95,899.71 L877.13,891.86 L877.31,884.59 L877.49,877.84 L877.67,871.58 L877.85,865.77 L878.03,860.38 L878.21,855.37 L878.39,850.72 L878.57,846.41 L878.75,842.39 L878.93,838.67 L879.11,835.20 L879.29,831.97 L879.47,828.97 L879.65,826.18 L879.83,823.57 L880.01,821.15 L880.19,818.88 L880.37,816.77 L880.55,814.80 L880.73,812.96 L880.91,811.24 L881.09,809.64 L881.26,808.13 L881.44,806.72 L881.62,805.40 L881.80,804.16 L881.98,803.00 L882.16,801.91 L882.34,800.88 L882.52,799.92 L882.70,799.01 L882.88,798.15 L883.06,797.34 L883.24,796.58 L883.42,795.86 L883.60,795.17 L883.78,794.53 L883.96,793.91 L884.14,793.33 L884.32,792.78 L884.50,792.25 L884.68,791.75 L884.86,791.27 L885.04,790.81 L885.22,790.37 L885.58,789.56 L885.94,788.80 L886.30,788.11 L886.65,787.46 L887.01,786.86 L887.37,786.30 L887.73,785.77 L888.09,785.28 L888.45,784.81 L888.81,784.36 L889.17,783.94 L889.53,783.53 L889.89,783.15 L890.25,782.78 L890.61,782.42 L890.97,782.08 L891.33,781.75 L891.69,781.43 L892.04,781.12 L892.40,780.82 L892.76,780.53 L893.12,780.25 L893.48,779.98 L893.84,779.72 L894.20,779.46 L894.56,779.21 L894.92,778.97 L895.46,778.62 L896.00,778.28 L896.54,777.95 L897.08,777.64 L897.61,777.34 L898.15,777.05 L898.69,776.77 L899.23,776.50 L899.77,776.24 L900.31,775.99 L900.85,775.75 L901.39,775.51 L901.93,775.29 L902.47,775.07 L903.00,774.86 L903.54,774.66 L904.08,774.46 L904.62,774.27 L905.16,774.09 L905.70,773.92 L906.24,773.75 L906.78,773.59 L907.32,773.43 L907.86,773.28 L908.39,773.13 L908.93,772.99 L909.47,772.85 L910.01,772.72 L910.55,772.59 L911.09,772.47 L911.63,772.35 L912.17,772.24 L912.71,772.13 L913.25,772.02 L913.78,771.92 L914.32,771.82 L914.86,771.72 L915.40,771.63 L915.94,771.54 L916.48,771.45 L917.02,771.37 L917.56,771.29 L918.10,771.21 L918.64,771.14 L919.17,771.07 L919.71,771.00 L920.25,770.93 L920.79,770.87 L921.33,770.80 L922.05,770.72 L922.77,770.65 L923.49,770.58 L924.21,770.51 L924.92,770.44 L925.64,770.38 L926.36,770.32 L927.08,770.26 L927.80,770.20 L928.52,770.15 L929.24,770.10 L929.95,770.06 L930.67,770.01 L931.39,769.97 L932.11,769.93 L932.83,769.89 L933.55,769.85 L934.27,769.81 L934.99,769.78 L935.70,769.75 L936.42,769.72 L937.14,769.69 L937.86,769.66 L938.58,769.63 L939.30,769.61 L940.02,769.58 L940.73,769.56 L941.45,769.54 L942.17,769.51 L942.89,769.49 L943.61,769.48 L944.33,769.46 L945.05,769.44 L945.77,769.42 L946.48,769.41 L947.20,769.39 L947.92,769.38 L948.64,769.36 L949.36,769.35 L949.54,811.40 L949.72,843.87 L949.90,868.96 L950.08,888.37 L950.26,903.40 L950.44,915.05 L950.62,924.10 L950.80,931.14 L950.98,936.64 L951.16,940.95 L951.33,944.33 L951.51,947.01 L951.69,949.14 L951.87,950.85 L952.05,952.23 L952.23,953.36 L952.41,954.29 L952.59,955.07 L952.77,955.73 L952.95,956.30 L953.13,956.79 L953.31,957.23 L953.67,957.99 L954.03,958.63 L954.39,959.20 L954.75,959.71 L955.11,960.19 L955.47,960.64 L955.83,961.07 L956.19,961.48 L956.55,961.87 L956.90,962.25 L957.26,962.61 L957.62,962.96 L957.98,963.30 L958.34,963.63 L958.70,963.94 L959.06,964.24 L959.42,964.53 L959.78,964.81 L960.14,965.08 L960.50,965.35 L960.86,965.60 L961.22,965.84 L961.76,966.19 L962.29,966.52 L962.83,966.84 L963.37,967.14 L963.91,967.42 L964.45,967.69 L964.99,967.94 L965.53,968.18 L966.07,968.41 L966.61,968.62 L967.15,968.83 L967.68,969.03 L968.22,969.21 L968.76,969.39 L969.30,969.55 L969.84,969.71 L970.38,969.86 L970.92,970.00 L971.46,970.14 L972.00,970.27 L972.54,970.39 L973.07,970.51 L973.61,970.62 L974.15,970.72 L974.69,970.82 L975.23,970.92 L975.77,971.01 L976.31,971.10 L976.85,971.18 L977.39,971.26 L977.93,971.33 L978.46,971.40 L979.00,971.47 L979.54,971.53 L980.08,971.59 L980.80,971.67 L981.52,971.75 L982.24,971.81 L982.96,971.88 L983.67,971.94 L984.39,972.00 L985.11,972.05 L985.83,972.10 L986.55,972.15 L987.27,972.20 L987.99,972.24 L988.71,972.28 L989.42,972.32 L990.14,972.36 L990.86,972.39 L991.58,972.43 L992.30,972.46 L993.02,972.49 L993.74,972.52 L994.45,972.54 L995.17,972.57 L995.89,972.60 L996.61,972.62 L997.33,972.64 L998.05,972.67 L998.77,972.69 L999.49,972.71 L1000.20,972.73 L1000.92,972.75 L1001.64,972.77 L1002.36,972.79 L1003.08,972.80 L1003.80,972.82 L1004.52,972.84 L1005.23,972.85 L1005.95,972.87 L1006.67,972.88 L1007.39,972.90 L1008.11,972.91 L1008.83,972.93 L1009.55,972.94 L1010.27,972.96 L1010.98,972.97 L1011.70,972.98 L1012.42,973.00 L1013.14,973.01 L1013.86,973.02 L1014.58,973.03 L1015.30,973.05 L1016.01,973.06 L1016.73,973.07 L1017.45,973.08 L1018.17,973.09 L1018.89,973.10 L1019.61,973.11 L1020.33,973.13 L1021.05,973.14 L1021.76,973.15 L1022.48,973.16 L1023.20,973.17 L1023.92,973.18 L1024.10,973.18" fill="none" stroke="#0000ff" stroke-width="2" stroke-linejoin="round"/>
<polygon points="808.50,979.10 804.70,972.30 812.30,972.30" fill="#0000ff"/>
<polygon points="816.30,979.10 812.50,972.30 820.10,972.30" fill="#0000ff"/>
<polygon points="824.10,979.10 820.30,972.30 827.90,972.30" fill="#0000ff"/>
<polygon points="831.89,979.10 828.09,972.30 835.69,972.30" fill="#0000ff"/>
<polygon points="839.69,979.10 835.89,972.30 843.49,972.30" fill="#0000ff"/>
<polygon points="847.49,979.10 843.69,972.30 851.29,972.30" fill="#0000ff"/>
<polygon points="855.29,979.10 851.49,972.30 859.09,972.30" fill="#0000ff"/>
<polygon points="863.08,979.10 859.28,972.30 866.88,972.30" fill="#0000ff"/>
<polygon points="870.88,979.10 867.08,972.30 874.68,972.30" fill="#0000ff"/>
<polygon points="878.68,847.96 874.88,841.16 882.48,841.16" fill="#0000ff"/>
<polygon points="886.48,791.78 882.68,784.98 890.28,784.98" fill="#0000ff"/>
<polygon points="894.27,783.41 890.47,776.61 898.07,776.61" fill="#0000ff"/>
<polygon points="902.07,779.23 898.27,772.43 905.87,772.43" fill="#0000ff"/>
<polygon points="909.87,776.75 906.07,769.95 913.67,769.95" fill="#0000ff"/>
<polygon points="917.67,775.28 913.87,768.48 921.47,768.48" fill="#0000ff"/>
<polygon points="925.46,774.39 921.66,767.59 929.26,767.59" fill="#0000ff"/>
<polygon points="933.26,773.86 929.46,767.06 937.06,767.06" fill="#0000ff"/>
<polygon points="941.06,773.55 937.26,766.75 944.86,766.75" fill="#0000ff"/>
<polygon points="948.86,773.36 945.06,766.56 952.66,766.56" fill="#0000ff"/>
<polygon points="956.65,965.99 952.85,959.19 960.45,959.19" fill="#0000ff"/>
<polygon points="964.45,971.69 960.65,964.89 968.25,964.89" fill="#0000ff"/>
<polygon points="972.25,974.33 968.45,967.53 976.05,967.53" fill="#0000ff"/>
<polygon points="980.05,975.59 976.25,968.79 983.85,968.79" fill="#0000ff"/>
<polygon points="987.84,976.23 984.04,969.43 991.64,969.43" fill="#0000ff"/>
<polygon points="995.64,976.59 991.84,969.79 999.44,969.79" fill="#0000ff"/>
<polygon points="1003.44,976.81 999.64,970.01 1007.24,970.01" fill="#0000ff"/>
<polygon points="1011.24,976.97 1007.44,970.17 1015.04,970.17" fill="#0000ff"/>
<polygon points="1019.03,977.11 1015.23,970.31 1022.83,970.31" fill="#0000ff"/>
<path d="M808.50,975.10 L809.22,975.10 L809.94,975.10 L810.66,975.10 L811.37,975.10 L812.09,975.10 L812.81,975.10 L813.53,975.10 L814.25,975.10 L814.97,975.10 L815.69,975.10 L816.41,975.10 L817.12,975.10 L817.84,975.10 L818.56,975.10 L819.28,975.10 L820.00,975.10 L820.72,975.10 L821.44,975.10 L822.15,975.10 L822.87,975.10 L823.59,975.10 L824.31,975.10 L825.03,975.10 L825.75,975.10 L826.47,975.10 L827.19,975.10 L827.90,975.10 L828.62,975.10 L829.34,975.10 L830.06,975.10 L830.78,975.10 L831.50,975.10 L832.22,975.10 L832.93,975.10 L833.65,975.10 L834.37,975.10 L835.09,975.10 L835.81,975.10 L836.53,975.10 L837.25,975.10 L837.97,975.10 L838.68,975.10 L839.40,975.10 L840.12,975.10 L840.84,975.10 L841.56,975.10 L842.28,975.10 L843.00,975.10 L843.71,975.10 L844.43,975.10 L845.15,975.10 L845.87,975.10 L846.59,975.10 L847.31,975.10 L848.03,975.10 L848.75,975.10 L849.46,975.10 L850.18,975.10 L850.90,975.10 L851.62,975.10 L852.34,975.10 L853.06,975.10 L853.78,975.10 L854.49,975.10 L855.21,975.10 L855.93,975.10 L856.65,975.10 L857.37,975.10 L858.09,975.10 L858.81,975.10 L859.53,975.10 L860.24,975.10 L860.96,975.10 L861.68,975.10 L862.40,975.10 L863.12,975.10 L863.84,975.10 L864.56,975.10 L865.27,975.10 L865.99,975.10 L866.71,975.10 L867.43,975.10 L868.15,975.10 L868.87,975.10 L869.59,975.10 L870.31,975.10 L871.02,975.10 L871.74,975.10 L872.46,975.10 L873.18,975.10 L873.90,975.10 L874.62,975.10 L875.34,975.10 L876.05,968.91 L876.23,961.51 L876.41,954.44 L876.59,947.70 L876.77,941.27 L876.95,935.14 L877.13,929.29 L877.31,923.70 L877.49,918.37 L877.67,913.28 L877.85,908.43 L878.03,903.79 L878.21,899.36 L878.39,895.13 L878.57,891.08 L878.75,887.22 L878.93,883.53 L879.11,880.00 L879.29,876.63 L879.47,873.40 L879.65,870.32 L879.83,867.37 L880.01,864.54 L880.19,861.84 L880.37,859.25 L880.55,856.78 L880.73,854.40 L880.91,852.13 L881.09,849.95 L881.26,847.86 L881.44,845.86 L881.62,843.94 L881.80,842.10 L881.98,840.33 L882.16,838.64 L882.34,837.01 L882.52,835.44 L882.70,833.94 L882.88,832.49 L883.06,831.11 L883.24,829.77 L883.42,828.48 L883.60,827.25 L883.78,826.05 L883.96,824.91 L884.14,823.80 L884.32,822.74 L884.50,821.71 L884.68,820.72 L884.86,819.76 L885.04,818.84 L885.22,817.94 L885.40,817.08 L885.58,816.25 L885.76,815.44 L885.94,814.66 L886.12,813.91 L886.30,813.18 L886.48,812.47 L886.65,811.78 L886.83,811.12 L887.01,810.47 L887.19,809.85 L887.37,809.24 L887.55,808.65 L887.73,808.07 L887.91,807.52 L888.09,806.97 L888.27,806.45 L888.45,805.93 L888.63,805.43 L888.81,804.94 L888.99,804.47 L889.17,804.01 L889.35,803.55 L889.53,803.11 L889.71,802.68 L889.89,802.26 L890.25,801.45 L890.61,800.67 L890.97,799.93 L891.33,799.22 L891.69,798.53 L892.04,797.87 L892.40,797.24 L892.76,796.63 L893.12,796.04 L893.48,795.47 L893.84,794.91 L894.20,794.38 L894.56,793.86 L894.92,793.36 L895.28,792.87 L895.64,792.39 L896.00,791.93 L896.36,791.48 L896.72,791.04 L897.08,790.61 L897.43,790.19 L897.79,789.78 L898.15,789.39 L898.51,789.00 L898.87,788.62 L899.23,788.24 L899.59,787.88 L899.95,787.52 L900.31,787.17 L900.67,786.83 L901.03,786.50 L901.39,786.17 L901.75,785.85 L902.11,785.53 L902.47,785.22 L902.82,784.92 L903.18,784.62 L903.54,784.33 L903.90,784.04 L904.26,783.76 L904.62,783.49 L904.98,783.22 L905.34,782.95 L905.70,782.69 L906.06,782.43 L906.42,782.18 L906.78,781.93 L907.14,781.69 L907.68,781.33 L908.21,780.98 L908.75,780.65 L909.29,780.32 L909.83,779.99 L910.37,779.68 L910.91,779.38 L911.45,779.08 L911.99,778.79 L912.53,778.51 L913.07,778.23 L913.61,777.96 L914.14,777.70 L914.68,777.45 L915.22,777.20 L915.76,776.96 L916.30,776.72 L916.84,776.49 L917.38,776.27 L917.92,776.05 L918.46,775.84 L919.00,775.63 L919.53,775.43 L920.07,775.23 L920.61,775.04 L921.15,774.85 L921.69,774.67 L922.23,774.49 L922.77,774.32 L923.31,774.15 L923.85,773.98 L924.38,773.82 L924.92,773.67 L925.46,773.51 L926.00,773.37 L926.54,773.22 L927.08,773.08 L927.62,772.94 L928.16,772.81 L928.70,772.68 L929.24,772.55 L929.77,772.42 L930.31,772.30 L930.85,772.18 L931.39,772.07 L931.93,771.95 L932.47,771.85 L933.01,771.74 L933.55,771.63 L934.09,771.53 L934.63,771.43 L935.16,771.34 L935.70,771.24 L936.24,771.15 L936.78,771.06 L937.32,770.97 L937.86,770.89 L938.40,770.81 L938.94,770.72 L939.48,770.65 L940.02,770.57 L940.55,770.49 L941.09,770.42 L941.63,770.35 L942.17,770.28 L942.71,770.21 L943.25,770.15 L943.79,770.08 L944.33,770.02 L944.87,769.96 L945.59,769.88 L946.30,769.80 L947.02,769.73 L947.74,769.66 L948.46,769.59 L949.18,769.52 L949.90,769.46 L950.62,769.40 L951.33,798.13 L951.51,821.35 L951.69,840.13 L951.87,855.38 L952.05,867.81 L952.23,877.99 L952.41,886.37 L952.59,893.31 L952.77,899.09 L952.95,903.95 L953.13,908.07 L953.31,911.59 L953.49,914.63 L953.67,917.28 L953.85,919.61 L954.03,921.68 L954.21,923.53 L954.39,925.22 L954.57,926.76 L954.75,928.17 L954.93,929.49 L955.11,930.72 L955.29,931.87 L955.47,932.96 L955.65,934.00 L955.83,934.99 L956.01,935.93 L956.19,936.83 L956.37,937.70 L956.55,938.53 L956.72,939.34 L956.90,940.11 L957.08,940.87 L957.26,941.59 L957.44,942.30 L957.62,942.98 L957.80,943.64 L957.98,944.28 L958.16,944.90 L958.34,945.50 L958.52,946.08 L958.70,946.65 L958.88,947.20 L959.06,947.74 L959.24,948.26 L959.42,948.76 L959.60,949.25 L959.78,949.73 L959.96,950.19 L960.14,950.64 L960.32,951.08 L960.50,951.51 L960.86,952.32 L961.22,953.09 L961.58,953.82 L961.94,954.51 L962.29,955.16 L962.65,955.77 L963.01,956.35 L963.37,956.90 L963.73,957.42 L964.09,957.91 L964.45,958.38 L964.81,958.82 L965.17,959.24 L965.53,959.63 L965.89,960.01 L966.25,960.36 L966.61,960.70 L966.97,961.02 L967.33,961.32 L967.68,961.61 L968.04,961.88 L968.40,962.14 L968.76,962.38 L969.30,962.73 L969.84,963.05 L970.38,963.35 L970.92,963.63 L971.46,963.88 L972.00,964.12 L972.54,964.35 L973.07,964.56 L973.61,964.75 L974.15,964.93 L974.69,965.10 L975.23,965.26 L975.77,965.42 L976.31,965.56 L976.85,965.69 L977.39,965.82 L977.93,965.94 L978.46,966.05 L979.00,966.16 L979.54,966.26 L980.08,966.36 L980.62,966.45 L981.16,966.54 L981.70,966.63 L982.24,966.71 L982.78,966.79 L983.32,966.86 L983.85,966.94 L984.39,967.01 L984.93,967.08 L985.47,967.14 L986.01,967.21 L986.55,967.27 L987.27,967.35 L987.99,967.43 L988.71,967.50 L989.42,967.57 L990.14,967.65 L990.86,967.71 L991.58,967.78 L992.30,967.85 L993.02,967.91 L993.74,967.97 L994.45,968.04 L995.17,968.10 L995.89,968.16 L996.61,968.22 L997.33,968.27 L998.05,968.33 L998.77,968.39 L999.49,968.44 L1000.20,968.50 L1000.92,968.55 L1001.64,968.60 L1002.36,968.66 L1003.08,968.71 L1003.80,968.76 L1004.52,968.81 L1005.23,968.86 L1005.95,968.91 L1006.67,968.96 L1007.39,969.01 L1008.11,969.06 L1008.83,969.11 L1009.55,969.15 L1010.27,969.20 L1010.98,969.25 L1011.70,969.29 L1012.42,969.34 L1013.14,969.39 L1013.86,969.43 L1014.58,969.48 L1015.30,969.52 L1016.01,969.57 L1016.73,969.61 L1017.45,969.65 L1018.17,969.70 L1018.89,969.74 L1019.61,969.78 L1020.33,969.82 L1021.05,969.86 L1021.76,969.91 L1022.48,969.95 L1023.20,969.99 L1023.92,970.03 L1024.10,970.04" fill="none" stroke="#00ff00" stroke-width="2" stroke-linejoin="round"/>
<polygon points="808.50,971.10 804.70,977.90 812.30,977.90" fill="#00ff00"/>
<polygon points="816.30,971.10 812.50,977.90 820.10,977.90" fill="#00ff00"/>
<polygon points="824.10,971.10 820.30,977.90 827.90,977.90" fill="#00ff00"/>
<polygon points="831.89,971.10 828.09,977.90 835.69,977.90" fill="#00ff00"/>
<polygon points="839.69,971.10 835.89,977.90 843.49,977.90" fill="#00ff00"/>
<polygon points="847.49,971.10 843.69,977.90 851.29,977.90" fill="#00ff00"/>
<polygon points="855.29,971.10 851.49,977.90 859.09,977.90" fill="#00ff00"/>
<polygon points="863.08,971.10 859.28,977.90 866.88,977.90" fill="#00ff00"/>
<polygon points="870.88,971.10 867.08,977.90 874.68,977.90" fill="#00ff00"/>
<polygon points="878.68,884.75 874.88,891.55 882.48,891.55" fill="#00ff00"/>
<polygon points="886.48,808.47 882.68,815.27 890.28,815.27" fill="#00ff00"/>
<polygon points="894.27,790.27 890.47,797.07 898.07,797.07" fill="#00ff00"/>
<polygon points="902.07,781.56 898.27,788.36 905.87,788.36" fill="#00ff00"/>
<polygon points="909.87,775.97 906.07,782.77 913.67,782.77" fill="#00ff00"/>
<polygon points="917.67,772.15 913.87,778.95 921.47,778.95" fill="#00ff00"/>
<polygon points="925.46,769.51 921.66,776.31 929.26,776.31" fill="#00ff00"/>
<polygon points="933.26,767.69 929.46,774.49 937.06,774.49" fill="#00ff00"/>
<polygon points="941.06,766.43 937.26,773.23 944.86,773.23" fill="#00ff00"/>
<polygon points="948.86,765.55 945.06,772.35 952.66,772.35" fill="#00ff00"/>
<polygon points="956.65,935.02 952.85,941.82 960.45,941.82" fill="#00ff00"/>
<polygon points="964.45,954.38 960.65,961.18 968.25,961.18" fill="#00ff00"/>
<polygon points="972.25,960.23 968.45,967.03 976.05,967.03" fill="#00ff00"/>
<polygon points="980.05,962.35 976.25,969.15 983.85,969.15" fill="#00ff00"/>
<polygon points="987.84,963.41 984.04,970.21 991.64,970.21" fill="#00ff00"/>
<polygon points="995.64,964.14 991.84,970.94 999.44,970.94" fill="#00ff00"/>
<polygon points="1003.44,964.73 999.64,971.53 1007.24,971.53" fill="#00ff00"/>
<polygon points="1011.24,965.26 1007.44,972.06 1015.04,972.06" fill="#00ff00"/>
<polygon points="1019.03,965.75 1015.23,972.55 1022.83,972.55" fill="#00ff00"/>
<path d="M808.50,975.10 L809.22,975.10 L809.94,975.10 L810.66,975.10 L811.37,975.10 L812.09,975.10 L812.81,975.10 L813.53,975.10 L814.25,975.10 L814.97,975.10 L815.69,975.10 L816.41,975.10 L817.12,975.10 L817.84,975.10 L818.56,975.10 L819.28,975.10 L820.00,975.10 L820.72,975.10 L821.44,975.10 L822.15,975.10 L822.87,975.10 L823.59,975.10 L824.31,975.10 L825.03,975.10 L825.75,975.10 L826.47,975.10 L827.19,975.10 L827.90,975.10 L828.62,975.10 L829.34,975.10 L830.06,975.10 L830.78,975.10 L831.50,975.10 L832.22,975.10 L832.93,975.10 L833.65,975.10 L834.37,975.10 L835.09,975.10 L835.81,975.10 L836.53,975.10 L837.25,975.10 L837.97,975.10 L838.68,975.10 L839.40,975.10 L840.12,975.10 L840.84,975.10 L841.56,975.10 L842.28,975.10 L843.00,975.10 L843.71,975.10 L844.43,975.10 L845.15,975.10 L845.87,975.10 L846.59,975.10 L847.31,975.10 L848.03,975.10 L848.75,975.10 L849.46,975.10 L850.18,975.10 L850.90,975.10 L851.62,975.10 L852.34,975.10 L853.06,975.10 L853.78,975.10 L854.49,975.10 L855.21,975.10 L855.93,975.10 L856.65,975.10 L857.37,975.10 L858.09,975.10 L858.81,975.10 L859.53,975.10 L860.24,975.10 L860.96,975.10 L861.68,975.10 L862.40,975.10 L863.12,975.10 L863.84,975.10 L864.56,975.10 L865.27,975.10 L865.99,975.10 L866.71,975.10 L867.43,975.10 L868.15,975.10 L868.87,975.10 L869.59,975.10 L870.31,975.10 L871.02,975.10 L871.74,975.10 L872.46,975.10 L873.18,975.10 L873.90,975.10 L874.62,975.10 L875.34,975.10 L876.05,975.10 L876.77,975.10 L877.49,975.10 L878.03,973.45 L878.21,970.75 L878.39,968.09 L878.57,965.48 L878.75,962.91 L878.93,960.39 L879.11,957.91 L879.29,955.48 L879.47,953.08 L879.65,950.73 L879.83,948.42 L880.01,946.14 L880.19,943.91 L880.37,941.71 L880.55,939.55 L880.73,937.43 L880.91,935.34 L881.09,933.29 L881.26,931.27 L881.44,929.28 L881.62,927.33 L881.80,925.41 L881.98,923.52 L882.16,921.67 L882.34,919.84 L882.52,918.05 L882.70,916.28 L882.88,914.54 L883.06,912.83 L883.24,911.15 L883.42,909.50 L883.60,907.87 L883.78,906.27 L883.96,904.69 L884.14,903.14 L884.32,901.61 L884.50,900.11 L884.68,898.63 L884.86,897.18 L885.04,895.75 L885.22,894.34 L885.40,892.95 L885.58,891.59 L885.76,890.24 L885.94,888.92 L886.12,887.61 L886.30,886.33 L886.48,885.07 L886.65,883.82 L886.83,882.60 L887.01,881.39 L887.19,880.20 L887.37,879.03 L887.55,877.88 L887.73,876.74 L887.91,875.62 L888.09,874.52 L888.27,873.43 L888.45,872.36 L888.63,871.30 L888.81,870.26 L888.99,869.24 L889.17,868.23 L889.35,867.23 L889.53,866.25 L889.71,865.29 L889.89,864.33 L890.07,863.39 L890.25,862.47 L890.43,861.55 L890.61,860.65 L890.79,859.76 L890.97,858.89 L891.15,858.02 L891.33,857.17 L891.51,856.33 L891.69,855.50 L891.87,854.68 L892.04,853.87 L892.22,853.08 L892.40,852.29 L892.58,851.52 L892.76,850.75 L892.94,850.00 L893.12,849.25 L893.30,848.52 L893.48,847.79 L893.66,847.07 L893.84,846.37 L894.02,845.67 L894.20,844.98 L894.38,844.30 L894.56,843.63 L894.74,842.96 L894.92,842.31 L895.10,841.66 L895.28,841.02 L895.46,840.39 L895.64,839.76 L895.82,839.15 L896.00,838.54 L896.18,837.94 L896.36,837.34 L896.54,836.75 L896.72,836.17 L896.90,835.60 L897.08,835.03 L897.26,834.47 L897.43,833.92 L897.61,833.37 L897.79,832.83 L897.97,832.29 L898.15,831.76 L898.33,831.24 L898.51,830.72 L898.69,830.21 L898.87,829.71 L899.05,829.20 L899.23,828.71 L899.41,828.22 L899.59,827.73 L899.77,827.26 L899.95,826.78 L900.13,826.31 L900.31,825.85 L900.49,825.39 L900.67,824.93 L900.85,824.48 L901.03,824.04 L901.21,823.60 L901.39,823.16 L901.57,822.73 L901.75,822.30 L901.93,821.88 L902.29,821.04 L902.65,820.23 L903.00,819.42 L903.36,818.64 L903.72,817.86 L904.08,817.11 L904.44,816.36 L904.80,815.63 L905.16,814.92 L905.52,814.21 L905.88,813.52 L906.24,812.84 L906.60,812.17 L906.96,811.51 L907.32,810.87 L907.68,810.23 L908.04,809.60 L908.39,808.99 L908.75,808.38 L909.11,807.79 L909.47,807.20 L909.83,806.62 L910.19,806.06 L910.55,805.50 L910.91,804.94 L911.27,804.40 L911.63,803.86 L911.99,803.34 L912.35,802.81 L912.71,802.30 L913.07,801.80 L913.43,801.30 L913.78,800.80 L914.14,800.32 L914.50,799.84 L914.86,799.37 L915.22,798.90 L915.58,798.44 L915.94,797.98 L916.30,797.54 L916.66,797.09 L917.02,796.65 L917.38,796.22 L917.74,795.80 L918.10,795.37 L918.46,794.96 L918.82,794.55 L919.17,794.14 L919.53,793.74 L919.89,793.34 L920.25,792.95 L920.61,792.56 L920.97,792.18 L921.33,791.80 L921.69,791.42 L922.05,791.05 L922.41,790.68 L922.77,790.32 L923.13,789.96 L923.49,789.61 L923.85,789.26 L924.21,788.91 L924.56,788.57 L924.92,788.23 L925.28,787.89 L925.64,787.56 L926.00,787.23 L926.36,786.90 L926.72,786.58 L927.08,786.26 L927.44,785.94 L927.80,785.63 L928.16,785.32 L928.52,785.01 L928.88,784.71 L929.24,784.41 L929.60,784.11 L929.95,783.82 L930.31,783.53 L930.67,783.24 L931.03,782.95 L931.39,782.67 L931.75,782.39 L932.11,782.11 L932.47,781.83 L932.83,781.56 L933.19,781.29 L933.55,781.03 L933.91,780.76 L934.27,780.50 L934.63,780.24 L934.99,779.98 L935.34,779.73 L935.70,779.47 L936.06,779.22 L936.42,778.97 L936.78,778.73 L937.14,778.48 L937.50,778.24 L938.04,777.89 L938.58,777.53 L939.12,777.18 L939.66,776.84 L940.20,776.50 L940.73,776.17 L941.27,775.84 L941.81,775.51 L942.35,775.19 L942.89,774.88 L943.43,774.56 L943.97,774.26 L944.51,773.95 L945.05,773.65 L945.59,773.36 L946.12,773.06 L946.66,772.77 L947.20,772.49 L947.74,772.21 L948.28,771.93 L948.82,771.66 L949.36,771.39 L949.90,771.12 L950.44,770.86 L950.98,770.60 L951.51,770.34 L952.05,770.09 L952.59,769.84 L953.13,769.59 L953.67,769.35 L953.85,781.02 L954.03,791.72 L954.21,801.53 L954.39,810.52 L954.57,818.77 L954.75,826.35 L954.93,833.31 L955.11,839.70 L955.29,845.59 L955.47,851.01 L955.65,856.00 L955.83,860.60 L956.01,864.85 L956.19,868.77 L956.37,872.40 L956.55,875.76 L956.72,878.87 L956.90,881.75 L957.08,884.43 L957.26,886.92 L957.44,889.24 L957.62,891.40 L957.80,893.41 L957.98,895.30 L958.16,897.06 L958.34,898.72 L958.52,900.27 L958.70,901.73 L958.88,903.11 L959.06,904.40 L959.24,905.63 L959.42,906.79 L959.60,907.89 L959.78,908.93 L959.96,909.93 L960.14,910.88 L960.32,911.78 L960.50,912.64 L960.68,913.47 L960.86,914.26 L961.04,915.02 L961.22,915.75 L961.40,916.46 L961.58,917.14 L961.76,917.79 L961.94,918.43 L962.12,919.04 L962.29,919.64 L962.47,920.22 L962.65,920.78 L962.83,921.33 L963.01,921.86 L963.19,922.38 L963.37,922.88 L963.55,923.38 L963.73,923.86 L963.91,924.33 L964.09,924.80 L964.27,925.25 L964.45,925.69 L964.63,926.13 L964.81,926.55 L965.17,927.38 L965.53,928.19 L965.89,928.96 L966.25,929.71 L966.61,930.44 L966.97,931.15 L967.33,931.84 L967.68,932.50 L968.04,933.15 L968.40,933.79 L968.76,934.40 L969.12,935.01 L969.48,935.59 L969.84,936.17 L970.20,936.73 L970.56,937.27 L970.92,937.81 L971.28,938.33 L971.64,938.83 L972.00,939.33 L972.36,939.82 L972.72,940.29 L973.07,940.76 L973.43,941.21 L973.79,941.66 L974.15,942.09 L974.51,942.52 L974.87,942.93 L975.23,943.34 L975.59,943.74 L975.95,944.13 L976.31,944.51 L976.67,944.88 L977.03,945.25 L977.39,945.61 L977.75,945.96 L978.11,946.30 L978.46,946.64 L978.82,946.97 L979.18,947.29 L979.54,947.61 L979.90,947.91 L980.26,948.22 L980.62,948.52 L980.98,948.81 L981.34,949.09 L981.70,949.37 L982.06,949.65 L982.42,949.92 L982.78,950.18 L983.14,950.44 L983.50,950.69 L983.85,950.94 L984.21,951.19 L984.75,951.54 L985.29,951.89 L985.83,952.23 L986.37,952.56 L986.91,952.88 L987.45,953.19 L987.99,953.49 L988.53,953.79 L989.06,954.07 L989.60,954.35 L990.14,954.63 L990.68,954.89 L991.22,955.15 L991.76,955.40 L992.30,955.65 L992.84,955.89 L993.38,956.12 L993.92,956.35 L994.45,956.58 L994.99,956.79 L995.53,957.01 L996.07,957.22 L996.61,957.42 L997.15,957.62 L997.69,957.81 L998.23,958.00 L998.77,958.19 L999.31,958.37 L999.84,958.55 L1000.38,958.73 L1000.92,958.90 L1001.46,959.06 L1002.00,959.23 L1002.54,959.39 L1003.08,959.55 L1003.62,959.70 L1004.16,959.86 L1004.70,960.01 L1005.23,960.15 L1005.77,960.30 L1006.31,960.44 L1006.85,960.58 L1007.39,960.71 L1007.93,960.85 L1008.47,960.98 L1009.01,961.11 L1009.55,961.24 L1010.09,961.36 L1010.62,961.48 L1011.16,961.61 L1011.70,961.73 L1012.24,961.84 L1012.78,961.96 L1013.32,962.07 L1013.86,962.19 L1014.40,962.30 L1014.94,962.41 L1015.48,962.51 L1016.01,962.62 L1016.55,962.72 L1017.09,962.83 L1017.63,962.93 L1018.17,963.03 L1018.71,963.13 L1019.25,963.23 L1019.79,963.32 L1020.33,963.42 L1020.87,963.51 L1021.40,963.60 L1021.94,963.70 L1022.48,963.79 L1023.02,963.88 L1023.56,963.97 L1024.10,964.05" fill="none" stroke="#ff0000" stroke-width="2" stroke-linejoin="round"/>
<circle cx="808.50" cy="975.10" r="3.80" fill="#ff0000"/>
<circle cx="816.30" cy="975.10" r="3.80" fill="#ff0000"/>
<circle cx="824.10" cy="975.10" r="3.80" fill="#ff0000"/>
<circle cx="831.89" cy="975.10" r="3.80" fill="#ff0000"/>
<circle cx="839.69" cy="975.10" r="3.80" fill="#ff0000"/>
<circle cx="847.49" cy="975.10" r="3.80" fill="#ff0000"/>
<circle cx="855.29" cy="975.10" r="3.80" fill="#ff0000"/>
<circle cx="863.08" cy="975.10" r="3.80" fill="#ff0000"/>
<circle cx="870.88" cy="975.10" r="3.80" fill="#ff0000"/>
<circle cx="878.68" cy="963.93" r="3.80" fill="#ff0000"/>
<circle cx="886.48" cy="885.07" r="3.80" fill="#ff0000"/>
<circle cx="894.27" cy="844.71" r="3.80" fill="#ff0000"/>
<circle cx="902.07" cy="821.54" r="3.80" fill="#ff0000"/>
<circle cx="909.87" cy="806.57" r="3.80" fill="#ff0000"/>
<circle cx="917.67" cy="795.88" r="3.80" fill="#ff0000"/>
<circle cx="925.46" cy="787.72" r="3.80" fill="#ff0000"/>
<circle cx="933.26" cy="781.24" r="3.80" fill="#ff0000"/>
<circle cx="941.06" cy="775.97" r="3.80" fill="#ff0000"/>
<circle cx="948.86" cy="771.64" r="3.80" fill="#ff0000"/>
<circle cx="956.65" cy="877.65" r="3.80" fill="#ff0000"/>
<circle cx="964.45" cy="925.69" r="3.80" fill="#ff0000"/>
<circle cx="972.25" cy="939.67" r="3.80" fill="#ff0000"/>
<circle cx="980.05" cy="948.04" r="3.80" fill="#ff0000"/>
<circle cx="987.84" cy="953.41" r="3.80" fill="#ff0000"/>
<circle cx="995.64" cy="957.05" r="3.80" fill="#ff0000"/>
<circle cx="1003.44" cy="959.65" r="3.80" fill="#ff0000"/>
<circle cx="1011.24" cy="961.62" r="3.80" fill="#ff0000"/>
<circle cx="1019.03" cy="963.19" r="3.80" fill="#ff0000"/>
</g>
<rect x="808.50" y="759.50" width="215.60" height="225.60" fill="none" stroke="#000" stroke-width="2.8"/>
<line x1="808.50" y1="985.10" x2="808.50" y2="980.10" stroke="#000" stroke-width="2"/>
<line x1="826.47" y1="985.10" x2="826.47" y2="981.90" stroke="#000" stroke-width="2"/>
<line x1="844.43" y1="985.10" x2="844.43" y2="980.10" stroke="#000" stroke-width="2"/>
<line x1="862.40" y1="985.10" x2="862.40" y2="981.90" stroke="#000" stroke-width="2"/>
<line x1="880.37" y1="985.10" x2="880.37" y2="980.10" stroke="#000" stroke-width="2"/>
<line x1="898.33" y1="985.10" x2="898.33" y2="981.90" stroke="#000" stroke-width="2"/>
<line x1="916.30" y1="985.10" x2="916.30" y2="980.10" stroke="#000" stroke-width="2"/>
<line x1="934.27" y1="985.10" x2="934.27" y2="981.90" stroke="#000" stroke-width="2"/>
<line x1="952.23" y1="985.10" x2="952.23" y2="980.10" stroke="#000" stroke-width="2"/>
<line x1="970.20" y1="985.10" x2="970.20" y2="981.90" stroke="#000" stroke-width="2"/>
<line x1="988.17" y1="985.10" x2="988.17" y2="980.10" stroke="#000" stroke-width="2"/>
<line x1="1006.13" y1="985.10" x2="1006.13" y2="981.90" stroke="#000" stroke-width="2"/>
<line x1="1024.10" y1="985.10" x2="1024.10" y2="980.10" stroke="#000" stroke-width="2"/>
<line x1="808.50" y1="975.10" x2="813.50" y2="975.10" stroke="#000" stroke-width="2"/>
<line x1="808.50" y1="954.52" x2="811.70" y2="954.52" stroke="#000" stroke-width="2"/>
<line x1="808.50" y1="933.95" x2="813.50" y2="933.95" stroke="#000" stroke-width="2"/>
<line x1="808.50" y1="913.38" x2="811.70" y2="913.38" stroke="#000" stroke-width="2"/>
<line x1="808.50" y1="892.80" x2="813.50" y2="892.80" stroke="#000" stroke-width="2"/>
<line x1="808.50" y1="872.23" x2="811.70" y2="872.23" stroke="#000" stroke-width="2"/>
<line x1="808.50" y1="851.65" x2="813.50" y2="851.65" stroke="#000" stroke-width="2"/>
<line x1="808.50" y1="831.08" x2="811.70" y2="831.08" stroke="#000" stroke-width="2"/>
<line x1="808.50" y1="810.50" x2="813.50" y2="810.50" stroke="#000" stroke-width="2"/>
<line x1="808.50" y1="789.92" x2="811.70" y2="789.92" stroke="#000" stroke-width="2"/>
<line x1="808.50" y1="769.35" x2="813.50" y2="769.35" stroke="#000" stroke-width="2"/>
<text x="803.00" y="981.00" font-size="17" text-anchor="end" font-weight="normal" fill="#000" >0.0</text>
<text x="803.00" y="939.85" font-size="17" text-anchor="end" font-weight="normal" fill="#000" >0.2</text>
<text x="803.00" y="898.70" font-size="17" text-anchor="end" font-weight="normal" fill="#000" >0.4</text>
<text x="803.00" y="857.55" font-size="17" text-anchor="end" font-weight="normal" fill="#000" >0.6</text>
<text x="803.00" y="816.40" font-size="17" text-anchor="end" font-weight="normal" fill="#000" >0.8</text>
<text x="803.00" y="775.25" font-size="17" text-anchor="end" font-weight="normal" fill="#000" >1.0</text>
<text x="808.50" y="1006.60" font-size="17" text-anchor="middle" font-weight="normal" fill="#000" >0</text>
<text x="844.43" y="1006.60" font-size="17" text-anchor="middle" font-weight="normal" fill="#000" >5</text>
<text x="880.37" y="1006.60" font-size="17" text-anchor="middle" font-weight="normal" fill="#000" >10</text>
<text x="916.30" y="1006.60" font-size="17" text-anchor="middle" font-weight="normal" fill="#000" >15</text>
<text x="952.23" y="1006.60" font-size="17" text-anchor="middle" font-weight="normal" fill="#000" >20</text>
<text x="988.17" y="1006.60" font-size="17" text-anchor="middle" font-weight="normal" fill="#000" >25</text>
<text x="1024.10" y="1006.60" font-size="17" text-anchor="middle" font-weight="normal" fill="#000" >30</text>
<text x="919.30" y="1023.80" font-size="18" text-anchor="middle" font-weight="bold" fill="#000" >Time (s)</text>
<text x="776.50" y="866.80" font-size="18" text-anchor="middle" font-weight="bold" fill="#000" transform="rotate(-90 776.50 866.80)">Current (a. u.)</text>
<text x="757.00" y="767.50" font-size="20" text-anchor="start" font-weight="normal" fill="#000" >(c)</text>
<text x="1021.10" y="772.70" font-size="13" text-anchor="end" font-weight="bold" fill="#3030ff" >900°C</text>
<text x="826.50" y="784.70" font-size="14" text-anchor="start" font-weight="bold" fill="#1c6a84" >90%</text>
<text x="828.00" y="950.00" font-size="14" text-anchor="start" font-weight="bold" fill="#1c6a84" >10%</text>
<text x="976.30" y="842.70" font-size="14" text-anchor="start" font-weight="bold" fill="#000" >μW/cm<tspan dy="-6" font-size="9">2</tspan></text>
<line x1="974.80" y1="855.80" x2="1001.60" y2="855.80" stroke="#ff7f0e" stroke-width="2.2"/>
<polygon points="992.20,855.80 985.40,852.00 985.40,859.60" fill="#ff7f0e"/>
<text x="1004.30" y="860.60" font-size="14" text-anchor="start" font-weight="bold" fill="#000" >64</text>
<line x1="974.80" y1="873.25" x2="1001.60" y2="873.25" stroke="#ff00ff" stroke-width="2.2"/>
<polygon points="984.20,873.25 991.00,869.45 991.00,877.05" fill="#ff00ff"/>
<text x="1004.30" y="878.05" font-size="14" text-anchor="start" font-weight="bold" fill="#000" >49</text>
<line x1="974.80" y1="890.70" x2="1001.60" y2="890.70" stroke="#0000ff" stroke-width="2.2"/>
<polygon points="988.20,894.70 984.40,887.90 992.00,887.90" fill="#0000ff"/>
<text x="1004.30" y="895.50" font-size="14" text-anchor="start" font-weight="bold" fill="#000" >32</text>
<line x1="974.80" y1="908.15" x2="1001.60" y2="908.15" stroke="#00ff00" stroke-width="2.2"/>
<polygon points="988.20,904.15 984.40,910.95 992.00,910.95" fill="#00ff00"/>
<text x="1004.30" y="912.95" font-size="14" text-anchor="start" font-weight="bold" fill="#000" >17</text>
<line x1="974.80" y1="925.60" x2="1001.60" y2="925.60" stroke="#ff0000" stroke-width="2.2"/>
<circle cx="988.20" cy="925.60" r="3.80" fill="#ff0000"/>
<text x="1004.30" y="930.40" font-size="14" text-anchor="start" font-weight="bold" fill="#000" >3</text>
<path d="M328.20,1235.07 L442.00,1234.50 L555.80,1246.60" fill="none" stroke="#ff800e" stroke-width="2" stroke-linejoin="round"/>
<polygon points="332.00,1235.07 325.54,1231.46 325.54,1238.68" fill="#ff800e"/>
<polygon points="445.80,1234.50 439.34,1230.89 439.34,1238.11" fill="#ff800e"/>
<polygon points="559.60,1246.60 553.14,1242.99 553.14,1250.21" fill="#ff800e"/>
<path d="M328.20,1227.47 L442.00,1226.07 L555.80,1240.13" fill="none" stroke="#ff00ff" stroke-width="2" stroke-linejoin="round"/>
<polygon points="324.40,1227.47 330.86,1223.86 330.86,1231.08" fill="#ff00ff"/>
<polygon points="438.20,1226.07 444.66,1222.46 444.66,1229.68" fill="#ff00ff"/>
<polygon points="552.00,1240.13 558.46,1236.52 558.46,1243.74" fill="#ff00ff"/>
<path d="M328.20,1210.04 L442.00,1208.63 L555.80,1228.88" fill="none" stroke="#1d6fe0" stroke-width="2" stroke-linejoin="round"/>
<polygon points="328.20,1213.84 324.59,1207.38 331.81,1207.38" fill="#1d6fe0"/>
<polygon points="442.00,1212.43 438.39,1205.97 445.61,1205.97" fill="#1d6fe0"/>
<polygon points="555.80,1232.68 552.19,1226.22 559.41,1226.22" fill="#1d6fe0"/>
<path d="M328.20,1160.83 L442.00,1158.02 L555.80,1194.29" fill="none" stroke="#00ff00" stroke-width="2" stroke-linejoin="round"/>
<polygon points="328.20,1157.03 324.59,1163.49 331.81,1163.49" fill="#00ff00"/>
<polygon points="442.00,1154.22 438.39,1160.68 445.61,1160.68" fill="#00ff00"/>
<polygon points="555.80,1190.49 552.19,1196.95 559.41,1196.95" fill="#00ff00"/>
<path d="M328.20,1077.59 L442.00,1076.19 L555.80,1098.97" fill="none" stroke="#ff0000" stroke-width="2" stroke-linejoin="round"/>
<circle cx="328.20" cy="1077.59" r="3.61" fill="#ff0000"/>
<circle cx="442.00" cy="1076.19" r="3.61" fill="#ff0000"/>
<circle cx="555.80" cy="1098.97" r="3.61" fill="#ff0000"/>
<rect x="316.70" y="1046.10" width="251.00" height="210.90" fill="none" stroke="#000" stroke-width="2.3"/>
<line x1="316.70" y1="1242.94" x2="321.20" y2="1242.94" stroke="#000" stroke-width="1.8"/>
<text x="310.70" y="1248.94" font-size="17" text-anchor="end" font-weight="normal" fill="#000" >1</text>
<line x1="316.70" y1="1214.82" x2="321.20" y2="1214.82" stroke="#000" stroke-width="1.8"/>
<text x="310.70" y="1220.82" font-size="17" text-anchor="end" font-weight="normal" fill="#000" >2</text>
<line x1="316.70" y1="1186.70" x2="321.20" y2="1186.70" stroke="#000" stroke-width="1.8"/>
<text x="310.70" y="1192.70" font-size="17" text-anchor="end" font-weight="normal" fill="#000" >3</text>
<line x1="316.70" y1="1158.58" x2="321.20" y2="1158.58" stroke="#000" stroke-width="1.8"/>
<text x="310.70" y="1164.58" font-size="17" text-anchor="end" font-weight="normal" fill="#000" >4</text>
<line x1="316.70" y1="1130.46" x2="321.20" y2="1130.46" stroke="#000" stroke-width="1.8"/>
<text x="310.70" y="1136.46" font-size="17" text-anchor="end" font-weight="normal" fill="#000" >5</text>
<line x1="316.70" y1="1102.34" x2="321.20" y2="1102.34" stroke="#000" stroke-width="1.8"/>
<text x="310.70" y="1108.34" font-size="17" text-anchor="end" font-weight="normal" fill="#000" >6</text>
<line x1="316.70" y1="1074.22" x2="321.20" y2="1074.22" stroke="#000" stroke-width="1.8"/>
<text x="310.70" y="1080.22" font-size="17" text-anchor="end" font-weight="normal" fill="#000" >7</text>
<text x="310.70" y="1052.10" font-size="17" text-anchor="end" font-weight="normal" fill="#000" >8</text>
<line x1="328.20" y1="1257.00" x2="328.20" y2="1252.50" stroke="#000" stroke-width="1.8"/>
<text x="328.20" y="1275.50" font-size="17" text-anchor="middle" font-weight="normal" fill="#000" >700</text>
<line x1="442.00" y1="1257.00" x2="442.00" y2="1252.50" stroke="#000" stroke-width="1.8"/>
<text x="442.00" y="1275.50" font-size="17" text-anchor="middle" font-weight="normal" fill="#000" >800</text>
<line x1="555.80" y1="1257.00" x2="555.80" y2="1252.50" stroke="#000" stroke-width="1.8"/>
<text x="555.80" y="1275.50" font-size="17" text-anchor="middle" font-weight="normal" fill="#000" >900</text>
<text x="444.50" y="1298.80" font-size="18" text-anchor="middle" font-weight="bold" fill="#000" >Temperature(°C)</text>
<text x="287.00" y="1151.55" font-size="18" text-anchor="middle" font-weight="bold" fill="#000" transform="rotate(-90 287.00 1151.55)">Rise time (s)</text>
<text x="248.50" y="1056.80" font-size="20" text-anchor="start" font-weight="normal" fill="#000" >(d)</text>
<line x1="524.40" y1="1109.90" x2="548.40" y2="1109.90" stroke="#ff0000" stroke-width="2.1"/>
<circle cx="536.40" cy="1109.90" r="3.42" fill="#ff0000"/>
<text x="551.90" y="1114.70" font-size="14" text-anchor="start" font-weight="bold" fill="#000" >3</text>
<line x1="524.40" y1="1127.90" x2="548.40" y2="1127.90" stroke="#00ff00" stroke-width="2.1"/>
<polygon points="536.40,1124.30 532.98,1130.42 539.82,1130.42" fill="#00ff00"/>
<text x="551.90" y="1132.70" font-size="14" text-anchor="start" font-weight="bold" fill="#000" >17</text>
<line x1="524.40" y1="1145.90" x2="548.40" y2="1145.90" stroke="#1d6fe0" stroke-width="2.1"/>
<polygon points="536.40,1149.50 532.98,1143.38 539.82,1143.38" fill="#1d6fe0"/>
<text x="551.90" y="1150.70" font-size="14" text-anchor="start" font-weight="bold" fill="#000" >32</text>
<line x1="524.40" y1="1163.90" x2="548.40" y2="1163.90" stroke="#ff00ff" stroke-width="2.1"/>
<polygon points="532.80,1163.90 538.92,1160.48 538.92,1167.32" fill="#ff00ff"/>
<text x="551.90" y="1168.70" font-size="14" text-anchor="start" font-weight="bold" fill="#000" >49</text>
<line x1="524.40" y1="1181.90" x2="548.40" y2="1181.90" stroke="#ff800e" stroke-width="2.1"/>
<polygon points="540.00,1181.90 533.88,1178.48 533.88,1185.32" fill="#ff800e"/>
<text x="551.90" y="1186.70" font-size="14" text-anchor="start" font-weight="bold" fill="#000" >64</text>
<text x="519.50" y="1130.00" font-size="14" text-anchor="end" font-weight="bold" fill="#000" >Power density</text>
<text x="475.50" y="1150.00" font-size="14" text-anchor="middle" font-weight="bold" fill="#000" >(μW/cm<tspan dy="-5" font-size="9">2</tspan><tspan dy="5">)</tspan></text>
<path d="M703.80,1247.32 L817.60,1243.86 L931.40,1238.68" fill="none" stroke="#ff800e" stroke-width="2" stroke-linejoin="round"/>
<polygon points="707.60,1247.32 701.14,1243.71 701.14,1250.93" fill="#ff800e"/>
<polygon points="821.40,1243.86 814.94,1240.25 814.94,1247.47" fill="#ff800e"/>
<polygon points="935.20,1238.68 928.74,1235.07 928.74,1242.29" fill="#ff800e"/>
<path d="M703.80,1246.63 L817.60,1242.48 L931.40,1236.26" fill="none" stroke="#ff00ff" stroke-width="2" stroke-linejoin="round"/>
<polygon points="700.00,1246.63 706.46,1243.02 706.46,1250.24" fill="#ff00ff"/>
<polygon points="813.80,1242.48 820.26,1238.87 820.26,1246.09" fill="#ff00ff"/>
<polygon points="927.60,1236.26 934.06,1232.65 934.06,1239.87" fill="#ff00ff"/>
<path d="M703.80,1241.44 L817.60,1238.68 L931.40,1229.34" fill="none" stroke="#1d6fe0" stroke-width="2" stroke-linejoin="round"/>
<polygon points="703.80,1245.24 700.19,1238.78 707.41,1238.78" fill="#1d6fe0"/>
<polygon points="817.60,1242.48 813.99,1236.02 821.21,1236.02" fill="#1d6fe0"/>
<polygon points="931.40,1233.14 927.79,1226.68 935.01,1226.68" fill="#1d6fe0"/>
<path d="M703.80,1226.92 L817.60,1222.43 L931.40,1204.45" fill="none" stroke="#00ff00" stroke-width="2" stroke-linejoin="round"/>
<polygon points="703.80,1223.12 700.19,1229.58 707.41,1229.58" fill="#00ff00"/>
<polygon points="817.60,1218.63 813.99,1225.09 821.21,1225.09" fill="#00ff00"/>
<polygon points="931.40,1200.65 927.79,1207.11 935.01,1207.11" fill="#00ff00"/>
<path d="M703.80,1144.64 L817.60,1128.04 L931.40,1080.67" fill="none" stroke="#ff0000" stroke-width="2" stroke-linejoin="round"/>
<circle cx="703.80" cy="1144.64" r="3.61" fill="#ff0000"/>
<circle cx="817.60" cy="1128.04" r="3.61" fill="#ff0000"/>
<circle cx="931.40" cy="1080.67" r="3.61" fill="#ff0000"/>
<rect x="692.30" y="1046.10" width="251.00" height="210.90" fill="none" stroke="#000" stroke-width="2.3"/>
<line x1="692.30" y1="1253.54" x2="696.80" y2="1253.54" stroke="#000" stroke-width="1.8"/>
<text x="686.30" y="1259.54" font-size="17" text-anchor="end" font-weight="normal" fill="#000" >0</text>
<line x1="692.30" y1="1218.97" x2="696.80" y2="1218.97" stroke="#000" stroke-width="1.8"/>
<text x="686.30" y="1224.97" font-size="17" text-anchor="end" font-weight="normal" fill="#000" >1</text>
<line x1="692.30" y1="1184.40" x2="696.80" y2="1184.40" stroke="#000" stroke-width="1.8"/>
<text x="686.30" y="1190.40" font-size="17" text-anchor="end" font-weight="normal" fill="#000" >2</text>
<line x1="692.30" y1="1149.82" x2="696.80" y2="1149.82" stroke="#000" stroke-width="1.8"/>
<text x="686.30" y="1155.82" font-size="17" text-anchor="end" font-weight="normal" fill="#000" >3</text>
<line x1="692.30" y1="1115.25" x2="696.80" y2="1115.25" stroke="#000" stroke-width="1.8"/>
<text x="686.30" y="1121.25" font-size="17" text-anchor="end" font-weight="normal" fill="#000" >4</text>
<line x1="692.30" y1="1080.67" x2="696.80" y2="1080.67" stroke="#000" stroke-width="1.8"/>
<text x="686.30" y="1086.67" font-size="17" text-anchor="end" font-weight="normal" fill="#000" >5</text>
<text x="686.30" y="1052.10" font-size="17" text-anchor="end" font-weight="normal" fill="#000" >6</text>
<line x1="703.80" y1="1257.00" x2="703.80" y2="1252.50" stroke="#000" stroke-width="1.8"/>
<text x="703.80" y="1275.50" font-size="17" text-anchor="middle" font-weight="normal" fill="#000" >700</text>
<line x1="817.60" y1="1257.00" x2="817.60" y2="1252.50" stroke="#000" stroke-width="1.8"/>
<text x="817.60" y="1275.50" font-size="17" text-anchor="middle" font-weight="normal" fill="#000" >800</text>
<line x1="931.40" y1="1257.00" x2="931.40" y2="1252.50" stroke="#000" stroke-width="1.8"/>
<text x="931.40" y="1275.50" font-size="17" text-anchor="middle" font-weight="normal" fill="#000" >900</text>
<text x="815.90" y="1298.80" font-size="18" text-anchor="middle" font-weight="bold" fill="#000" >Temperature (°C)</text>
<text x="669.00" y="1151.55" font-size="18" text-anchor="middle" font-weight="bold" fill="#000" transform="rotate(-90 669.00 1151.55)">Decay time (s)</text>
<text x="626.50" y="1055.50" font-size="20" text-anchor="start" font-weight="normal" fill="#000" >(e)</text>
<line x1="701.70" y1="1056.80" x2="725.70" y2="1056.80" stroke="#ff0000" stroke-width="2.1"/>
<circle cx="713.70" cy="1056.80" r="3.42" fill="#ff0000"/>
<text x="729.20" y="1061.60" font-size="14" text-anchor="start" font-weight="bold" fill="#000" >3</text>
<line x1="701.70" y1="1074.80" x2="725.70" y2="1074.80" stroke="#00ff00" stroke-width="2.1"/>
<polygon points="713.70,1071.20 710.28,1077.32 717.12,1077.32" fill="#00ff00"/>
<text x="729.20" y="1079.60" font-size="14" text-anchor="start" font-weight="bold" fill="#000" >17</text>
<line x1="701.70" y1="1092.80" x2="725.70" y2="1092.80" stroke="#1d6fe0" stroke-width="2.1"/>
<polygon points="713.70,1096.40 710.28,1090.28 717.12,1090.28" fill="#1d6fe0"/>
<text x="729.20" y="1097.60" font-size="14" text-anchor="start" font-weight="bold" fill="#000" >32</text>
<line x1="701.70" y1="1110.80" x2="725.70" y2="1110.80" stroke="#ff00ff" stroke-width="2.1"/>
<polygon points="710.10,1110.80 716.22,1107.38 716.22,1114.22" fill="#ff00ff"/>
<text x="729.20" y="1115.60" font-size="14" text-anchor="start" font-weight="bold" fill="#000" >49</text>
<line x1="701.70" y1="1128.80" x2="725.70" y2="1128.80" stroke="#ff800e" stroke-width="2.1"/>
<polygon points="717.30,1128.80 711.18,1125.38 711.18,1132.22" fill="#ff800e"/>
<text x="729.20" y="1133.60" font-size="14" text-anchor="start" font-weight="bold" fill="#000" >64</text>
<text x="748.20" y="1083.60" font-size="14" text-anchor="start" font-weight="bold" fill="#000" >Power density</text>
<text x="791.90" y="1103.60" font-size="14" text-anchor="middle" font-weight="bold" fill="#000" >(μW/cm<tspan dy="-5" font-size="9">2</tspan><tspan dy="5">)</tspan></text>
<text font-family="Liberation Sans" font-size="64.0" text-anchor="middle" fill="#d2d2d2" fill-opacity="0.69" transform="translate(368,1087) rotate(-35.5)"><tspan x="22.58" y="0">A</tspan><tspan x="68.08" y="0">R</tspan><tspan x="108.77" y="0">T</tspan><tspan x="136.26" y="0">I</tspan><tspan x="169.03" y="0">C</tspan><tspan x="210.46" y="0">L</tspan><tspan x="249.70" y="0">E</tspan><tspan x="301.26" y="0">I</tspan><tspan x="335.68" y="0">N</tspan><tspan x="401.24" y="0">P</tspan><tspan x="444.07" y="0">R</tspan><tspan x="487.85" y="0">E</tspan><tspan x="529.65" y="0">S</tspan><tspan x="571.54" y="0">S</tspan></text>
</svg>
</body></html>
